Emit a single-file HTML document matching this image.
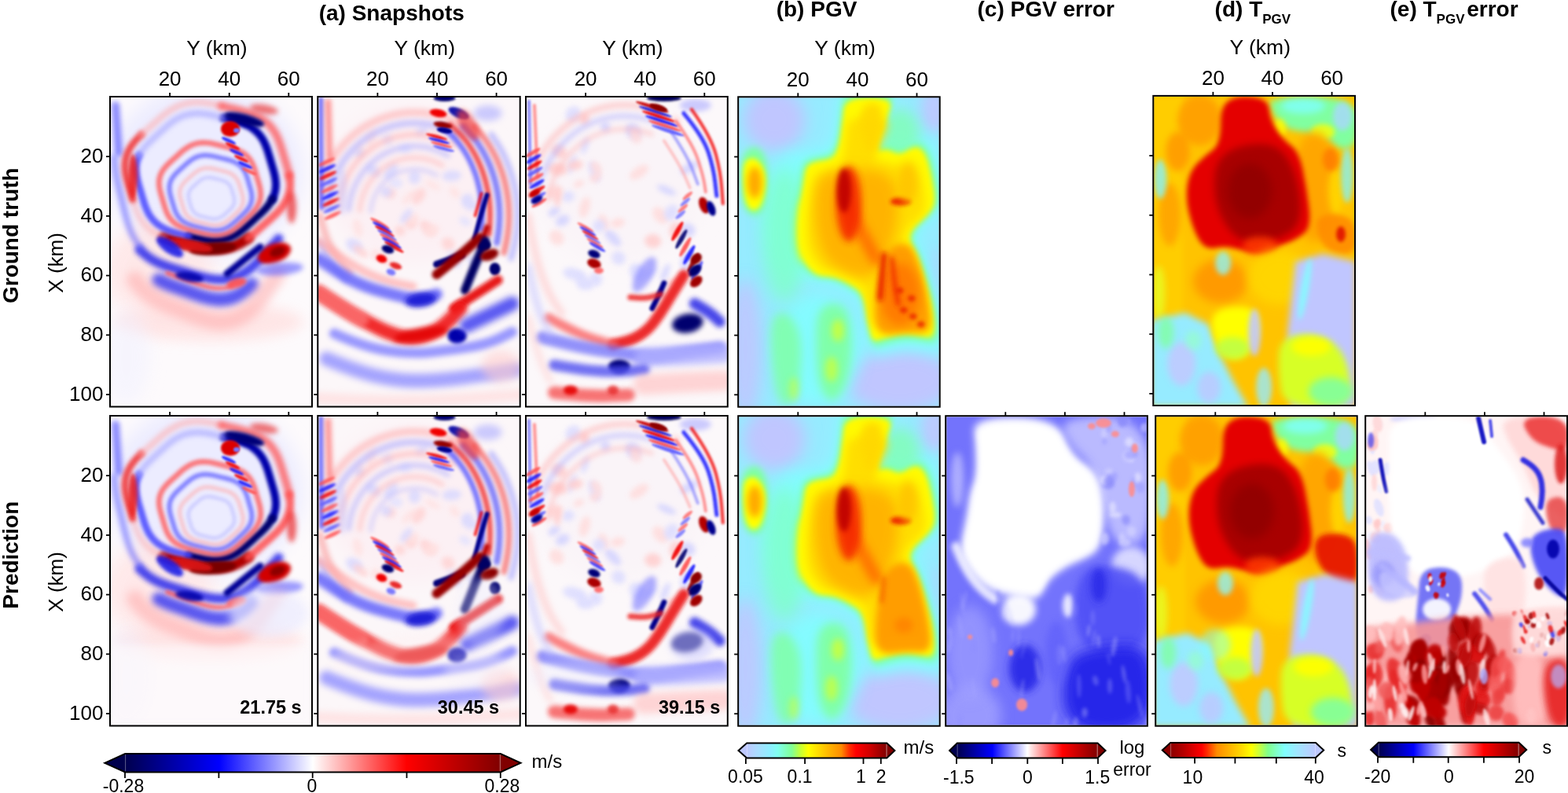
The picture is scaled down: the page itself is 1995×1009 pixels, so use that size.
<!DOCTYPE html>
<html><head><meta charset="utf-8"><title>Figure</title>
<style>html,body{margin:0;padding:0;background:#fff;}body{width:1995px;height:1009px;overflow:hidden;}svg{display:block;}text{fill:#000;}</style>
</head><body><svg width="1995" height="1009" viewBox="0 0 1995 1009" font-family="'Liberation Sans', Arial, sans-serif"><defs><linearGradient id="gseis" x1="0" x2="1" y1="0" y2="0"><stop offset="0.000" stop-color="rgb(0,0,77)"/><stop offset="0.250" stop-color="rgb(0,0,255)"/><stop offset="0.500" stop-color="rgb(255,255,255)"/><stop offset="0.750" stop-color="rgb(255,0,0)"/><stop offset="1.000" stop-color="rgb(128,0,0)"/></linearGradient><linearGradient id="gpgv" x1="0" x2="1" y1="0" y2="0"><stop offset="0.000" stop-color="rgb(190,200,255)"/><stop offset="0.074" stop-color="rgb(170,220,255)"/><stop offset="0.170" stop-color="rgb(140,240,255)"/><stop offset="0.220" stop-color="rgb(128,255,240)"/><stop offset="0.320" stop-color="rgb(128,255,150)"/><stop offset="0.386" stop-color="rgb(200,255,50)"/><stop offset="0.440" stop-color="rgb(255,255,0)"/><stop offset="0.590" stop-color="rgb(255,180,0)"/><stop offset="0.675" stop-color="rgb(255,140,0)"/><stop offset="0.730" stop-color="rgb(255,50,0)"/><stop offset="0.780" stop-color="rgb(255,0,0)"/><stop offset="0.875" stop-color="rgb(210,0,0)"/><stop offset="1.000" stop-color="rgb(128,0,0)"/></linearGradient><linearGradient id="gtpgv" x1="0" x2="1" y1="0" y2="0"><stop offset="0.000" stop-color="rgb(140,0,0)"/><stop offset="0.087" stop-color="rgb(180,0,0)"/><stop offset="0.215" stop-color="rgb(255,0,0)"/><stop offset="0.250" stop-color="rgb(255,40,0)"/><stop offset="0.320" stop-color="rgb(255,140,0)"/><stop offset="0.386" stop-color="rgb(255,170,0)"/><stop offset="0.495" stop-color="rgb(255,220,0)"/><stop offset="0.557" stop-color="rgb(255,255,0)"/><stop offset="0.603" stop-color="rgb(210,255,50)"/><stop offset="0.672" stop-color="rgb(128,255,140)"/><stop offset="0.786" stop-color="rgb(128,255,255)"/><stop offset="0.875" stop-color="rgb(160,230,255)"/><stop offset="1.000" stop-color="rgb(190,200,255)"/></linearGradient><clipPath id="c_a1r1"><rect x="141.0" y="124.0" width="255.0" height="392.5"/></clipPath><clipPath id="c_a2r1"><rect x="405.3" y="124.0" width="255.4" height="392.5"/></clipPath><clipPath id="c_a3r1"><rect x="670.0" y="124.0" width="254.8" height="392.5"/></clipPath><clipPath id="c_br1"><rect x="940.2" y="124.3" width="254.5" height="392.4"/></clipPath><clipPath id="c_dr1"><rect x="1468.3" y="122.9" width="254.7" height="392.1"/></clipPath><clipPath id="c_a1r2"><rect x="141.0" y="530.0" width="255.0" height="392.5"/></clipPath><clipPath id="c_a2r2"><rect x="405.3" y="530.0" width="255.4" height="392.5"/></clipPath><clipPath id="c_a3r2"><rect x="670.0" y="530.0" width="254.8" height="392.5"/></clipPath><clipPath id="c_br2"><rect x="940.2" y="530.2" width="254.5" height="392.5"/></clipPath><clipPath id="c_cr2"><rect x="1204.2" y="530.2" width="254.7" height="392.5"/></clipPath><clipPath id="c_dr2"><rect x="1471.2" y="530.2" width="254.5" height="392.5"/></clipPath><clipPath id="c_er2"><rect x="1738.2" y="530.2" width="254.8" height="392.5"/></clipPath><filter id="b0_8" filterUnits="userSpaceOnUse" x="-60" y="-60" width="380" height="520"><feGaussianBlur stdDeviation="0.8"/></filter><filter id="b1" filterUnits="userSpaceOnUse" x="-60" y="-60" width="380" height="520"><feGaussianBlur stdDeviation="1"/></filter><filter id="b1_2" filterUnits="userSpaceOnUse" x="-60" y="-60" width="380" height="520"><feGaussianBlur stdDeviation="1.2"/></filter><filter id="b1_3" filterUnits="userSpaceOnUse" x="-60" y="-60" width="380" height="520"><feGaussianBlur stdDeviation="1.3"/></filter><filter id="b1_5" filterUnits="userSpaceOnUse" x="-60" y="-60" width="380" height="520"><feGaussianBlur stdDeviation="1.5"/></filter><filter id="b2" filterUnits="userSpaceOnUse" x="-60" y="-60" width="380" height="520"><feGaussianBlur stdDeviation="2"/></filter><filter id="b2_5" filterUnits="userSpaceOnUse" x="-60" y="-60" width="380" height="520"><feGaussianBlur stdDeviation="2.5"/></filter><filter id="b3" filterUnits="userSpaceOnUse" x="-60" y="-60" width="380" height="520"><feGaussianBlur stdDeviation="3"/></filter><filter id="b4" filterUnits="userSpaceOnUse" x="-60" y="-60" width="380" height="520"><feGaussianBlur stdDeviation="4"/></filter><filter id="b5" filterUnits="userSpaceOnUse" x="-60" y="-60" width="380" height="520"><feGaussianBlur stdDeviation="5"/></filter><filter id="b6" filterUnits="userSpaceOnUse" x="-60" y="-60" width="380" height="520"><feGaussianBlur stdDeviation="6"/></filter><filter id="b7" filterUnits="userSpaceOnUse" x="-60" y="-60" width="380" height="520"><feGaussianBlur stdDeviation="7"/></filter><filter id="b8" filterUnits="userSpaceOnUse" x="-60" y="-60" width="380" height="520"><feGaussianBlur stdDeviation="8"/></filter><filter id="b10" filterUnits="userSpaceOnUse" x="-60" y="-60" width="380" height="520"><feGaussianBlur stdDeviation="10"/></filter><filter id="b12" filterUnits="userSpaceOnUse" x="-60" y="-60" width="380" height="520"><feGaussianBlur stdDeviation="12"/></filter></defs><g clip-path="url(#c_a1r1)"><g transform="translate(141.0,124.0) scale(1.0000,1.0013)"><rect x="0" y="0" width="255" height="392" fill="rgb(253,250,252)" opacity="1"/><ellipse cx="120" cy="95" rx="125" ry="110" fill="rgb(236,236,255)" opacity="1" filter="url(#b12)"/><ellipse cx="60" cy="220" rx="70" ry="60" fill="rgb(255,228,228)" opacity="0.8" filter="url(#b12)"/><ellipse cx="125" cy="285" rx="120" ry="25" fill="rgb(255,225,225)" opacity="0.8" filter="url(#b8)"/><ellipse cx="20" cy="330" rx="30" ry="60" fill="rgb(240,240,255)" opacity="0.5" filter="url(#b10)"/><path d="M6.0,10.0 Q8.0,40.0 9.0,55.0 L10.0,70.0" fill="none" stroke="rgb(90,90,255)" stroke-width="10" stroke-linecap="round" stroke-linejoin="round" opacity="0.7" filter="url(#b3)"/><path d="M213.5,179.5 Q205.0,189.1 200.7,194.0 Q196.4,198.8 192.0,203.6 Q187.5,208.5 182.6,213.0 Q177.7,217.5 172.2,221.1 Q166.7,224.8 160.7,227.3 Q154.7,229.7 148.3,230.7 Q142.0,231.6 135.6,231.3 Q129.3,230.9 123.1,229.6 Q116.9,228.3 110.9,226.6 Q104.9,224.9 99.1,223.1 Q93.3,221.3 87.4,219.6 Q81.5,217.8 75.6,215.9 Q69.6,214.0 63.7,211.6 Q57.8,209.2 52.2,205.8 Q46.5,202.4 41.6,197.9 L36.6,193.3" fill="none" stroke="rgb(40,40,235)" stroke-width="12" stroke-linecap="round" opacity="0.85" filter="url(#b3)"/><path d="M38.1,191.1 Q30.2,180.3 27.3,174.2 Q24.3,168.0 22.2,161.6 Q20.0,155.1 18.4,148.6 Q16.7,142.1 15.2,135.7 Q13.7,129.3 12.2,123.0 Q10.6,116.6 9.1,110.1 Q7.6,103.6 6.5,96.9 Q5.3,90.1 4.9,83.2 L4.5,76.2" fill="none" stroke="rgb(90,90,255)" stroke-width="8" stroke-linecap="round" opacity="0.55" filter="url(#b3)"/><path d="M179.7,237.7 Q170.2,246.2 164.9,249.3 Q159.7,252.5 154.1,254.3 Q148.5,256.1 142.7,256.5 Q136.9,256.9 131.2,256.1 Q125.5,255.3 120.0,253.8 Q114.4,252.3 109.1,250.4 Q103.7,248.6 98.4,246.7 Q93.1,244.8 87.9,243.0 Q82.6,241.1 77.2,239.2 Q71.8,237.2 66.5,234.7 L61.1,232.3" fill="none" stroke="rgb(60,60,240)" stroke-width="18" stroke-linecap="round" opacity="0.85" filter="url(#b4)"/><path d="M153.9,240.3 Q143.2,242.6 137.8,242.5 Q132.4,242.5 127.1,241.5 Q121.8,240.5 116.7,238.9 Q111.6,237.3 106.6,235.6 Q101.6,233.8 96.7,232.1 Q91.8,230.4 86.8,228.7 Q81.8,226.9 76.8,225.0 L71.7,223.1" fill="none" stroke="rgb(255,80,80)" stroke-width="5" stroke-linecap="round" opacity="0.8" filter="url(#b2)"/><path d="M211.8,223.9 Q203.2,236.7 198.7,243.1 Q194.3,249.5 189.5,255.6 Q184.7,261.8 179.4,267.1 Q174.0,272.4 168.1,276.3 Q162.2,280.2 156.0,282.3 Q149.7,284.5 143.2,284.9 Q136.8,285.2 130.4,284.1 Q124.0,283.0 117.8,281.0 Q111.7,279.0 105.7,276.6 Q99.7,274.3 93.8,271.9 Q87.9,269.6 82.0,267.3 Q76.1,265.0 70.0,262.4 Q64.0,259.8 58.0,256.5 Q52.1,253.1 46.4,248.5 Q40.8,244.0 35.8,237.9 L30.8,231.9" fill="none" stroke="rgb(255,170,170)" stroke-width="22" stroke-linecap="round" opacity="0.55" filter="url(#b6)"/><path d="M175.0,178.7 Q166.6,184.2 162.0,186.4 Q157.3,188.5 152.3,189.9 Q147.2,191.2 142.0,191.7 Q136.8,192.1 131.5,191.8 Q126.3,191.5 121.2,190.6 Q116.2,189.7 111.3,188.6 Q106.3,187.5 101.5,186.3 Q96.7,185.2 91.9,184.0 Q87.1,182.9 82.2,181.7 Q77.3,180.5 72.4,179.0 L67.5,177.5" fill="none" stroke="rgb(175,0,0)" stroke-width="14" stroke-linecap="round" opacity="1" filter="url(#b2_5)"/><path d="M227.0,99.0 Q228.2,107.9 228.1,112.4 Q227.9,116.9 226.8,121.3 Q225.8,125.7 223.7,129.8 Q221.7,134.0 219.0,137.7 Q216.2,141.5 213.0,144.9 Q209.8,148.3 206.3,151.4 Q202.9,154.6 199.5,157.6 Q196.0,160.6 192.6,163.6 Q189.2,166.6 185.8,169.7 Q182.3,172.7 178.7,175.7 L175.0,178.7" fill="none" stroke="rgb(255,80,80)" stroke-width="10" stroke-linecap="round" opacity="0.85" filter="url(#b2_5)"/><path d="M67.5,177.5 Q58.5,173.6 54.3,171.0 Q50.2,168.4 46.7,165.2 Q43.2,161.9 40.4,158.2 Q37.6,154.4 35.6,150.4 Q33.5,146.3 31.9,142.1 Q30.4,138.0 29.1,133.8 L27.8,129.6" fill="none" stroke="rgb(255,170,170)" stroke-width="8" stroke-linecap="round" opacity="0.5" filter="url(#b3)"/><path d="M27.8,129.6 Q25.3,121.3 24.1,117.2 Q22.8,113.0 21.5,108.8 Q20.3,104.6 19.4,100.2 Q18.4,95.8 18.1,91.3 Q17.7,86.7 18.2,82.2 Q18.7,77.7 20.2,73.3 Q21.6,69.0 24.0,65.0 Q26.3,60.9 29.3,57.3 Q32.3,53.6 35.7,50.3 L39.1,47.0" fill="none" stroke="rgb(240,50,50)" stroke-width="9" stroke-linecap="round" opacity="0.85" filter="url(#b2_5)"/><path d="M39.1,47.0 Q46.5,40.4 50.2,37.1 Q53.9,33.9 57.6,30.6 Q61.3,27.3 65.2,24.0 Q69.1,20.8 73.4,17.8 Q77.7,14.8 82.5,12.4 Q87.3,10.0 92.5,8.5 Q97.8,6.9 103.2,6.4 Q108.7,5.9 114.2,6.2 Q119.7,6.5 125.0,7.5 Q130.3,8.4 135.5,9.6 L140.6,10.8" fill="none" stroke="rgb(255,170,170)" stroke-width="8" stroke-linecap="round" opacity="0.6" filter="url(#b3)"/><path d="M140.6,10.8 Q150.3,13.1 155.2,14.2 Q160.1,15.4 165.1,16.6 Q170.0,17.9 175.0,19.4 Q179.9,21.0 184.6,23.2 Q189.4,25.4 193.6,28.3 Q197.8,31.2 201.3,34.7 Q204.7,38.3 207.4,42.4 Q210.0,46.5 212.0,50.8 Q213.9,55.2 215.4,59.6 Q216.9,64.0 218.2,68.3 Q219.5,72.7 220.8,77.0 Q222.1,81.3 223.4,85.6 Q224.7,90.0 225.9,94.5 L227.0,99.0" fill="none" stroke="rgb(255,80,80)" stroke-width="10" stroke-linecap="round" opacity="0.75" filter="url(#b3)"/><path d="M143.1,26.0 Q151.7,28.1 156.0,29.2 Q160.4,30.3 164.7,31.8 Q169.1,33.2 173.2,35.2 Q177.4,37.1 181.1,39.8 Q184.7,42.4 187.7,45.7 Q190.7,49.0 193.0,52.7 Q195.2,56.5 196.8,60.4 Q198.5,64.3 199.7,68.3 Q200.9,72.3 202.1,76.2 Q203.2,80.1 204.4,84.0 Q205.5,87.9 206.7,91.9 Q207.8,95.8 208.7,100.0 Q209.5,104.1 209.8,108.3 Q210.1,112.6 209.5,116.8 Q208.9,121.0 207.4,125.0 L205.8,129.1" fill="none" stroke="rgb(0,0,170)" stroke-width="10" stroke-linecap="round" opacity="1" filter="url(#b2)"/><path d="M205.8,129.1 Q201.4,136.1 198.6,139.3 Q195.9,142.4 192.9,145.3 Q189.9,148.2 186.8,150.9 Q183.8,153.6 180.8,156.4 Q177.9,159.1 174.8,161.8 Q171.8,164.6 168.6,167.3 Q165.4,170.0 161.9,172.4 Q158.3,174.9 154.4,176.8 Q150.4,178.7 146.2,179.9 Q141.9,181.1 137.4,181.6 Q133.0,182.0 128.5,181.7 Q124.1,181.4 119.8,180.7 Q115.4,179.9 111.3,179.0 Q107.1,178.0 103.0,177.0 L98.9,176.0" fill="none" stroke="rgb(0,0,110)" stroke-width="10" stroke-linecap="round" opacity="1" filter="url(#b2)"/><path d="M98.9,176.0 Q90.3,173.9 86.0,172.8 Q81.6,171.7 77.3,170.2 Q72.9,168.8 68.8,166.8 Q64.6,164.9 60.9,162.2 Q57.3,159.6 54.3,156.3 Q51.3,153.0 49.0,149.3 Q46.8,145.5 45.2,141.6 Q43.5,137.7 42.3,133.7 Q41.1,129.7 39.9,125.8 Q38.8,121.9 37.6,118.0 Q36.5,114.1 35.3,110.1 Q34.2,106.2 33.3,102.0 Q32.5,97.9 32.2,93.7 Q31.9,89.4 32.5,85.2 Q33.1,81.0 34.6,77.0 L36.2,72.9" fill="none" stroke="rgb(70,70,255)" stroke-width="9" stroke-linecap="round" opacity="0.85" filter="url(#b2)"/><path d="M36.2,72.9 Q40.6,65.9 43.4,62.7 Q46.1,59.6 49.1,56.7 Q52.1,53.8 55.2,51.1 Q58.2,48.4 61.2,45.6 Q64.1,42.9 67.2,40.2 Q70.2,37.4 73.4,34.7 Q76.6,32.0 80.1,29.6 Q83.7,27.1 87.6,25.2 Q91.6,23.3 95.8,22.1 Q100.1,20.9 104.6,20.4 Q109.0,20.0 113.5,20.3 Q117.9,20.6 122.2,21.3 Q126.6,22.1 130.7,23.0 Q134.9,24.0 139.0,25.0 L143.1,26.0" fill="none" stroke="rgb(170,170,255)" stroke-width="8" stroke-linecap="round" opacity="0.75" filter="url(#b3)"/><path d="M190.0,116.0 Q190.8,122.1 190.6,125.1 Q190.4,128.2 189.6,131.2 Q188.7,134.1 187.2,136.9 Q185.7,139.7 183.8,142.1 Q181.8,144.6 179.6,146.8 Q177.3,149.1 175.0,151.1 Q172.7,153.2 170.5,155.3 Q168.2,157.3 165.9,159.4 Q163.7,161.5 161.2,163.5 Q158.8,165.6 156.2,167.4 Q153.5,169.3 150.6,170.8 Q147.6,172.3 144.4,173.2 Q141.1,174.1 137.8,174.4 Q134.4,174.7 131.0,174.5 Q127.7,174.2 124.4,173.6 Q121.1,173.1 118.0,172.3 Q114.8,171.5 111.7,170.8 Q108.6,170.0 105.5,169.3 Q102.4,168.5 99.3,167.7 Q96.1,166.9 93.0,165.8 Q89.8,164.7 86.9,163.2 Q83.9,161.7 81.4,159.7 Q78.8,157.7 76.7,155.3 Q74.7,152.8 73.1,150.1 Q71.6,147.4 70.5,144.5 Q69.4,141.7 68.5,138.8 Q67.6,136.0 66.8,133.1 Q66.0,130.3 65.1,127.5 Q64.3,124.7 63.5,121.8 Q62.7,119.0 62.1,116.0 Q61.5,113.0 61.4,109.9 Q61.2,106.9 61.7,103.8 Q62.3,100.8 63.4,97.9 Q64.6,95.0 66.4,92.4 Q68.1,89.8 70.3,87.5 Q72.4,85.1 74.7,83.0 Q77.0,80.8 79.3,78.8 Q81.5,76.7 83.8,74.7 Q86.1,72.6 88.4,70.5 Q90.7,68.5 93.2,66.5 Q95.7,64.5 98.5,62.8 Q101.4,61.1 104.5,59.9 Q107.6,58.7 110.9,58.0 Q114.2,57.4 117.6,57.4 Q121.0,57.4 124.3,57.8 Q127.6,58.3 130.8,59.0 Q134.0,59.7 137.2,60.5 Q140.3,61.2 143.4,62.0 Q146.5,62.7 149.6,63.5 Q152.7,64.2 155.9,65.2 Q159.0,66.1 162.1,67.4 Q165.2,68.7 168.0,70.4 Q170.7,72.2 173.1,74.4 Q175.4,76.6 177.2,79.2 Q179.0,81.9 180.3,84.7 Q181.6,87.5 182.6,90.3 Q183.6,93.2 184.4,96.0 Q185.2,98.9 186.0,101.7 Q186.9,104.5 187.7,107.3 Q188.6,110.1 189.3,113.1 L190.0,116.0" fill="none" stroke="rgb(255,80,80)" stroke-width="7" stroke-linecap="round" opacity="0.75" filter="url(#b2)"/><path d="M179.0,121.0 Q179.6,125.9 179.5,128.4 Q179.3,130.9 178.7,133.3 Q178.0,135.7 176.7,137.9 Q175.5,140.2 173.9,142.2 Q172.3,144.2 170.5,146.0 Q168.7,147.8 166.8,149.5 Q165.0,151.2 163.1,152.8 Q161.3,154.5 159.4,156.2 Q157.6,157.8 155.6,159.5 Q153.7,161.2 151.5,162.7 Q149.4,164.2 147.0,165.4 Q144.5,166.6 141.9,167.3 Q139.3,168.1 136.6,168.3 Q133.8,168.6 131.1,168.4 Q128.3,168.2 125.7,167.7 Q123.0,167.2 120.5,166.6 Q117.9,166.0 115.4,165.4 Q112.9,164.8 110.4,164.2 Q107.8,163.6 105.3,162.9 Q102.7,162.2 100.2,161.3 Q97.6,160.5 95.2,159.2 Q92.8,158.0 90.7,156.4 Q88.6,154.8 87.0,152.8 Q85.3,150.8 84.0,148.6 Q82.8,146.4 81.9,144.1 Q81.0,141.8 80.3,139.5 Q79.6,137.2 78.9,134.9 Q78.2,132.6 77.5,130.3 Q76.9,128.1 76.2,125.7 Q75.5,123.4 75.1,121.0 Q74.6,118.6 74.5,116.1 Q74.4,113.6 74.8,111.1 Q75.2,108.7 76.2,106.3 Q77.1,104.0 78.6,101.9 Q80.0,99.8 81.7,97.9 Q83.5,96.0 85.3,94.2 Q87.2,92.5 89.0,90.8 Q90.9,89.2 92.7,87.5 Q94.5,85.8 96.4,84.2 Q98.3,82.5 100.4,80.9 Q102.4,79.3 104.7,77.9 Q107.0,76.5 109.5,75.5 Q112.0,74.5 114.7,74.0 Q117.4,73.5 120.2,73.5 Q122.9,73.5 125.6,73.9 Q128.3,74.2 130.9,74.8 Q133.5,75.4 136.1,76.0 Q138.6,76.6 141.1,77.2 Q143.6,77.8 146.2,78.4 Q148.7,79.1 151.3,79.8 Q153.9,80.6 156.3,81.6 Q158.8,82.7 161.1,84.1 Q163.4,85.5 165.2,87.3 Q167.1,89.1 168.6,91.2 Q170.1,93.3 171.1,95.6 Q172.2,97.9 173.0,100.2 Q173.8,102.5 174.4,104.8 Q175.1,107.1 175.8,109.4 Q176.5,111.7 177.1,114.0 Q177.8,116.3 178.4,118.6 L179.0,121.0" fill="none" stroke="rgb(90,90,255)" stroke-width="6" stroke-linecap="round" opacity="0.75" filter="url(#b2)"/><path d="M168.0,126.0 Q168.5,129.8 168.4,131.7 Q168.3,133.6 167.7,135.4 Q167.2,137.3 166.3,139.0 Q165.3,140.7 164.1,142.2 Q162.9,143.8 161.5,145.1 Q160.1,146.5 158.6,147.8 Q157.2,149.1 155.8,150.4 Q154.4,151.6 153.0,152.9 Q151.5,154.2 150.0,155.5 Q148.5,156.8 146.9,157.9 Q145.2,159.1 143.4,160.0 Q141.5,160.9 139.5,161.5 Q137.5,162.1 135.4,162.3 Q133.2,162.4 131.1,162.3 Q129.0,162.2 127.0,161.8 Q125.0,161.4 123.0,160.9 Q121.0,160.5 119.1,160.0 Q117.2,159.5 115.2,159.1 Q113.3,158.6 111.3,158.1 Q109.3,157.6 107.4,156.9 Q105.4,156.2 103.6,155.3 Q101.7,154.4 100.1,153.1 Q98.5,151.9 97.2,150.4 Q95.9,148.9 95.0,147.2 Q94.0,145.5 93.3,143.7 Q92.6,141.9 92.1,140.2 Q91.5,138.4 91.0,136.6 Q90.5,134.9 90.0,133.2 Q89.4,131.4 88.9,129.6 Q88.4,127.8 88.1,126.0 Q87.7,124.1 87.6,122.2 Q87.5,120.3 87.8,118.4 Q88.2,116.6 88.9,114.8 Q89.6,113.0 90.7,111.4 Q91.8,109.7 93.2,108.3 Q94.5,106.8 95.9,105.5 Q97.4,104.2 98.8,102.9 Q100.2,101.6 101.6,100.3 Q103.0,99.1 104.5,97.8 Q105.9,96.5 107.5,95.3 Q109.1,94.0 110.8,93.0 Q112.6,91.9 114.5,91.2 Q116.5,90.4 118.6,90.0 Q120.6,89.6 122.8,89.6 Q124.9,89.6 126.9,89.9 Q129.0,90.2 131.0,90.6 Q133.0,91.0 135.0,91.5 Q136.9,92.0 138.9,92.5 Q140.8,92.9 142.7,93.4 Q144.7,93.9 146.7,94.5 Q148.7,95.0 150.6,95.8 Q152.5,96.6 154.2,97.7 Q156.0,98.8 157.4,100.2 Q158.9,101.6 160.0,103.2 Q161.1,104.8 161.9,106.6 Q162.8,108.3 163.4,110.1 Q164.0,111.9 164.5,113.6 Q165.0,115.4 165.5,117.1 Q166.0,118.8 166.6,120.6 Q167.1,122.4 167.5,124.2 L168.0,126.0" fill="none" stroke="rgb(255,170,170)" stroke-width="5" stroke-linecap="round" opacity="0.6" filter="url(#b2)"/><path d="M157.0,128.0 Q157.3,130.7 157.3,132.1 Q157.2,133.5 156.8,134.8 Q156.4,136.1 155.7,137.4 Q155.1,138.6 154.2,139.7 Q153.3,140.8 152.3,141.8 Q151.3,142.8 150.2,143.8 Q149.2,144.7 148.2,145.6 Q147.1,146.5 146.1,147.5 Q145.1,148.4 144.0,149.3 Q142.9,150.2 141.7,151.1 Q140.5,151.9 139.1,152.6 Q137.8,153.2 136.3,153.6 Q134.9,154.1 133.3,154.2 Q131.8,154.3 130.3,154.2 Q128.8,154.1 127.3,153.8 Q125.8,153.6 124.4,153.2 Q122.9,152.9 121.5,152.6 Q120.1,152.2 118.7,151.9 Q117.3,151.6 115.9,151.2 Q114.5,150.8 113.0,150.3 Q111.6,149.8 110.3,149.2 Q108.9,148.5 107.8,147.6 Q106.6,146.7 105.7,145.6 Q104.7,144.5 104.0,143.3 Q103.3,142.1 102.8,140.8 Q102.3,139.5 101.9,138.2 Q101.5,136.9 101.2,135.7 Q100.8,134.4 100.4,133.2 Q100.0,131.9 99.7,130.6 Q99.3,129.3 99.0,128.0 Q98.8,126.6 98.7,125.3 Q98.7,123.9 98.9,122.5 Q99.1,121.2 99.7,119.9 Q100.2,118.6 101.0,117.4 Q101.8,116.3 102.8,115.2 Q103.7,114.2 104.8,113.2 Q105.8,112.2 106.8,111.3 Q107.9,110.4 108.9,109.5 Q109.9,108.5 111.0,107.6 Q112.0,106.7 113.1,105.8 Q114.3,104.9 115.6,104.1 Q116.8,103.4 118.2,102.8 Q119.7,102.3 121.2,102.0 Q122.7,101.7 124.2,101.7 Q125.7,101.7 127.2,101.9 Q128.7,102.1 130.2,102.4 Q131.6,102.8 133.1,103.1 Q134.5,103.4 135.9,103.8 Q137.3,104.1 138.7,104.5 Q140.1,104.8 141.5,105.2 Q143.0,105.6 144.4,106.2 Q145.8,106.8 147.0,107.6 Q148.3,108.4 149.3,109.4 Q150.4,110.4 151.2,111.5 Q152.0,112.7 152.6,114.0 Q153.2,115.2 153.6,116.5 Q154.1,117.8 154.5,119.1 Q154.8,120.3 155.2,121.6 Q155.6,122.8 156.0,124.1 Q156.3,125.4 156.7,126.7 L157.0,128.0" fill="none" stroke="rgb(170,170,255)" stroke-width="4" stroke-linecap="round" opacity="0.55" filter="url(#b2)"/><ellipse cx="170" cy="28" rx="26" ry="7" fill="rgb(0,0,120)" opacity="1" transform="rotate(15 170 28)" filter="url(#b2)"/><ellipse cx="152" cy="40" rx="12" ry="10" fill="rgb(220,0,0)" opacity="1" filter="url(#b1_5)"/><ellipse cx="160" cy="42" rx="4" ry="3" fill="rgb(120,120,255)" opacity="1" filter="url(#b1)"/><ellipse cx="150" cy="55" rx="10" ry="2.5" fill="rgb(20,20,255)" opacity="0.85" transform="rotate(25 150 55)" filter="url(#b1)"/><ellipse cx="155" cy="62" rx="10" ry="2.5" fill="rgb(240,0,0)" opacity="0.85" transform="rotate(25 155 62)" filter="url(#b1)"/><ellipse cx="160" cy="70" rx="10" ry="2.5" fill="rgb(20,20,255)" opacity="0.85" transform="rotate(25 160 70)" filter="url(#b1)"/><ellipse cx="166" cy="78" rx="10" ry="2.5" fill="rgb(240,0,0)" opacity="0.85" transform="rotate(25 166 78)" filter="url(#b1)"/><ellipse cx="171" cy="86" rx="10" ry="2.5" fill="rgb(20,20,255)" opacity="0.85" transform="rotate(25 171 86)" filter="url(#b1)"/><ellipse cx="176" cy="94" rx="10" ry="2.5" fill="rgb(255,80,80)" opacity="0.85" transform="rotate(25 176 94)" filter="url(#b1)"/><ellipse cx="130" cy="192" rx="30" ry="8" fill="rgb(120,0,0)" opacity="1" transform="rotate(-5 130 192)" filter="url(#b2)"/><ellipse cx="100" cy="188" rx="30" ry="7" fill="rgb(220,20,20)" opacity="0.9" transform="rotate(10 100 188)" filter="url(#b2)"/><ellipse cx="208" cy="198" rx="22" ry="12" fill="rgb(210,0,0)" opacity="1" transform="rotate(-20 208 198)" filter="url(#b2_5)"/><ellipse cx="212" cy="196" rx="10" ry="6" fill="rgb(140,0,0)" opacity="1" transform="rotate(-20 212 196)" filter="url(#b2)"/><path d="M148.0,224.0 Q165.0,210.0 177.5,200.0 L190.0,190.0" fill="none" stroke="rgb(0,0,150)" stroke-width="9" stroke-linecap="round" stroke-linejoin="round" opacity="1" filter="url(#b2)"/><ellipse cx="160" cy="236" rx="13" ry="6" fill="rgb(255,80,80)" opacity="0.9" transform="rotate(-15 160 236)" filter="url(#b2)"/><ellipse cx="75" cy="190" rx="20" ry="8" fill="rgb(30,30,230)" opacity="0.9" transform="rotate(35 75 190)" filter="url(#b2)"/><ellipse cx="100" cy="228" rx="18" ry="6" fill="rgb(0,0,170)" opacity="0.9" transform="rotate(10 100 228)" filter="url(#b2)"/><ellipse cx="215" cy="218" rx="30" ry="8" fill="rgb(90,90,255)" opacity="0.6" transform="rotate(-5 215 218)" filter="url(#b3)"/><ellipse cx="28" cy="100" rx="6" ry="28" fill="rgb(235,30,30)" opacity="0.85" filter="url(#b2)"/><ellipse cx="230" cy="140" rx="6" ry="20" fill="rgb(235,40,40)" opacity="0.7" filter="url(#b3)"/><ellipse cx="195" cy="15" rx="18" ry="6" fill="rgb(235,60,60)" opacity="0.7" transform="rotate(10 195 15)" filter="url(#b3)"/></g></g><rect x="140.0" y="123.0" width="257.0" height="394.5" fill="none" stroke="#000" stroke-width="2"/><line x1="216.1" y1="118.0" x2="216.1" y2="123.0" stroke="#000" stroke-width="1.8"/><line x1="291.7" y1="118.0" x2="291.7" y2="123.0" stroke="#000" stroke-width="1.8"/><line x1="367.3" y1="118.0" x2="367.3" y2="123.0" stroke="#000" stroke-width="1.8"/><line x1="135.0" y1="199.2" x2="140.0" y2="199.2" stroke="#000" stroke-width="1.8"/><line x1="135.0" y1="274.9" x2="140.0" y2="274.9" stroke="#000" stroke-width="1.8"/><line x1="135.0" y1="350.6" x2="140.0" y2="350.6" stroke="#000" stroke-width="1.8"/><line x1="135.0" y1="426.3" x2="140.0" y2="426.3" stroke="#000" stroke-width="1.8"/><line x1="135.0" y1="502.0" x2="140.0" y2="502.0" stroke="#000" stroke-width="1.8"/><g clip-path="url(#c_a2r1)"><g transform="translate(405.3,124.0) scale(1.0016,1.0013)"><rect x="0" y="0" width="255" height="392" fill="rgb(252,247,249)" opacity="1"/><ellipse cx="120" cy="110" rx="110" ry="100" fill="rgb(252,240,244)" opacity="1" filter="url(#b12)"/><ellipse cx="138.4" cy="166.1" rx="11.9" ry="7.1" fill="rgb(255,210,210)" opacity="0.8" transform="rotate(45 138.4 166.1)" filter="url(#b3)"/><ellipse cx="52.8" cy="66.7" rx="9.3" ry="5.0" fill="rgb(255,225,225)" opacity="0.8" transform="rotate(98 52.8 66.7)" filter="url(#b3)"/><ellipse cx="131.1" cy="42.2" rx="8.9" ry="4.7" fill="rgb(215,215,255)" opacity="0.8" transform="rotate(156 131.1 42.2)" filter="url(#b3)"/><ellipse cx="103.4" cy="169.5" rx="7.0" ry="6.5" fill="rgb(255,210,210)" opacity="0.8" transform="rotate(23 103.4 169.5)" filter="url(#b3)"/><ellipse cx="45.3" cy="188.1" rx="11.4" ry="7.8" fill="rgb(215,215,255)" opacity="0.8" transform="rotate(30 45.3 188.1)" filter="url(#b3)"/><ellipse cx="70.0" cy="93.3" rx="9.8" ry="6.7" fill="rgb(215,215,255)" opacity="0.8" transform="rotate(37 70.0 93.3)" filter="url(#b3)"/><ellipse cx="186.1" cy="157.4" rx="8.1" ry="5.4" fill="rgb(225,225,255)" opacity="0.8" transform="rotate(30 186.1 157.4)" filter="url(#b3)"/><ellipse cx="66.9" cy="51.1" rx="11.7" ry="6.3" fill="rgb(255,225,225)" opacity="0.8" transform="rotate(107 66.9 51.1)" filter="url(#b3)"/><ellipse cx="151.2" cy="51.2" rx="11.7" ry="5.9" fill="rgb(255,225,225)" opacity="0.8" transform="rotate(57 151.2 51.2)" filter="url(#b3)"/><ellipse cx="117.2" cy="159.8" rx="7.8" ry="7.8" fill="rgb(255,210,210)" opacity="0.8" transform="rotate(171 117.2 159.8)" filter="url(#b3)"/><ellipse cx="98.6" cy="108.7" rx="8.6" ry="6.3" fill="rgb(225,225,255)" opacity="0.8" transform="rotate(2 98.6 108.7)" filter="url(#b3)"/><ellipse cx="52.0" cy="70.8" rx="6.8" ry="5.0" fill="rgb(215,215,255)" opacity="0.8" transform="rotate(148 52.0 70.8)" filter="url(#b3)"/><ellipse cx="114.3" cy="127.1" rx="11.4" ry="4.4" fill="rgb(255,225,225)" opacity="0.8" transform="rotate(135 114.3 127.1)" filter="url(#b3)"/><ellipse cx="164.6" cy="186.1" rx="9.0" ry="7.9" fill="rgb(255,210,210)" opacity="0.8" transform="rotate(38 164.6 186.1)" filter="url(#b3)"/><ellipse cx="121.9" cy="101.6" rx="8.4" ry="7.7" fill="rgb(215,215,255)" opacity="0.8" transform="rotate(98 121.9 101.6)" filter="url(#b3)"/><ellipse cx="91.9" cy="93.9" rx="11.6" ry="6.5" fill="rgb(215,215,255)" opacity="0.8" transform="rotate(130 91.9 93.9)" filter="url(#b3)"/><ellipse cx="91.4" cy="122.2" rx="6.6" ry="6.4" fill="rgb(255,210,210)" opacity="0.8" transform="rotate(166 91.4 122.2)" filter="url(#b3)"/><ellipse cx="49.8" cy="165.9" rx="11.8" ry="5.8" fill="rgb(255,225,225)" opacity="0.8" transform="rotate(76 49.8 165.9)" filter="url(#b3)"/><ellipse cx="53.4" cy="195.7" rx="11.6" ry="5.3" fill="rgb(255,210,210)" opacity="0.8" transform="rotate(37 53.4 195.7)" filter="url(#b3)"/><ellipse cx="192.2" cy="135.9" rx="10.4" ry="7.2" fill="rgb(215,215,255)" opacity="0.8" transform="rotate(19 192.2 135.9)" filter="url(#b3)"/><ellipse cx="110.2" cy="65.4" rx="8.1" ry="5.8" fill="rgb(225,225,255)" opacity="0.8" transform="rotate(180 110.2 65.4)" filter="url(#b3)"/><ellipse cx="172.8" cy="205.9" rx="12.7" ry="6.8" fill="rgb(225,225,255)" opacity="0.8" transform="rotate(57 172.8 205.9)" filter="url(#b3)"/><ellipse cx="86.1" cy="119.9" rx="6.8" ry="7.3" fill="rgb(215,215,255)" opacity="0.8" transform="rotate(96 86.1 119.9)" filter="url(#b3)"/><ellipse cx="71.9" cy="199.3" rx="7.3" ry="6.0" fill="rgb(255,225,225)" opacity="0.8" transform="rotate(93 71.9 199.3)" filter="url(#b3)"/><ellipse cx="127.2" cy="125.5" rx="11.5" ry="7.1" fill="rgb(255,210,210)" opacity="0.8" transform="rotate(125 127.2 125.5)" filter="url(#b3)"/><ellipse cx="144.6" cy="169.1" rx="9.9" ry="6.7" fill="rgb(255,225,225)" opacity="0.8" transform="rotate(150 144.6 169.1)" filter="url(#b3)"/><ellipse cx="84.7" cy="206.8" rx="12.7" ry="5.4" fill="rgb(255,225,225)" opacity="0.8" transform="rotate(32 84.7 206.8)" filter="url(#b3)"/><ellipse cx="172.8" cy="120.6" rx="8.3" ry="5.1" fill="rgb(255,225,225)" opacity="0.8" transform="rotate(52 172.8 120.6)" filter="url(#b3)"/><ellipse cx="120.1" cy="154.5" rx="8.4" ry="6.6" fill="rgb(255,225,225)" opacity="0.8" transform="rotate(133 120.1 154.5)" filter="url(#b3)"/><ellipse cx="169.2" cy="99.5" rx="12.1" ry="6.8" fill="rgb(215,215,255)" opacity="0.8" transform="rotate(176 169.2 99.5)" filter="url(#b3)"/><ellipse cx="188.5" cy="128.1" rx="7.4" ry="5.4" fill="rgb(215,215,255)" opacity="0.8" transform="rotate(154 188.5 128.1)" filter="url(#b3)"/><ellipse cx="87.4" cy="53.4" rx="7.2" ry="7.1" fill="rgb(225,225,255)" opacity="0.8" transform="rotate(105 87.4 53.4)" filter="url(#b3)"/><ellipse cx="144.8" cy="111.5" rx="11.0" ry="4.1" fill="rgb(255,225,225)" opacity="0.8" transform="rotate(29 144.8 111.5)" filter="url(#b3)"/><ellipse cx="111.2" cy="150.5" rx="11.3" ry="4.7" fill="rgb(215,215,255)" opacity="0.8" transform="rotate(129 111.2 150.5)" filter="url(#b3)"/><ellipse cx="193.0" cy="206.6" rx="6.4" ry="4.5" fill="rgb(215,215,255)" opacity="0.8" transform="rotate(57 193.0 206.6)" filter="url(#b3)"/><path d="M-2.5,138.6 Q-0.8,125.5 0.7,119.1 Q2.1,112.7 4.2,106.5 Q6.3,100.3 9.0,94.3 Q11.6,88.4 14.8,82.7 Q18.1,77.1 21.8,71.8 Q25.5,66.5 29.8,61.7 Q34.0,56.8 38.7,52.4 Q43.3,48.0 48.4,44.1 Q53.5,40.2 58.9,36.9 Q64.3,33.6 70.0,30.8 Q75.7,28.1 81.6,26.0 Q87.5,23.8 93.7,22.3 Q99.8,20.8 106.0,20.0 Q112.2,19.2 118.5,19.0 Q124.7,18.8 131.0,19.3 Q137.2,19.7 143.4,20.9 Q149.6,22.0 155.6,23.8 Q161.7,25.5 167.5,27.9 Q173.3,30.3 178.9,33.3 L184.5,36.3" fill="none" stroke="rgb(255,170,170)" stroke-width="9" stroke-linecap="round" opacity="0.55" filter="url(#b3)"/><path d="M10.4,139.8 Q12.0,128.1 13.3,122.3 Q14.6,116.6 16.5,111.0 Q18.3,105.5 20.7,100.1 Q23.1,94.8 26.0,89.7 Q28.9,84.7 32.2,79.9 Q35.6,75.2 39.4,70.8 Q43.2,66.5 47.3,62.5 Q51.5,58.6 56.1,55.1 Q60.6,51.7 65.4,48.7 Q70.3,45.7 75.4,43.2 Q80.5,40.8 85.8,38.9 Q91.1,37.0 96.6,35.6 Q102.1,34.3 107.6,33.5 Q113.2,32.8 118.8,32.6 Q124.4,32.4 130.0,32.9 Q135.6,33.3 141.2,34.3 Q146.7,35.3 152.1,36.9 Q157.5,38.5 162.8,40.6 Q168.0,42.8 173.0,45.5 L178.0,48.2" fill="none" stroke="rgb(170,170,255)" stroke-width="8" stroke-linecap="round" opacity="0.6" filter="url(#b3)"/><path d="M24.4,141.0 Q25.7,130.8 26.9,125.8 Q28.0,120.8 29.7,115.9 Q31.3,111.0 33.4,106.4 Q35.5,101.7 38.0,97.3 Q40.5,92.8 43.4,88.7 Q46.4,84.5 49.7,80.7 Q53.0,76.9 56.7,73.5 Q60.3,70.0 64.3,67.0 Q68.3,63.9 72.5,61.3 Q76.7,58.7 81.2,56.6 Q85.7,54.4 90.3,52.8 Q95.0,51.1 99.8,49.9 Q104.6,48.7 109.4,48.1 Q114.3,47.4 119.2,47.3 Q124.1,47.1 129.0,47.5 Q133.9,47.9 138.8,48.8 Q143.6,49.6 148.4,51.0 Q153.1,52.4 157.7,54.3 Q162.3,56.2 166.6,58.5 L171.0,60.9" fill="none" stroke="rgb(255,170,170)" stroke-width="7" stroke-linecap="round" opacity="0.5" filter="url(#b3)"/><path d="M38.3,142.3 Q39.5,133.5 40.5,129.2 Q41.5,124.9 42.9,120.8 Q44.3,116.6 46.0,112.6 Q47.8,108.6 50.0,104.8 Q52.2,101.0 54.7,97.4 Q57.2,93.9 60.0,90.6 Q62.9,87.4 66.0,84.4 Q69.1,81.5 72.5,78.8 Q75.9,76.2 79.6,74.0 Q83.2,71.8 87.0,69.9 Q90.9,68.1 94.9,66.6 Q98.8,65.2 102.9,64.2 Q107.1,63.2 111.2,62.6 Q115.4,62.1 119.6,61.9 Q123.8,61.8 128.0,62.1 Q132.2,62.5 136.4,63.2 Q140.5,64.0 144.6,65.2 Q148.7,66.4 152.6,68.0 Q156.5,69.6 160.3,71.6 L164.0,73.6" fill="none" stroke="rgb(170,170,255)" stroke-width="7" stroke-linecap="round" opacity="0.5" filter="url(#b3)"/><path d="M52.3,143.6 Q53.2,136.3 54.1,132.7 Q54.9,129.1 56.0,125.6 Q57.2,122.2 58.7,118.8 Q60.2,115.5 62.0,112.3 Q63.8,109.2 65.9,106.2 Q68.0,103.2 70.4,100.5 Q72.7,97.8 75.3,95.3 Q77.9,92.9 80.8,90.7 Q83.6,88.5 86.6,86.7 Q89.7,84.8 92.9,83.3 Q96.1,81.7 99.4,80.5 Q102.7,79.3 106.1,78.5 Q109.5,77.7 113.0,77.2 Q116.5,76.7 120.0,76.6 Q123.5,76.5 127.0,76.8 Q130.5,77.0 134.0,77.7 Q137.4,78.3 140.8,79.3 Q144.2,80.3 147.5,81.6 Q150.8,83.0 153.9,84.7 L157.0,86.3" fill="none" stroke="rgb(255,170,170)" stroke-width="6" stroke-linecap="round" opacity="0.45" filter="url(#b3)"/><path d="M66.2,144.9 Q67.0,139.0 67.6,136.2 Q68.3,133.3 69.2,130.5 Q70.2,127.7 71.4,125.1 Q72.6,122.4 74.0,119.9 Q75.4,117.3 77.1,115.0 Q78.8,112.6 80.7,110.4 Q82.6,108.2 84.7,106.3 Q86.8,104.3 89.0,102.6 Q91.3,100.8 93.7,99.3 Q96.1,97.8 98.7,96.6 Q101.2,95.4 103.9,94.4 Q106.6,93.5 109.3,92.8 Q112.0,92.1 114.8,91.8 Q117.6,91.4 120.4,91.3 Q123.2,91.2 126.0,91.4 Q128.8,91.6 131.6,92.1 Q134.4,92.6 137.1,93.4 Q139.8,94.2 142.4,95.3 Q145.0,96.4 147.5,97.7 L150.0,99.1" fill="none" stroke="rgb(170,170,255)" stroke-width="5" stroke-linecap="round" opacity="0.4" filter="url(#b3)"/><path d="M3.0,2.0 Q3.0,60.0 3.5,100.0 L4.0,140.0" fill="none" stroke="rgb(90,90,255)" stroke-width="6" stroke-linecap="round" stroke-linejoin="round" opacity="0.85" filter="url(#b2)"/><path d="M12.0,5.0 Q13.0,40.0 13.5,58.0 L14.0,76.0" fill="none" stroke="rgb(255,80,80)" stroke-width="7" stroke-linecap="round" stroke-linejoin="round" opacity="0.65" filter="url(#b3)"/><ellipse cx="10" cy="82.0" rx="12" ry="2.6" fill="rgb(255,80,80)" opacity="0.85" transform="rotate(-25 10 82.0)" filter="url(#b1_5)"/><ellipse cx="11" cy="90.5" rx="12" ry="2.6" fill="rgb(20,20,255)" opacity="0.85" transform="rotate(-25 11 90.5)" filter="url(#b1_5)"/><ellipse cx="12" cy="99.0" rx="12" ry="2.6" fill="rgb(240,0,0)" opacity="0.85" transform="rotate(-25 12 99.0)" filter="url(#b1_5)"/><ellipse cx="13" cy="107.5" rx="12" ry="2.6" fill="rgb(90,90,255)" opacity="0.85" transform="rotate(-25 13 107.5)" filter="url(#b1_5)"/><ellipse cx="14" cy="116.0" rx="12" ry="2.6" fill="rgb(255,80,80)" opacity="0.85" transform="rotate(-25 14 116.0)" filter="url(#b1_5)"/><ellipse cx="15" cy="124.5" rx="12" ry="2.6" fill="rgb(20,20,255)" opacity="0.85" transform="rotate(-25 15 124.5)" filter="url(#b1_5)"/><ellipse cx="16" cy="133.0" rx="12" ry="2.6" fill="rgb(240,0,0)" opacity="0.85" transform="rotate(-25 16 133.0)" filter="url(#b1_5)"/><ellipse cx="17" cy="141.5" rx="12" ry="2.6" fill="rgb(90,90,255)" opacity="0.85" transform="rotate(-25 17 141.5)" filter="url(#b1_5)"/><ellipse cx="18" cy="150.0" rx="12" ry="2.6" fill="rgb(255,80,80)" opacity="0.85" transform="rotate(-25 18 150.0)" filter="url(#b1_5)"/><ellipse cx="30" cy="120" rx="6" ry="30" fill="rgb(200,200,255)" opacity="0.5" filter="url(#b3)"/><path d="M2.0,150.0 Q8.0,175.0 14.0,187.5 Q20.0,200.0 30.0,211.0 L40.0,222.0" fill="none" stroke="rgb(250,150,150)" stroke-width="9" stroke-linecap="round" stroke-linejoin="round" opacity="0.6" filter="url(#b3)"/><path d="M2.0,185.0 Q15.0,210.0 25.0,221.0 L35.0,232.0" fill="none" stroke="rgb(150,150,255)" stroke-width="7" stroke-linecap="round" stroke-linejoin="round" opacity="0.6" filter="url(#b3)"/><path d="M156.0,37.0 Q164.6,43.7 168.6,47.6 Q172.6,51.5 176.2,55.9 Q179.9,60.3 183.2,65.2 Q186.5,70.0 189.4,75.3 Q192.3,80.6 194.8,86.2 Q197.3,91.9 199.4,97.8 Q201.4,103.8 202.9,110.0 Q204.5,116.2 205.6,122.5 Q206.7,128.9 207.2,135.3 Q207.8,141.8 207.9,148.3 Q207.9,154.8 207.5,161.3 L207.0,167.8" fill="none" stroke="rgb(90,90,255)" stroke-width="7" stroke-linecap="round" opacity="0.8" filter="url(#b2)"/><path d="M167.2,34.7 Q176.0,42.3 180.1,46.7 Q184.1,51.1 187.8,55.9 Q191.5,60.8 194.8,66.1 Q198.1,71.3 201.0,77.0 Q203.8,82.7 206.3,88.7 Q208.7,94.7 210.6,101.0 Q212.5,107.2 213.9,113.7 Q215.4,120.2 216.3,126.8 Q217.2,133.4 217.6,140.1 Q218.0,146.8 217.8,153.6 Q217.7,160.3 217.0,166.9 L216.4,173.6" fill="none" stroke="rgb(240,60,60)" stroke-width="7" stroke-linecap="round" opacity="0.85" filter="url(#b2)"/><path d="M183.9,36.5 Q192.6,45.5 196.6,50.5 Q200.6,55.5 204.1,61.0 Q207.7,66.4 210.8,72.2 Q213.9,78.0 216.6,84.1 Q219.2,90.3 221.3,96.7 Q223.5,103.1 225.1,109.8 Q226.7,116.4 227.8,123.2 Q228.8,130.0 229.4,136.8 Q229.9,143.7 229.9,150.6 Q229.8,157.5 229.3,164.4 Q228.7,171.3 227.6,178.1 L226.4,184.8" fill="none" stroke="rgb(90,90,250)" stroke-width="8" stroke-linecap="round" opacity="0.75" filter="url(#b2_5)"/><path d="M198.3,37.0 Q207.3,47.3 211.4,52.9 Q215.4,58.5 219.0,64.6 Q222.5,70.6 225.6,77.0 Q228.6,83.4 231.1,90.1 Q233.6,96.8 235.6,103.7 Q237.5,110.7 238.8,117.8 Q240.2,124.9 240.9,132.2 Q241.7,139.4 241.8,146.7 Q242.0,154.0 241.5,161.3 Q241.0,168.5 239.9,175.7 Q238.9,182.9 237.2,189.9 L235.5,197.0" fill="none" stroke="rgb(245,100,100)" stroke-width="8" stroke-linecap="round" opacity="0.7" filter="url(#b2_5)"/><path d="M219.5,47.2 Q227.8,59.3 231.4,65.7 Q235.0,72.2 238.0,79.0 Q241.0,85.9 243.4,93.0 Q245.9,100.1 247.7,107.4 Q249.5,114.8 250.7,122.2 Q251.8,129.7 252.4,137.3 Q252.9,144.9 252.8,152.5 Q252.7,160.1 252.0,167.7 Q251.2,175.3 249.8,182.7 Q248.4,190.2 246.4,197.5 L244.4,204.7" fill="none" stroke="rgb(150,150,255)" stroke-width="7" stroke-linecap="round" opacity="0.6" filter="url(#b3)"/><ellipse cx="160" cy="1" rx="14" ry="4" fill="rgb(0,0,110)" opacity="1" filter="url(#b1_5)"/><ellipse cx="178" cy="20" rx="14" ry="6" fill="rgb(20,20,170)" opacity="1" transform="rotate(25 178 20)" filter="url(#b1_5)"/><ellipse cx="152" cy="20" rx="11" ry="5" fill="rgb(240,0,0)" opacity="1" transform="rotate(10 152 20)" filter="url(#b1_5)"/><ellipse cx="158" cy="35" rx="12" ry="4" fill="rgb(150,0,0)" opacity="1" transform="rotate(10 158 35)" filter="url(#b1_5)"/><ellipse cx="160" cy="42" rx="10" ry="3.5" fill="rgb(0,0,140)" opacity="1" transform="rotate(10 160 42)" filter="url(#b1_2)"/><ellipse cx="150" cy="50" rx="14" ry="2.2" fill="rgb(240,0,0)" opacity="0.85" transform="rotate(15 150 50)" filter="url(#b1_2)"/><ellipse cx="153" cy="55" rx="14" ry="2.2" fill="rgb(20,20,255)" opacity="0.85" transform="rotate(15 153 55)" filter="url(#b1_2)"/><ellipse cx="156" cy="60" rx="14" ry="2.2" fill="rgb(255,80,80)" opacity="0.85" transform="rotate(15 156 60)" filter="url(#b1_2)"/><ellipse cx="159" cy="65" rx="14" ry="2.2" fill="rgb(90,90,255)" opacity="0.85" transform="rotate(15 159 65)" filter="url(#b1_2)"/><ellipse cx="190" cy="35" rx="10" ry="22" fill="rgb(240,60,60)" opacity="0.7" transform="rotate(-30 190 35)" filter="url(#b3)"/><ellipse cx="215" cy="20" rx="18" ry="10" fill="rgb(170,170,255)" opacity="0.6" filter="url(#b4)"/><path d="M214.0,124.0 Q206.0,150.0 202.0,165.0 L198.0,180.0" fill="none" stroke="rgb(0,0,140)" stroke-width="6" stroke-linecap="round" stroke-linejoin="round" opacity="1" filter="url(#b1_5)"/><path d="M207.0,122.0 L199.0,150.0" fill="none" stroke="rgb(240,0,0)" stroke-width="4" stroke-linecap="round" stroke-linejoin="round" opacity="0.8" filter="url(#b1_5)"/><path d="M214.0,165.0 L205.0,190.0" fill="none" stroke="rgb(190,0,0)" stroke-width="7" stroke-linecap="round" stroke-linejoin="round" opacity="1" filter="url(#b2)"/><ellipse cx="211" cy="188" rx="8" ry="7" fill="rgb(0,0,100)" opacity="1" filter="url(#b1_5)"/><ellipse cx="78" cy="160" rx="14" ry="2.5" fill="rgb(255,80,80)" opacity="0.85" transform="rotate(30 78 160)" filter="url(#b1_3)"/><ellipse cx="81" cy="165" rx="14" ry="2.5" fill="rgb(20,20,255)" opacity="0.85" transform="rotate(30 81 165)" filter="url(#b1_3)"/><ellipse cx="84" cy="170" rx="14" ry="2.5" fill="rgb(240,0,0)" opacity="0.85" transform="rotate(30 84 170)" filter="url(#b1_3)"/><ellipse cx="87" cy="175" rx="14" ry="2.5" fill="rgb(90,90,255)" opacity="0.85" transform="rotate(30 87 175)" filter="url(#b1_3)"/><ellipse cx="90" cy="180" rx="14" ry="2.5" fill="rgb(255,80,80)" opacity="0.85" transform="rotate(30 90 180)" filter="url(#b1_3)"/><ellipse cx="93" cy="185" rx="14" ry="2.5" fill="rgb(20,20,255)" opacity="0.85" transform="rotate(30 93 185)" filter="url(#b1_3)"/><ellipse cx="96" cy="190" rx="14" ry="2.5" fill="rgb(240,0,0)" opacity="0.85" transform="rotate(30 96 190)" filter="url(#b1_3)"/><ellipse cx="88" cy="193" rx="8" ry="5" fill="rgb(0,0,110)" opacity="1" transform="rotate(20 88 193)" filter="url(#b1_5)"/><ellipse cx="80" cy="205" rx="7" ry="5" fill="rgb(240,0,0)" opacity="1" transform="rotate(20 80 205)" filter="url(#b1_5)"/><ellipse cx="98" cy="214" rx="8" ry="4" fill="rgb(230,20,20)" opacity="0.9" transform="rotate(20 98 214)" filter="url(#b1_5)"/><ellipse cx="92" cy="222" rx="6" ry="4" fill="rgb(90,90,255)" opacity="0.8" transform="rotate(20 92 222)" filter="url(#b1_5)"/><path d="M0.0,182.0 Q40.0,212.0 60.0,222.0 Q80.0,232.0 100.0,236.0 L120.0,240.0" fill="none" stroke="rgb(255,170,170)" stroke-width="10" stroke-linecap="round" stroke-linejoin="round" opacity="0.7" filter="url(#b3)"/><path d="M0.0,205.0 Q30.0,226.0 45.0,233.5 Q60.0,241.0 80.0,246.5 Q100.0,252.0 115.0,255.0 Q130.0,258.0 140.0,254.0 L150.0,250.0" fill="none" stroke="rgb(100,100,250)" stroke-width="15" stroke-linecap="round" stroke-linejoin="round" opacity="0.85" filter="url(#b3)"/><ellipse cx="130" cy="257" rx="20" ry="9" fill="rgb(20,20,210)" opacity="0.9" transform="rotate(-8 130 257)" filter="url(#b3)"/><path d="M150.0,212.0 Q165.0,207.0 173.5,203.5 L182.0,200.0" fill="none" stroke="rgb(0,0,120)" stroke-width="9" stroke-linecap="round" stroke-linejoin="round" opacity="1" filter="url(#b1_5)"/><path d="M150.0,225.0 Q175.0,205.0 190.0,191.5 L205.0,178.0" fill="none" stroke="rgb(150,0,0)" stroke-width="12" stroke-linecap="round" stroke-linejoin="round" opacity="1" filter="url(#b2)"/><path d="M212.0,182.0 Q200.0,210.0 193.0,227.5 L186.0,245.0" fill="none" stroke="rgb(0,0,100)" stroke-width="11" stroke-linecap="round" stroke-linejoin="round" opacity="1" filter="url(#b2)"/><ellipse cx="217" cy="200" rx="12" ry="7" fill="rgb(140,0,0)" opacity="1" transform="rotate(-20 217 200)" filter="url(#b2)"/><ellipse cx="224" cy="218" rx="7" ry="8" fill="rgb(0,0,110)" opacity="1" filter="url(#b1_5)"/><path d="M228.0,232.0 Q200.0,250.0 186.0,259.0 L172.0,268.0" fill="none" stroke="rgb(230,10,10)" stroke-width="12" stroke-linecap="round" stroke-linejoin="round" opacity="0.95" filter="url(#b2_5)"/><path d="M0.0,248.0 Q30.0,268.0 45.0,276.5 Q60.0,285.0 75.0,292.5 Q90.0,300.0 103.5,303.5 Q117.0,307.0 131.0,303.5 Q145.0,300.0 155.0,292.5 Q165.0,285.0 172.5,276.5 L180.0,268.0" fill="none" stroke="rgb(240,25,25)" stroke-width="18" stroke-linecap="round" stroke-linejoin="round" opacity="0.9" filter="url(#b3)"/><path d="M0.0,248.0 Q30.0,268.0 42.5,275.0 L55.0,282.0" fill="none" stroke="rgb(255,140,140)" stroke-width="18" stroke-linecap="round" stroke-linejoin="round" opacity="0.6" filter="url(#b3)"/><ellipse cx="130" cy="301" rx="35" ry="8" fill="rgb(225,0,0)" opacity="0.8" transform="rotate(-10 130 301)" filter="url(#b3)"/><ellipse cx="176" cy="303" rx="12" ry="10" fill="rgb(0,0,170)" opacity="1" filter="url(#b2)"/><path d="M188.0,290.0 Q215.0,277.0 230.5,269.5 L246.0,262.0" fill="none" stroke="rgb(60,60,240)" stroke-width="18" stroke-linecap="round" stroke-linejoin="round" opacity="0.85" filter="url(#b4)"/><path d="M20.0,300.0 Q60.0,318.0 88.5,322.0 Q117.0,326.0 138.5,324.0 Q160.0,322.0 187.0,318.0 Q214.0,314.0 230.0,306.0 L246.0,298.0" fill="none" stroke="rgb(120,120,255)" stroke-width="13" stroke-linecap="round" stroke-linejoin="round" opacity="0.75" filter="url(#b3)"/><path d="M10.0,332.0 Q48.0,348.0 74.0,354.0 Q100.0,360.0 125.0,360.0 Q150.0,360.0 182.0,356.0 Q214.0,352.0 232.0,349.0 L250.0,346.0" fill="none" stroke="rgb(135,135,255)" stroke-width="18" stroke-linecap="round" stroke-linejoin="round" opacity="0.75" filter="url(#b4)"/><ellipse cx="232" cy="342" rx="25" ry="20" fill="rgb(255,205,205)" opacity="0.6" filter="url(#b6)"/><path d="M0.0,382.0 Q100.0,388.0 177.5,383.0 L255.0,378.0" fill="none" stroke="rgb(255,215,215)" stroke-width="14" stroke-linecap="round" stroke-linejoin="round" opacity="0.6" filter="url(#b4)"/></g></g><rect x="404.3" y="123.0" width="257.4" height="394.5" fill="none" stroke="#000" stroke-width="2"/><line x1="480.4" y1="118.0" x2="480.4" y2="123.0" stroke="#000" stroke-width="1.8"/><line x1="556.0" y1="118.0" x2="556.0" y2="123.0" stroke="#000" stroke-width="1.8"/><line x1="631.6" y1="118.0" x2="631.6" y2="123.0" stroke="#000" stroke-width="1.8"/><line x1="399.3" y1="199.2" x2="404.3" y2="199.2" stroke="#000" stroke-width="1.8"/><line x1="399.3" y1="274.9" x2="404.3" y2="274.9" stroke="#000" stroke-width="1.8"/><line x1="399.3" y1="350.6" x2="404.3" y2="350.6" stroke="#000" stroke-width="1.8"/><line x1="399.3" y1="426.3" x2="404.3" y2="426.3" stroke="#000" stroke-width="1.8"/><line x1="399.3" y1="502.0" x2="404.3" y2="502.0" stroke="#000" stroke-width="1.8"/><g clip-path="url(#c_a3r1)"><g transform="translate(670.0,124.0) scale(0.9992,1.0013)"><rect x="0" y="0" width="255" height="392" fill="rgb(252,248,250)" opacity="1"/><ellipse cx="120" cy="110" rx="110" ry="100" fill="rgb(250,244,248)" opacity="1" filter="url(#b12)"/><ellipse cx="74.0" cy="139.7" rx="13.3" ry="6.4" fill="rgb(255,220,220)" opacity="0.85" transform="rotate(105 74.0 139.7)" filter="url(#b3)"/><ellipse cx="142.0" cy="219.9" rx="8.1" ry="5.2" fill="rgb(220,220,255)" opacity="0.85" transform="rotate(179 142.0 219.9)" filter="url(#b3)"/><ellipse cx="117.0" cy="204.0" rx="9.2" ry="8.3" fill="rgb(220,220,255)" opacity="0.85" transform="rotate(42 117.0 204.0)" filter="url(#b3)"/><ellipse cx="58.1" cy="223.7" rx="11.9" ry="7.4" fill="rgb(220,220,255)" opacity="0.85" transform="rotate(12 58.1 223.7)" filter="url(#b3)"/><ellipse cx="170.3" cy="150.0" rx="12.2" ry="8.1" fill="rgb(255,220,220)" opacity="0.85" transform="rotate(48 170.3 150.0)" filter="url(#b3)"/><ellipse cx="140.0" cy="222.4" rx="11.7" ry="8.6" fill="rgb(220,220,255)" opacity="0.85" transform="rotate(71 140.0 222.4)" filter="url(#b3)"/><ellipse cx="178.2" cy="117.8" rx="13.0" ry="4.5" fill="rgb(210,210,255)" opacity="0.85" transform="rotate(24 178.2 117.8)" filter="url(#b3)"/><ellipse cx="70.1" cy="232.4" rx="12.2" ry="8.3" fill="rgb(220,220,255)" opacity="0.85" transform="rotate(76 70.1 232.4)" filter="url(#b3)"/><ellipse cx="184.2" cy="146.3" rx="10.7" ry="8.5" fill="rgb(220,220,255)" opacity="0.85" transform="rotate(123 184.2 146.3)" filter="url(#b3)"/><ellipse cx="201.9" cy="208.4" rx="11.6" ry="5.6" fill="rgb(210,210,255)" opacity="0.85" transform="rotate(98 201.9 208.4)" filter="url(#b3)"/><ellipse cx="135.8" cy="42.9" rx="11.1" ry="8.9" fill="rgb(210,210,255)" opacity="0.85" transform="rotate(48 135.8 42.9)" filter="url(#b3)"/><ellipse cx="53.0" cy="126.0" rx="6.7" ry="8.0" fill="rgb(220,220,255)" opacity="0.85" transform="rotate(74 53.0 126.0)" filter="url(#b3)"/><ellipse cx="57.9" cy="84.7" rx="13.0" ry="4.2" fill="rgb(220,220,255)" opacity="0.85" transform="rotate(111 57.9 84.7)" filter="url(#b3)"/><ellipse cx="38.3" cy="178.1" rx="10.4" ry="8.6" fill="rgb(255,220,220)" opacity="0.85" transform="rotate(50 38.3 178.1)" filter="url(#b3)"/><ellipse cx="73.7" cy="27.9" rx="6.6" ry="7.0" fill="rgb(255,205,205)" opacity="0.85" transform="rotate(6 73.7 27.9)" filter="url(#b3)"/><ellipse cx="66.5" cy="109.7" rx="7.2" ry="4.2" fill="rgb(255,220,220)" opacity="0.85" transform="rotate(156 66.5 109.7)" filter="url(#b3)"/><ellipse cx="88.1" cy="230.9" rx="9.0" ry="8.3" fill="rgb(220,220,255)" opacity="0.85" transform="rotate(70 88.1 230.9)" filter="url(#b3)"/><ellipse cx="190.4" cy="169.8" rx="11.0" ry="8.7" fill="rgb(255,205,205)" opacity="0.85" transform="rotate(91 190.4 169.8)" filter="url(#b3)"/><ellipse cx="109.8" cy="178.5" rx="13.5" ry="6.2" fill="rgb(210,210,255)" opacity="0.85" transform="rotate(46 109.8 178.5)" filter="url(#b3)"/><ellipse cx="86.1" cy="94.6" rx="13.9" ry="5.6" fill="rgb(220,220,255)" opacity="0.85" transform="rotate(68 86.1 94.6)" filter="url(#b3)"/><ellipse cx="139.0" cy="49.3" rx="9.7" ry="7.4" fill="rgb(255,220,220)" opacity="0.85" transform="rotate(63 139.0 49.3)" filter="url(#b3)"/><ellipse cx="160.8" cy="182.4" rx="10.7" ry="8.8" fill="rgb(255,205,205)" opacity="0.85" transform="rotate(4 160.8 182.4)" filter="url(#b3)"/><ellipse cx="98.3" cy="158.2" rx="10.7" ry="5.6" fill="rgb(255,220,220)" opacity="0.85" transform="rotate(66 98.3 158.2)" filter="url(#b3)"/><ellipse cx="87.8" cy="101.2" rx="8.4" ry="5.9" fill="rgb(255,220,220)" opacity="0.85" transform="rotate(139 87.8 101.2)" filter="url(#b3)"/><ellipse cx="35.0" cy="145.2" rx="8.5" ry="5.1" fill="rgb(210,210,255)" opacity="0.85" transform="rotate(145 35.0 145.2)" filter="url(#b3)"/><ellipse cx="74.2" cy="61.2" rx="11.2" ry="4.5" fill="rgb(220,220,255)" opacity="0.85" transform="rotate(108 74.2 61.2)" filter="url(#b3)"/><ellipse cx="205.6" cy="168.5" rx="9.5" ry="8.3" fill="rgb(210,210,255)" opacity="0.85" transform="rotate(30 205.6 168.5)" filter="url(#b3)"/><ellipse cx="92.3" cy="163.1" rx="8.2" ry="7.9" fill="rgb(220,220,255)" opacity="0.85" transform="rotate(6 92.3 163.1)" filter="url(#b3)"/><ellipse cx="207.2" cy="89.3" rx="12.9" ry="5.7" fill="rgb(210,210,255)" opacity="0.85" transform="rotate(149 207.2 89.3)" filter="url(#b3)"/><ellipse cx="45.8" cy="156.3" rx="9.4" ry="6.6" fill="rgb(210,210,255)" opacity="0.85" transform="rotate(153 45.8 156.3)" filter="url(#b3)"/><ellipse cx="116.0" cy="159.5" rx="9.4" ry="6.0" fill="rgb(255,220,220)" opacity="0.85" transform="rotate(166 116.0 159.5)" filter="url(#b3)"/><ellipse cx="58.9" cy="21.0" rx="10.5" ry="8.9" fill="rgb(220,220,255)" opacity="0.85" transform="rotate(129 58.9 21.0)" filter="url(#b3)"/><ellipse cx="36.0" cy="120.5" rx="10.4" ry="8.4" fill="rgb(255,220,220)" opacity="0.85" transform="rotate(155 36.0 120.5)" filter="url(#b3)"/><ellipse cx="188.7" cy="233.6" rx="12.5" ry="4.2" fill="rgb(255,205,205)" opacity="0.85" transform="rotate(163 188.7 233.6)" filter="url(#b3)"/><ellipse cx="158.3" cy="223.2" rx="10.6" ry="4.1" fill="rgb(220,220,255)" opacity="0.85" transform="rotate(134 158.3 223.2)" filter="url(#b3)"/><ellipse cx="61.8" cy="86.0" rx="10.2" ry="6.1" fill="rgb(255,205,205)" opacity="0.85" transform="rotate(169 61.8 86.0)" filter="url(#b3)"/><ellipse cx="143.3" cy="95.1" rx="13.8" ry="6.7" fill="rgb(255,220,220)" opacity="0.85" transform="rotate(146 143.3 95.1)" filter="url(#b3)"/><ellipse cx="41.4" cy="68.6" rx="10.3" ry="8.1" fill="rgb(255,205,205)" opacity="0.85" transform="rotate(31 41.4 68.6)" filter="url(#b3)"/><ellipse cx="176.5" cy="222.8" rx="12.6" ry="4.0" fill="rgb(210,210,255)" opacity="0.85" transform="rotate(113 176.5 222.8)" filter="url(#b3)"/><ellipse cx="189.6" cy="31.0" rx="8.0" ry="7.1" fill="rgb(255,220,220)" opacity="0.85" transform="rotate(94 189.6 31.0)" filter="url(#b3)"/><ellipse cx="39.4" cy="91.1" rx="12.9" ry="7.9" fill="rgb(255,205,205)" opacity="0.85" transform="rotate(8 39.4 91.1)" filter="url(#b3)"/><ellipse cx="39.2" cy="126.2" rx="12.8" ry="4.4" fill="rgb(255,205,205)" opacity="0.85" transform="rotate(90 39.2 126.2)" filter="url(#b3)"/><ellipse cx="88.4" cy="89.2" rx="9.1" ry="5.9" fill="rgb(255,220,220)" opacity="0.85" transform="rotate(55 88.4 89.2)" filter="url(#b3)"/><ellipse cx="79.0" cy="237.4" rx="7.0" ry="6.8" fill="rgb(220,220,255)" opacity="0.85" transform="rotate(129 79.0 237.4)" filter="url(#b3)"/><ellipse cx="100.3" cy="37.6" rx="6.3" ry="6.3" fill="rgb(210,210,255)" opacity="0.85" transform="rotate(117 100.3 37.6)" filter="url(#b3)"/><path d="M-1.1,125.6 Q1.9,111.5 4.0,104.6 Q6.1,97.8 8.9,91.2 Q11.6,84.7 15.0,78.4 Q18.3,72.2 22.2,66.4 Q26.1,60.6 30.5,55.3 Q35.0,49.9 39.9,45.1 Q44.8,40.3 50.1,36.1 Q55.4,31.8 61.1,28.2 Q66.8,24.6 72.8,21.7 Q78.8,18.7 85.0,16.4 Q91.2,14.2 97.7,12.6 Q104.1,11.1 110.6,10.3 Q117.1,9.5 123.7,9.4 Q130.3,9.3 136.8,10.0 Q143.3,10.7 149.8,12.1 Q156.2,13.5 162.5,15.6 L168.8,17.7" fill="none" stroke="rgb(255,170,170)" stroke-width="8" stroke-linecap="round" opacity="0.45" filter="url(#b3)"/><path d="M11.7,128.0 Q14.4,115.4 16.3,109.2 Q18.2,103.1 20.7,97.2 Q23.1,91.3 26.1,85.7 Q29.1,80.1 32.6,74.9 Q36.2,69.7 40.1,64.9 Q44.1,60.1 48.5,55.8 Q52.9,51.4 57.7,47.6 Q62.5,43.8 67.6,40.6 Q72.7,37.3 78.1,34.7 Q83.5,32.0 89.1,30.0 Q94.7,28.0 100.4,26.6 Q106.2,25.2 112.1,24.5 Q117.9,23.7 123.8,23.7 Q129.7,23.6 135.6,24.2 Q141.5,24.8 147.3,26.1 Q153.1,27.3 158.7,29.2 L164.3,31.1" fill="none" stroke="rgb(170,170,255)" stroke-width="7" stroke-linecap="round" opacity="0.45" filter="url(#b3)"/><path d="M26.5,130.9 Q28.8,119.9 30.5,114.6 Q32.1,109.2 34.3,104.1 Q36.4,99.0 39.0,94.1 Q41.6,89.2 44.7,84.7 Q47.7,80.2 51.2,76.0 Q54.7,71.8 58.5,68.1 Q62.3,64.3 66.5,61.0 Q70.6,57.7 75.1,54.9 Q79.5,52.0 84.2,49.7 Q88.9,47.4 93.7,45.7 Q98.6,43.9 103.6,42.7 Q108.6,41.5 113.7,40.8 Q118.8,40.2 124.0,40.2 Q129.1,40.1 134.2,40.6 Q139.3,41.1 144.4,42.2 Q149.4,43.3 154.3,45.0 L159.2,46.6" fill="none" stroke="rgb(255,170,170)" stroke-width="6" stroke-linecap="round" opacity="0.4" filter="url(#b3)"/><ellipse cx="175" cy="1" rx="22" ry="4" fill="rgb(0,0,90)" opacity="1" filter="url(#b1_5)"/><ellipse cx="160" cy="12" rx="22" ry="2.6" fill="rgb(200,0,0)" opacity="0.9" transform="rotate(18 160 12)" filter="url(#b1_2)"/><ellipse cx="164" cy="18" rx="22" ry="2.6" fill="rgb(30,30,220)" opacity="0.9" transform="rotate(18 164 18)" filter="url(#b1_2)"/><ellipse cx="168" cy="24" rx="22" ry="2.6" fill="rgb(240,0,0)" opacity="0.9" transform="rotate(18 168 24)" filter="url(#b1_2)"/><ellipse cx="172" cy="30" rx="22" ry="2.6" fill="rgb(20,20,255)" opacity="0.9" transform="rotate(18 172 30)" filter="url(#b1_2)"/><ellipse cx="176" cy="36" rx="22" ry="2.6" fill="rgb(255,80,80)" opacity="0.9" transform="rotate(18 176 36)" filter="url(#b1_2)"/><ellipse cx="180" cy="42" rx="22" ry="2.6" fill="rgb(90,90,255)" opacity="0.9" transform="rotate(18 180 42)" filter="url(#b1_2)"/><ellipse cx="168" cy="13" rx="12" ry="4" fill="rgb(140,0,0)" opacity="1" transform="rotate(18 168 13)" filter="url(#b1_2)"/><ellipse cx="215" cy="10" rx="20" ry="8" fill="rgb(170,170,255)" opacity="0.6" filter="url(#b3)"/><path d="M200.0,20.0 Q225.0,50.0 231.5,70.0 Q238.0,90.0 240.0,107.5 L242.0,125.0" fill="none" stroke="rgb(20,20,255)" stroke-width="5" stroke-linecap="round" stroke-linejoin="round" opacity="0.85" filter="url(#b1_5)"/><path d="M210.0,15.0 Q235.0,50.0 241.0,72.5 Q247.0,95.0 248.5,115.0 L250.0,135.0" fill="none" stroke="rgb(240,0,0)" stroke-width="4" stroke-linecap="round" stroke-linejoin="round" opacity="0.8" filter="url(#b1_5)"/><path d="M190.0,30.0 Q212.0,60.0 218.5,80.0 Q225.0,100.0 226.5,110.0 L228.0,120.0" fill="none" stroke="rgb(255,80,80)" stroke-width="4" stroke-linecap="round" stroke-linejoin="round" opacity="0.6" filter="url(#b1_5)"/><path d="M185.0,45.0 Q205.0,75.0 211.5,92.5 L218.0,110.0" fill="none" stroke="rgb(90,90,255)" stroke-width="4" stroke-linecap="round" stroke-linejoin="round" opacity="0.5" filter="url(#b1_5)"/><path d="M175.0,55.0 Q195.0,85.0 201.5,100.0 L208.0,115.0" fill="none" stroke="rgb(255,150,150)" stroke-width="4" stroke-linecap="round" stroke-linejoin="round" opacity="0.5" filter="url(#b1_5)"/><ellipse cx="226" cy="137" rx="6" ry="11" fill="rgb(180,0,0)" opacity="1" transform="rotate(-20 226 137)" filter="url(#b1_5)"/><ellipse cx="235" cy="141" rx="5" ry="10" fill="rgb(0,0,140)" opacity="1" transform="rotate(-20 235 141)" filter="url(#b1_5)"/><ellipse cx="205" cy="125" rx="8" ry="2.5" fill="rgb(255,80,80)" opacity="0.7" transform="rotate(-40 205 125)" filter="url(#b1_2)"/><ellipse cx="202" cy="133" rx="8" ry="2.5" fill="rgb(90,90,255)" opacity="0.7" transform="rotate(-40 202 133)" filter="url(#b1_2)"/><ellipse cx="199" cy="141" rx="8" ry="2.5" fill="rgb(255,80,80)" opacity="0.7" transform="rotate(-40 199 141)" filter="url(#b1_2)"/><ellipse cx="196" cy="149" rx="8" ry="2.5" fill="rgb(90,90,255)" opacity="0.7" transform="rotate(-40 196 149)" filter="url(#b1_2)"/><path d="M3.0,5.0 Q4.0,60.0 4.5,85.0 L5.0,110.0" fill="none" stroke="rgb(90,90,255)" stroke-width="4" stroke-linecap="round" stroke-linejoin="round" opacity="0.7" filter="url(#b1_5)"/><path d="M10.0,10.0 Q12.0,60.0 13.0,80.0 L14.0,100.0" fill="none" stroke="rgb(255,80,80)" stroke-width="4" stroke-linecap="round" stroke-linejoin="round" opacity="0.6" filter="url(#b1_5)"/><ellipse cx="8" cy="70" rx="11" ry="2.6" fill="rgb(255,80,80)" opacity="0.85" transform="rotate(-30 8 70)" filter="url(#b1_3)"/><ellipse cx="9" cy="78" rx="11" ry="2.6" fill="rgb(20,20,255)" opacity="0.85" transform="rotate(-30 9 78)" filter="url(#b1_3)"/><ellipse cx="10" cy="86" rx="11" ry="2.6" fill="rgb(240,0,0)" opacity="0.85" transform="rotate(-30 10 86)" filter="url(#b1_3)"/><ellipse cx="11" cy="94" rx="11" ry="2.6" fill="rgb(90,90,255)" opacity="0.85" transform="rotate(-30 11 94)" filter="url(#b1_3)"/><ellipse cx="12" cy="102" rx="11" ry="2.6" fill="rgb(255,80,80)" opacity="0.85" transform="rotate(-30 12 102)" filter="url(#b1_3)"/><ellipse cx="13" cy="110" rx="11" ry="2.6" fill="rgb(20,20,255)" opacity="0.85" transform="rotate(-30 13 110)" filter="url(#b1_3)"/><ellipse cx="14" cy="118" rx="11" ry="2.6" fill="rgb(240,0,0)" opacity="0.85" transform="rotate(-30 14 118)" filter="url(#b1_3)"/><ellipse cx="15" cy="126" rx="11" ry="2.6" fill="rgb(90,90,255)" opacity="0.85" transform="rotate(-30 15 126)" filter="url(#b1_3)"/><ellipse cx="16" cy="134" rx="11" ry="2.6" fill="rgb(255,80,80)" opacity="0.85" transform="rotate(-30 16 134)" filter="url(#b1_3)"/><ellipse cx="10" cy="122" rx="8" ry="4" fill="rgb(200,0,0)" opacity="1" transform="rotate(-30 10 122)" filter="url(#b1_5)"/><ellipse cx="13" cy="130" rx="8" ry="4" fill="rgb(0,0,140)" opacity="1" transform="rotate(-30 13 130)" filter="url(#b1_5)"/><ellipse cx="75" cy="165" rx="12" ry="2.2" fill="rgb(255,80,80)" opacity="0.75" transform="rotate(30 75 165)" filter="url(#b1_2)"/><ellipse cx="78" cy="170" rx="12" ry="2.2" fill="rgb(20,20,255)" opacity="0.75" transform="rotate(30 78 170)" filter="url(#b1_2)"/><ellipse cx="81" cy="175" rx="12" ry="2.2" fill="rgb(240,0,0)" opacity="0.75" transform="rotate(30 81 175)" filter="url(#b1_2)"/><ellipse cx="84" cy="180" rx="12" ry="2.2" fill="rgb(90,90,255)" opacity="0.75" transform="rotate(30 84 180)" filter="url(#b1_2)"/><ellipse cx="87" cy="185" rx="12" ry="2.2" fill="rgb(255,80,80)" opacity="0.75" transform="rotate(30 87 185)" filter="url(#b1_2)"/><ellipse cx="90" cy="190" rx="12" ry="2.2" fill="rgb(20,20,255)" opacity="0.75" transform="rotate(30 90 190)" filter="url(#b1_2)"/><ellipse cx="86" cy="199" rx="8" ry="5" fill="rgb(0,0,120)" opacity="1" transform="rotate(20 86 199)" filter="url(#b1_5)"/><ellipse cx="86" cy="211" rx="9" ry="6" fill="rgb(170,0,0)" opacity="1" transform="rotate(20 86 211)" filter="url(#b1_5)"/><ellipse cx="92" cy="220" rx="6" ry="4" fill="rgb(255,80,80)" opacity="0.8" filter="url(#b1_5)"/><ellipse cx="192" cy="170" rx="14" ry="3" fill="rgb(240,0,0)" opacity="0.9" transform="rotate(-60 192 170)" filter="url(#b1_3)"/><ellipse cx="197" cy="180" rx="14" ry="3" fill="rgb(0,0,110)" opacity="0.9" transform="rotate(-60 197 180)" filter="url(#b1_3)"/><ellipse cx="202" cy="190" rx="14" ry="3" fill="rgb(255,80,80)" opacity="0.9" transform="rotate(-60 202 190)" filter="url(#b1_3)"/><ellipse cx="207" cy="200" rx="14" ry="3" fill="rgb(20,20,255)" opacity="0.9" transform="rotate(-60 207 200)" filter="url(#b1_3)"/><ellipse cx="212" cy="210" rx="14" ry="3" fill="rgb(150,0,0)" opacity="0.9" transform="rotate(-60 212 210)" filter="url(#b1_3)"/><ellipse cx="217" cy="220" rx="14" ry="3" fill="rgb(90,90,255)" opacity="0.9" transform="rotate(-60 217 220)" filter="url(#b1_3)"/><ellipse cx="214" cy="220" rx="10" ry="6" fill="rgb(0,0,110)" opacity="1" transform="rotate(-40 214 220)" filter="url(#b1_5)"/><ellipse cx="216" cy="205" rx="8" ry="6" fill="rgb(140,0,0)" opacity="1" transform="rotate(-40 216 205)" filter="url(#b1_5)"/><ellipse cx="216" cy="234" rx="9" ry="6" fill="rgb(160,0,0)" opacity="1" transform="rotate(-40 216 234)" filter="url(#b1_5)"/><path d="M175.0,236.0 Q168.0,252.0 164.0,260.0 L160.0,268.0" fill="none" stroke="rgb(0,0,140)" stroke-width="7" stroke-linecap="round" stroke-linejoin="round" opacity="1" filter="url(#b1_5)"/><ellipse cx="150" cy="225" rx="10" ry="25" fill="rgb(120,120,255)" opacity="0.6" transform="rotate(30 150 225)" filter="url(#b3)"/><path d="M200.0,226.0 Q185.0,250.0 177.5,262.5 Q170.0,275.0 162.5,285.0 Q155.0,295.0 145.0,301.5 Q135.0,308.0 122.5,311.0 L110.0,314.0" fill="none" stroke="rgb(235,20,20)" stroke-width="14" stroke-linecap="round" stroke-linejoin="round" opacity="0.9" filter="url(#b2_5)"/><path d="M110.0,314.0 Q80.0,306.0 65.0,299.0 Q50.0,292.0 39.0,286.0 L28.0,280.0" fill="none" stroke="rgb(250,100,100)" stroke-width="12" stroke-linecap="round" stroke-linejoin="round" opacity="0.8" filter="url(#b3)"/><path d="M132.0,254.0 Q150.0,256.0 160.5,253.0 L171.0,250.0" fill="none" stroke="rgb(235,30,30)" stroke-width="7" stroke-linecap="round" stroke-linejoin="round" opacity="0.85" filter="url(#b2)"/><ellipse cx="205" cy="287" rx="20" ry="12" fill="rgb(0,0,110)" opacity="1" transform="rotate(-10 205 287)" filter="url(#b3)"/><path d="M214.0,262.0 Q232.0,272.0 239.0,278.5 L246.0,285.0" fill="none" stroke="rgb(40,40,230)" stroke-width="14" stroke-linecap="round" stroke-linejoin="round" opacity="0.85" filter="url(#b3)"/><path d="M20.0,305.0 Q70.0,318.0 99.0,322.0 Q128.0,326.0 144.0,328.0 Q160.0,330.0 180.0,327.0 Q200.0,324.0 223.0,321.0 L246.0,318.0" fill="none" stroke="rgb(110,110,250)" stroke-width="16" stroke-linecap="round" stroke-linejoin="round" opacity="0.75" filter="url(#b3)"/><path d="M150.0,330.0 Q200.0,328.0 225.0,326.5 L250.0,325.0" fill="none" stroke="rgb(175,175,255)" stroke-width="24" stroke-linecap="round" stroke-linejoin="round" opacity="0.8" filter="url(#b4)"/><ellipse cx="118" cy="342" rx="14" ry="9" fill="rgb(0,0,120)" opacity="1" filter="url(#b2)"/><path d="M35.0,340.0 Q90.0,350.0 120.0,348.0 L150.0,346.0" fill="none" stroke="rgb(80,80,240)" stroke-width="14" stroke-linecap="round" stroke-linejoin="round" opacity="0.8" filter="url(#b3)"/><path d="M149.0,365.0 Q200.0,362.0 225.0,361.0 L250.0,360.0" fill="none" stroke="rgb(255,200,200)" stroke-width="26" stroke-linecap="round" stroke-linejoin="round" opacity="0.75" filter="url(#b5)"/><path d="M35.0,375.0 Q80.0,380.0 105.0,379.0 L130.0,378.0" fill="none" stroke="rgb(245,70,70)" stroke-width="16" stroke-linecap="round" stroke-linejoin="round" opacity="0.75" filter="url(#b3)"/><ellipse cx="56" cy="372" rx="9" ry="6" fill="rgb(230,0,0)" opacity="0.9" filter="url(#b2)"/><ellipse cx="110" cy="372" rx="7" ry="6" fill="rgb(230,40,40)" opacity="0.8" filter="url(#b2)"/><path d="M2.0,150.0 Q10.0,200.0 19.0,225.0 Q28.0,250.0 36.5,262.5 L45.0,275.0" fill="none" stroke="rgb(255,190,190)" stroke-width="8" stroke-linecap="round" stroke-linejoin="round" opacity="0.6" filter="url(#b4)"/><path d="M2.0,215.0 Q12.0,265.0 21.0,282.5 L30.0,300.0" fill="none" stroke="rgb(190,190,255)" stroke-width="8" stroke-linecap="round" stroke-linejoin="round" opacity="0.6" filter="url(#b4)"/><path d="M2.0,280.0 Q15.0,330.0 22.5,345.0 L30.0,360.0" fill="none" stroke="rgb(255,200,200)" stroke-width="8" stroke-linecap="round" stroke-linejoin="round" opacity="0.5" filter="url(#b4)"/></g></g><rect x="669.0" y="123.0" width="256.8" height="394.5" fill="none" stroke="#000" stroke-width="2"/><line x1="745.1" y1="118.0" x2="745.1" y2="123.0" stroke="#000" stroke-width="1.8"/><line x1="820.7" y1="118.0" x2="820.7" y2="123.0" stroke="#000" stroke-width="1.8"/><line x1="896.3" y1="118.0" x2="896.3" y2="123.0" stroke="#000" stroke-width="1.8"/><line x1="664.0" y1="199.2" x2="669.0" y2="199.2" stroke="#000" stroke-width="1.8"/><line x1="664.0" y1="274.9" x2="669.0" y2="274.9" stroke="#000" stroke-width="1.8"/><line x1="664.0" y1="350.6" x2="669.0" y2="350.6" stroke="#000" stroke-width="1.8"/><line x1="664.0" y1="426.3" x2="669.0" y2="426.3" stroke="#000" stroke-width="1.8"/><line x1="664.0" y1="502.0" x2="669.0" y2="502.0" stroke="#000" stroke-width="1.8"/><g clip-path="url(#c_br1)"><g transform="translate(940.2,124.3) scale(0.9980,1.0010)"><rect x="0" y="0" width="255" height="392" fill="rgb(150,235,255)" opacity="1"/><ellipse cx="45" cy="28" rx="40" ry="40" fill="rgb(192,198,255)" opacity="1" filter="url(#b10)"/><ellipse cx="250" cy="15" rx="18" ry="30" fill="rgb(192,198,255)" opacity="0.9" filter="url(#b8)"/><ellipse cx="8" cy="320" rx="22" ry="90" fill="rgb(192,198,255)" opacity="0.9" filter="url(#b10)"/><ellipse cx="205" cy="360" rx="70" ry="40" fill="rgb(192,198,255)" opacity="1" filter="url(#b10)"/><ellipse cx="250" cy="250" rx="10" ry="60" fill="rgb(170,215,255)" opacity="0.8" filter="url(#b6)"/><path d="M130.3,-3.6 Q132.0,-20.4 166.2,-20.4 Q200.3,-20.4 197.0,-6.4 Q193.6,7.6 186.9,21.6 Q180.2,35.6 179.0,46.8 Q177.9,58.0 184.6,54.6 Q191.4,51.3 200.9,56.9 Q210.4,62.5 221.6,54.6 Q232.8,46.8 240.1,52.4 Q247.4,58.0 251.8,74.8 Q256.3,91.6 259.1,111.2 Q261.9,130.8 255.8,139.2 Q249.6,147.6 239.5,156.0 Q229.4,164.4 226.1,172.8 Q222.7,181.2 229.4,192.4 Q236.2,203.6 242.9,226.0 Q249.6,248.4 254.1,265.2 Q258.6,282.0 259.7,302.2 Q260.8,322.3 249.6,320.6 Q238.4,319.0 227.2,317.3 Q216.0,315.6 202.0,319.0 Q188.0,322.3 179.6,325.1 Q171.2,327.9 168.4,316.2 Q165.6,304.4 162.8,282.0 Q160.0,259.6 148.8,251.8 Q137.6,243.9 126.4,238.9 Q115.2,233.8 104.0,233.8 Q92.8,233.8 84.4,226.0 Q76.0,218.2 71.0,208.1 Q65.9,198.0 64.8,184.0 Q63.7,170.0 64.8,153.2 Q65.9,136.4 69.3,119.6 Q72.6,102.8 74.3,89.4 Q76.0,75.9 84.4,72.6 Q92.8,69.2 104.0,68.1 Q115.2,67.0 119.7,56.9 Q124.2,46.8 126.4,30.0 Q128.6,13.2 130.3,-3.6Z" fill="rgb(128,255,255)" opacity="1" filter="url(#b10)"/><ellipse cx="70" cy="150" rx="40" ry="80" fill="rgb(128,255,255)" opacity="0.8" filter="url(#b10)"/><ellipse cx="100" cy="320" rx="55" ry="70" fill="rgb(128,255,255)" opacity="0.8" filter="url(#b10)"/><ellipse cx="58" cy="175" rx="28" ry="85" fill="rgb(128,255,200)" opacity="0.8" filter="url(#b10)"/><ellipse cx="205" cy="45" rx="25" ry="30" fill="rgb(128,255,180)" opacity="0.8" filter="url(#b8)"/><path d="M132.2,7.2 Q133.8,-8.5 165.8,-8.5 Q197.8,-8.5 194.7,4.6 Q191.5,17.8 185.2,30.9 Q178.9,44.0 177.9,54.5 Q176.8,65.0 183.1,61.8 Q189.4,58.7 198.3,63.9 Q207.2,69.2 217.8,61.8 Q228.2,54.5 235.1,59.8 Q241.9,65.0 246.1,80.8 Q250.3,96.5 252.9,114.9 Q255.6,133.2 249.8,141.1 Q244.0,149.0 234.6,156.9 Q225.1,164.8 222.0,172.6 Q218.8,180.5 225.1,191.0 Q231.4,201.5 237.7,222.5 Q244.0,243.5 248.2,259.2 Q252.4,275.0 253.4,293.9 Q254.5,312.8 244.0,311.2 Q233.5,309.6 223.0,308.1 Q212.5,306.5 199.4,309.6 Q186.2,312.8 178.4,315.4 Q170.5,318.1 167.9,307.0 Q165.2,296.0 162.6,275.0 Q160.0,254.0 149.5,246.7 Q139.0,239.3 128.5,234.6 Q118.0,229.8 107.5,229.8 Q97.0,229.8 89.1,222.5 Q81.2,215.2 76.5,205.7 Q71.8,196.2 70.8,183.1 Q69.7,170.0 70.8,154.2 Q71.8,138.5 74.9,122.8 Q78.1,107.0 79.7,94.4 Q81.2,81.8 89.1,78.7 Q97.0,75.5 107.5,74.4 Q118.0,73.4 122.2,63.9 Q126.4,54.5 128.5,38.8 Q130.6,23.0 132.2,7.2Z" fill="rgb(128,255,160)" opacity="1" filter="url(#b5)"/><ellipse cx="80" cy="170" rx="8" ry="40" fill="rgb(200,255,70)" opacity="0.7" filter="url(#b5)"/><path d="M133.5,15.0 Q135.0,0.0 165.5,0.0 Q196.0,0.0 193.0,12.5 Q190.0,25.0 184.0,37.5 Q178.0,50.0 177.0,60.0 Q176.0,70.0 182.0,67.0 Q188.0,64.0 196.5,69.0 Q205.0,74.0 215.0,67.0 Q225.0,60.0 231.5,65.0 Q238.0,70.0 242.0,85.0 Q246.0,100.0 248.5,117.5 Q251.0,135.0 245.5,142.5 Q240.0,150.0 231.0,157.5 Q222.0,165.0 219.0,172.5 Q216.0,180.0 222.0,190.0 Q228.0,200.0 234.0,220.0 Q240.0,240.0 244.0,255.0 Q248.0,270.0 249.0,288.0 Q250.0,306.0 240.0,304.5 Q230.0,303.0 220.0,301.5 Q210.0,300.0 197.5,303.0 Q185.0,306.0 177.5,308.5 Q170.0,311.0 167.5,300.5 Q165.0,290.0 162.5,270.0 Q160.0,250.0 150.0,243.0 Q140.0,236.0 130.0,231.5 Q120.0,227.0 110.0,227.0 Q100.0,227.0 92.5,220.0 Q85.0,213.0 80.5,204.0 Q76.0,195.0 75.0,182.5 Q74.0,170.0 75.0,155.0 Q76.0,140.0 79.0,125.0 Q82.0,110.0 83.5,98.0 Q85.0,86.0 92.5,83.0 Q100.0,80.0 110.0,79.0 Q120.0,78.0 124.0,69.0 Q128.0,60.0 130.0,45.0 Q132.0,30.0 133.5,15.0Z" fill="rgb(255,250,0)" opacity="1" filter="url(#b3)"/><path d="M137.9,37.4 Q139.2,24.5 165.4,24.5 Q191.7,24.5 189.1,35.2 Q186.5,46.0 181.3,56.8 Q176.2,67.5 175.3,76.1 Q174.5,84.7 179.6,82.1 Q184.8,79.5 192.1,83.8 Q199.4,88.1 208.0,82.1 Q216.6,76.1 222.2,80.4 Q227.8,84.7 231.2,97.6 Q234.7,110.5 236.8,125.5 Q239.0,140.6 234.2,147.1 Q229.5,153.5 221.8,159.9 Q214.0,166.4 211.4,172.9 Q208.9,179.3 214.0,187.9 Q219.2,196.5 224.3,213.7 Q229.5,230.9 232.9,243.8 Q236.4,256.7 237.2,272.2 Q238.1,287.7 229.5,286.4 Q220.9,285.1 212.3,283.8 Q203.7,282.5 192.9,285.1 Q182.2,287.7 175.8,289.8 Q169.3,292.0 167.2,282.9 Q165.0,273.9 162.8,256.7 Q160.7,239.5 152.1,233.5 Q143.5,227.5 134.9,223.6 Q126.3,219.7 117.7,219.7 Q109.1,219.7 102.7,213.7 Q96.2,207.7 92.3,199.9 Q88.5,192.2 87.6,181.4 Q86.7,170.7 87.6,157.8 Q88.5,144.9 91.0,132.0 Q93.6,119.1 94.9,108.8 Q96.2,98.5 102.7,95.9 Q109.1,93.3 117.7,92.4 Q126.3,91.6 129.7,83.8 Q133.2,76.1 134.9,63.2 Q136.6,50.3 137.9,37.4Z" fill="rgb(255,222,0)" opacity="1" filter="url(#b6)"/><path d="M157.5,45.0 Q150.0,10.0 167.5,7.5 Q185.0,5.0 181.5,27.5 Q178.0,50.0 171.5,65.0 Q165.0,80.0 157.5,45.0Z" fill="rgb(255,215,0)" opacity="0.9" filter="url(#b5)"/><path d="M97.5,122.5 Q100.0,95.0 130.0,91.5 Q160.0,88.0 180.0,94.0 Q200.0,100.0 202.5,125.0 Q205.0,150.0 197.5,175.0 Q190.0,200.0 180.0,216.0 Q170.0,232.0 150.0,227.0 Q130.0,222.0 117.5,211.0 Q105.0,200.0 100.0,175.0 Q95.0,150.0 97.5,122.5Z" fill="rgb(255,175,0)" opacity="0.9" filter="url(#b8)"/><path d="M140.0,140.0 Q158.0,175.0 166.5,190.0 L175.0,205.0" fill="none" stroke="rgb(255,100,0)" stroke-width="16" stroke-linecap="round" stroke-linejoin="round" opacity="0.8" filter="url(#b6)"/><ellipse cx="140" cy="135" rx="16" ry="48" fill="rgb(245,40,0)" opacity="0.9" filter="url(#b5)"/><ellipse cx="134" cy="118" rx="9" ry="28" fill="rgb(190,0,0)" opacity="0.9" filter="url(#b3)"/><ellipse cx="206" cy="132" rx="13" ry="5" fill="rgb(235,20,0)" opacity="0.9" filter="url(#b2_5)"/><ellipse cx="215" cy="110" rx="12" ry="25" fill="rgb(255,190,0)" opacity="0.7" filter="url(#b5)"/><path d="M177.0,237.5 Q182.0,195.0 198.0,188.5 Q214.0,182.0 221.0,193.5 Q228.0,205.0 235.0,232.5 Q242.0,260.0 244.0,280.0 Q246.0,300.0 230.0,299.0 Q214.0,298.0 197.0,300.5 Q180.0,303.0 176.0,291.5 Q172.0,280.0 177.0,237.5Z" fill="rgb(255,150,0)" opacity="0.9" filter="url(#b4)"/><ellipse cx="205" cy="250" rx="25" ry="40" fill="rgb(255,110,0)" opacity="0.7" filter="url(#b6)"/><path d="M185.0,200.0 Q182.0,230.0 181.0,242.5 L180.0,255.0" fill="none" stroke="rgb(230,20,0)" stroke-width="7" stroke-linecap="round" stroke-linejoin="round" opacity="0.9" filter="url(#b3)"/><path d="M195.0,205.0 Q198.0,235.0 200.5,248.5 L203.0,262.0" fill="none" stroke="rgb(240,40,0)" stroke-width="6" stroke-linecap="round" stroke-linejoin="round" opacity="0.85" filter="url(#b3)"/><ellipse cx="210" cy="270" rx="5" ry="4" fill="rgb(235,40,0)" opacity="0.8" filter="url(#b2)"/><ellipse cx="222" cy="278" rx="5" ry="4" fill="rgb(235,40,0)" opacity="0.8" filter="url(#b2)"/><ellipse cx="232" cy="288" rx="5" ry="4" fill="rgb(235,40,0)" opacity="0.8" filter="url(#b2)"/><ellipse cx="205" cy="245" rx="5" ry="4" fill="rgb(235,40,0)" opacity="0.8" filter="url(#b2)"/><ellipse cx="220" cy="255" rx="5" ry="4" fill="rgb(235,40,0)" opacity="0.8" filter="url(#b2)"/><path d="M3.0,87.5 Q4.0,70.0 13.0,65.0 Q22.0,60.0 28.5,67.5 Q35.0,75.0 36.5,92.5 Q38.0,110.0 35.0,127.5 Q32.0,145.0 25.0,148.5 Q18.0,152.0 11.5,146.0 Q5.0,140.0 3.5,122.5 Q2.0,105.0 3.0,87.5Z" fill="rgb(128,255,160)" opacity="1" filter="url(#b4)"/><path d="M5.5,92.5 Q6.0,80.0 13.0,77.5 Q20.0,75.0 26.0,81.5 Q32.0,88.0 33.5,99.0 Q35.0,110.0 32.0,124.0 Q29.0,138.0 23.5,141.5 Q18.0,145.0 13.0,140.0 Q8.0,135.0 6.5,120.0 Q5.0,105.0 5.5,92.5Z" fill="rgb(255,255,0)" opacity="1" filter="url(#b3)"/><ellipse cx="20" cy="108" rx="9" ry="20" fill="rgb(255,160,0)" opacity="0.9" filter="url(#b4)"/><path d="M41.0,310.0 Q40.0,280.0 50.0,275.0 Q60.0,270.0 70.0,285.0 Q80.0,300.0 79.0,330.0 Q78.0,360.0 74.0,375.0 Q70.0,390.0 60.0,390.0 Q50.0,390.0 46.0,365.0 Q42.0,340.0 41.0,310.0Z" fill="rgb(128,255,160)" opacity="0.8" filter="url(#b6)"/><path d="M99.0,292.5 Q100.0,265.0 117.5,262.5 Q135.0,260.0 140.0,280.0 Q145.0,300.0 142.5,330.0 Q140.0,360.0 130.0,375.0 Q120.0,390.0 111.0,380.0 Q102.0,370.0 100.0,345.0 Q98.0,320.0 99.0,292.5Z" fill="rgb(128,255,160)" opacity="0.9" filter="url(#b6)"/><ellipse cx="126" cy="296" rx="8" ry="14" fill="rgb(200,255,60)" opacity="0.9" filter="url(#b4)"/><ellipse cx="118" cy="345" rx="8" ry="16" fill="rgb(200,255,60)" opacity="0.8" filter="url(#b4)"/><ellipse cx="70" cy="370" rx="6" ry="15" fill="rgb(200,255,60)" opacity="0.6" filter="url(#b4)"/></g></g><rect x="939.2" y="123.3" width="256.5" height="394.4" fill="none" stroke="#000" stroke-width="2"/><line x1="1015.3" y1="118.3" x2="1015.3" y2="123.3" stroke="#000" stroke-width="1.8"/><line x1="1090.9" y1="118.3" x2="1090.9" y2="123.3" stroke="#000" stroke-width="1.8"/><line x1="1166.5" y1="118.3" x2="1166.5" y2="123.3" stroke="#000" stroke-width="1.8"/><line x1="934.2" y1="199.5" x2="939.2" y2="199.5" stroke="#000" stroke-width="1.8"/><line x1="934.2" y1="275.2" x2="939.2" y2="275.2" stroke="#000" stroke-width="1.8"/><line x1="934.2" y1="350.9" x2="939.2" y2="350.9" stroke="#000" stroke-width="1.8"/><line x1="934.2" y1="426.6" x2="939.2" y2="426.6" stroke="#000" stroke-width="1.8"/><line x1="934.2" y1="502.3" x2="939.2" y2="502.3" stroke="#000" stroke-width="1.8"/><g clip-path="url(#c_dr1)"><g transform="translate(1468.3,122.9) scale(0.9988,1.0003)"><rect x="0" y="0" width="255" height="392" fill="rgb(255,195,0)" opacity="1"/><rect x="-5" y="0" width="42" height="300" fill="rgb(255,205,0)" opacity="1" filter="url(#b3)"/><ellipse cx="20" cy="150" rx="14" ry="40" fill="rgb(255,160,0)" opacity="0.85" filter="url(#b4)"/><ellipse cx="8" cy="105" rx="8" ry="25" fill="rgb(140,240,240)" opacity="0.85" filter="url(#b3)"/><ellipse cx="6" cy="250" rx="8" ry="35" fill="rgb(230,255,40)" opacity="0.8" filter="url(#b4)"/><ellipse cx="58" cy="30" rx="28" ry="32" fill="rgb(255,160,0)" opacity="0.95" filter="url(#b4)"/><ellipse cx="30" cy="70" rx="15" ry="25" fill="rgb(255,140,0)" opacity="0.7" filter="url(#b4)"/><path d="M147.5,10.0 Q145.0,0.0 202.5,0.0 Q260.0,0.0 260.0,30.0 Q260.0,60.0 250.0,65.0 Q240.0,70.0 227.5,60.0 Q215.0,50.0 202.5,47.5 Q190.0,45.0 177.5,42.5 Q165.0,40.0 157.5,30.0 Q150.0,20.0 147.5,10.0Z" fill="rgb(128,255,160)" opacity="1" filter="url(#b4)"/><ellipse cx="190" cy="12" rx="28" ry="10" fill="rgb(128,255,255)" opacity="0.8" filter="url(#b4)"/><ellipse cx="240" cy="25" rx="12" ry="18" fill="rgb(170,215,255)" opacity="0.8" filter="url(#b3)"/><ellipse cx="215" cy="45" rx="15" ry="10" fill="rgb(255,255,0)" opacity="0.8" filter="url(#b3)"/><ellipse cx="160" cy="40" rx="8" ry="12" fill="rgb(255,255,0)" opacity="0.8" filter="url(#b3)"/><ellipse cx="205" cy="115" rx="30" ry="70" fill="rgb(255,165,0)" opacity="0.95" filter="url(#b6)"/><ellipse cx="232" cy="120" rx="10" ry="30" fill="rgb(255,215,0)" opacity="0.9" filter="url(#b4)"/><ellipse cx="246" cy="100" rx="8" ry="35" fill="rgb(140,240,230)" opacity="0.85" filter="url(#b3)"/><ellipse cx="225" cy="80" rx="10" ry="15" fill="rgb(255,120,0)" opacity="0.8" filter="url(#b3)"/><path d="M85.0,30.0 Q85.0,0.0 115.0,0.0 Q145.0,0.0 146.5,15.0 Q148.0,30.0 156.5,42.5 Q165.0,55.0 175.0,62.5 Q185.0,70.0 190.0,95.0 Q195.0,120.0 197.5,142.5 Q200.0,165.0 192.5,172.5 Q185.0,180.0 172.5,185.0 Q160.0,190.0 150.0,195.0 Q140.0,200.0 125.0,197.5 Q110.0,195.0 100.0,192.5 Q90.0,190.0 77.5,192.5 Q65.0,195.0 57.5,182.5 Q50.0,170.0 45.0,150.0 Q40.0,130.0 42.5,112.5 Q45.0,95.0 55.0,85.0 Q65.0,75.0 75.0,67.5 Q85.0,60.0 85.0,30.0Z" fill="rgb(228,0,0)" opacity="1" filter="url(#b3)"/><path d="M77.5,100.0 Q80.0,70.0 115.0,62.5 Q150.0,55.0 165.0,72.5 Q180.0,90.0 185.0,125.0 Q190.0,160.0 175.0,171.0 Q160.0,182.0 140.0,184.5 Q120.0,187.0 107.5,179.5 Q95.0,172.0 85.0,151.0 Q75.0,130.0 77.5,100.0Z" fill="rgb(165,0,0)" opacity="0.95" filter="url(#b5)"/><ellipse cx="122" cy="120" rx="28" ry="35" fill="rgb(145,0,0)" opacity="0.9" filter="url(#b6)"/><ellipse cx="135" cy="190" rx="22" ry="12" fill="rgb(255,60,0)" opacity="0.8" filter="url(#b4)"/><path d="M207.5,167.5 Q205.0,150.0 225.0,150.0 Q245.0,150.0 251.0,157.5 Q257.0,165.0 257.0,182.5 Q257.0,200.0 243.5,200.0 Q230.0,200.0 220.0,192.5 Q210.0,185.0 207.5,167.5Z" fill="rgb(255,140,0)" opacity="0.9" filter="url(#b3)"/><ellipse cx="238" cy="175" rx="6" ry="10" fill="rgb(220,0,0)" opacity="0.8" filter="url(#b2)"/><ellipse cx="85" cy="235" rx="35" ry="28" fill="rgb(255,150,0)" opacity="0.9" filter="url(#b6)"/><ellipse cx="160" cy="230" rx="40" ry="35" fill="rgb(255,215,0)" opacity="0.9" filter="url(#b7)"/><ellipse cx="88" cy="212" rx="10" ry="15" fill="rgb(150,240,230)" opacity="0.85" filter="url(#b3)"/><path d="M-5.0,285.0 L40.0,275.0 L70.0,290.0 L85.0,330.0 L100.0,360.0 L120.0,395.0 L-5.0,395.0Z" fill="rgb(150,235,255)" opacity="1" filter="url(#b4)"/><ellipse cx="35" cy="340" rx="18" ry="28" fill="rgb(195,200,255)" opacity="0.85" filter="url(#b4)"/><ellipse cx="70" cy="370" rx="15" ry="20" fill="rgb(192,198,255)" opacity="0.8" filter="url(#b4)"/><ellipse cx="15" cy="300" rx="10" ry="20" fill="rgb(128,255,160)" opacity="0.8" filter="url(#b4)"/><ellipse cx="50" cy="310" rx="10" ry="12" fill="rgb(150,255,200)" opacity="0.7" filter="url(#b4)"/><path d="M73.5,290.0 Q72.0,270.0 101.0,267.5 Q130.0,265.0 132.5,282.5 Q135.0,300.0 127.5,315.0 Q120.0,330.0 107.5,332.5 Q95.0,335.0 85.0,322.5 Q75.0,310.0 73.5,290.0Z" fill="rgb(255,255,0)" opacity="1" filter="url(#b4)"/><ellipse cx="100" cy="320" rx="22" ry="14" fill="rgb(190,255,70)" opacity="0.9" filter="url(#b4)"/><ellipse cx="128" cy="300" rx="8" ry="30" fill="rgb(195,200,255)" opacity="0.9" filter="url(#b3)"/><path d="M180.0,210.0 L215.0,200.0 L257.0,210.0 L257.0,395.0 L175.0,395.0 L170.0,300.0Z" fill="rgb(192,198,255)" opacity="1" filter="url(#b4)"/><ellipse cx="192" cy="245" rx="5" ry="40" fill="rgb(128,255,255)" opacity="0.85" transform="rotate(10 192 245)" filter="url(#b3)"/><path d="M159.0,329.0 Q160.0,308.0 180.0,304.0 Q200.0,300.0 217.5,307.5 Q235.0,315.0 242.5,332.5 Q250.0,350.0 250.0,372.5 Q250.0,395.0 207.5,395.0 Q165.0,395.0 161.5,372.5 Q158.0,350.0 159.0,329.0Z" fill="rgb(215,255,40)" opacity="1" filter="url(#b4)"/><ellipse cx="200" cy="318" rx="25" ry="12" fill="rgb(255,255,0)" opacity="0.95" filter="url(#b4)"/><ellipse cx="225" cy="375" rx="28" ry="18" fill="rgb(128,255,160)" opacity="0.9" filter="url(#b5)"/><ellipse cx="140" cy="370" rx="10" ry="25" fill="rgb(150,235,255)" opacity="0.8" filter="url(#b3)"/></g></g><rect x="1467.3" y="121.9" width="256.7" height="394.1" fill="none" stroke="#000" stroke-width="2"/><line x1="1543.4" y1="116.9" x2="1543.4" y2="121.9" stroke="#000" stroke-width="1.8"/><line x1="1619.0" y1="116.9" x2="1619.0" y2="121.9" stroke="#000" stroke-width="1.8"/><line x1="1694.6" y1="116.9" x2="1694.6" y2="121.9" stroke="#000" stroke-width="1.8"/><line x1="1462.3" y1="198.1" x2="1467.3" y2="198.1" stroke="#000" stroke-width="1.8"/><line x1="1462.3" y1="273.8" x2="1467.3" y2="273.8" stroke="#000" stroke-width="1.8"/><line x1="1462.3" y1="349.5" x2="1467.3" y2="349.5" stroke="#000" stroke-width="1.8"/><line x1="1462.3" y1="425.2" x2="1467.3" y2="425.2" stroke="#000" stroke-width="1.8"/><line x1="1462.3" y1="500.9" x2="1467.3" y2="500.9" stroke="#000" stroke-width="1.8"/><g clip-path="url(#c_a1r2)"><g transform="translate(141.0,530.0) scale(1.0000,1.0013)"><rect x="0" y="0" width="255" height="392" fill="rgb(253,250,252)" opacity="1"/><ellipse cx="120" cy="95" rx="125" ry="110" fill="rgb(236,236,255)" opacity="1" filter="url(#b12)"/><ellipse cx="60" cy="220" rx="70" ry="60" fill="rgb(255,228,228)" opacity="0.8" filter="url(#b12)"/><ellipse cx="125" cy="285" rx="120" ry="25" fill="rgb(255,225,225)" opacity="0.8" filter="url(#b8)"/><ellipse cx="20" cy="330" rx="30" ry="60" fill="rgb(240,240,255)" opacity="0.5" filter="url(#b10)"/><path d="M6.0,10.0 Q8.0,40.0 9.0,55.0 L10.0,70.0" fill="none" stroke="rgb(90,90,255)" stroke-width="10" stroke-linecap="round" stroke-linejoin="round" opacity="0.7" filter="url(#b3)"/><path d="M213.5,179.5 Q205.0,189.1 200.7,194.0 Q196.4,198.8 192.0,203.6 Q187.5,208.5 182.6,213.0 Q177.7,217.5 172.2,221.1 Q166.7,224.8 160.7,227.3 Q154.7,229.7 148.3,230.7 Q142.0,231.6 135.6,231.3 Q129.3,230.9 123.1,229.6 Q116.9,228.3 110.9,226.6 Q104.9,224.9 99.1,223.1 Q93.3,221.3 87.4,219.6 Q81.5,217.8 75.6,215.9 Q69.6,214.0 63.7,211.6 Q57.8,209.2 52.2,205.8 Q46.5,202.4 41.6,197.9 L36.6,193.3" fill="none" stroke="rgb(40,40,235)" stroke-width="12" stroke-linecap="round" opacity="0.85" filter="url(#b3)"/><path d="M38.1,191.1 Q30.2,180.3 27.3,174.2 Q24.3,168.0 22.2,161.6 Q20.0,155.1 18.4,148.6 Q16.7,142.1 15.2,135.7 Q13.7,129.3 12.2,123.0 Q10.6,116.6 9.1,110.1 Q7.6,103.6 6.5,96.9 Q5.3,90.1 4.9,83.2 L4.5,76.2" fill="none" stroke="rgb(90,90,255)" stroke-width="8" stroke-linecap="round" opacity="0.55" filter="url(#b3)"/><path d="M179.7,237.7 Q170.2,246.2 164.9,249.3 Q159.7,252.5 154.1,254.3 Q148.5,256.1 142.7,256.5 Q136.9,256.9 131.2,256.1 Q125.5,255.3 120.0,253.8 Q114.4,252.3 109.1,250.4 Q103.7,248.6 98.4,246.7 Q93.1,244.8 87.9,243.0 Q82.6,241.1 77.2,239.2 Q71.8,237.2 66.5,234.7 L61.1,232.3" fill="none" stroke="rgb(60,60,240)" stroke-width="18" stroke-linecap="round" opacity="0.85" filter="url(#b4)"/><path d="M153.9,240.3 Q143.2,242.6 137.8,242.5 Q132.4,242.5 127.1,241.5 Q121.8,240.5 116.7,238.9 Q111.6,237.3 106.6,235.6 Q101.6,233.8 96.7,232.1 Q91.8,230.4 86.8,228.7 Q81.8,226.9 76.8,225.0 L71.7,223.1" fill="none" stroke="rgb(255,80,80)" stroke-width="5" stroke-linecap="round" opacity="0.8" filter="url(#b2)"/><path d="M211.8,223.9 Q203.2,236.7 198.7,243.1 Q194.3,249.5 189.5,255.6 Q184.7,261.8 179.4,267.1 Q174.0,272.4 168.1,276.3 Q162.2,280.2 156.0,282.3 Q149.7,284.5 143.2,284.9 Q136.8,285.2 130.4,284.1 Q124.0,283.0 117.8,281.0 Q111.7,279.0 105.7,276.6 Q99.7,274.3 93.8,271.9 Q87.9,269.6 82.0,267.3 Q76.1,265.0 70.0,262.4 Q64.0,259.8 58.0,256.5 Q52.1,253.1 46.4,248.5 Q40.8,244.0 35.8,237.9 L30.8,231.9" fill="none" stroke="rgb(255,170,170)" stroke-width="22" stroke-linecap="round" opacity="0.55" filter="url(#b6)"/><path d="M175.0,178.7 Q166.6,184.2 162.0,186.4 Q157.3,188.5 152.3,189.9 Q147.2,191.2 142.0,191.7 Q136.8,192.1 131.5,191.8 Q126.3,191.5 121.2,190.6 Q116.2,189.7 111.3,188.6 Q106.3,187.5 101.5,186.3 Q96.7,185.2 91.9,184.0 Q87.1,182.9 82.2,181.7 Q77.3,180.5 72.4,179.0 L67.5,177.5" fill="none" stroke="rgb(175,0,0)" stroke-width="14" stroke-linecap="round" opacity="1" filter="url(#b2_5)"/><path d="M227.0,99.0 Q228.2,107.9 228.1,112.4 Q227.9,116.9 226.8,121.3 Q225.8,125.7 223.7,129.8 Q221.7,134.0 219.0,137.7 Q216.2,141.5 213.0,144.9 Q209.8,148.3 206.3,151.4 Q202.9,154.6 199.5,157.6 Q196.0,160.6 192.6,163.6 Q189.2,166.6 185.8,169.7 Q182.3,172.7 178.7,175.7 L175.0,178.7" fill="none" stroke="rgb(255,80,80)" stroke-width="10" stroke-linecap="round" opacity="0.85" filter="url(#b2_5)"/><path d="M67.5,177.5 Q58.5,173.6 54.3,171.0 Q50.2,168.4 46.7,165.2 Q43.2,161.9 40.4,158.2 Q37.6,154.4 35.6,150.4 Q33.5,146.3 31.9,142.1 Q30.4,138.0 29.1,133.8 L27.8,129.6" fill="none" stroke="rgb(255,170,170)" stroke-width="8" stroke-linecap="round" opacity="0.5" filter="url(#b3)"/><path d="M27.8,129.6 Q25.3,121.3 24.1,117.2 Q22.8,113.0 21.5,108.8 Q20.3,104.6 19.4,100.2 Q18.4,95.8 18.1,91.3 Q17.7,86.7 18.2,82.2 Q18.7,77.7 20.2,73.3 Q21.6,69.0 24.0,65.0 Q26.3,60.9 29.3,57.3 Q32.3,53.6 35.7,50.3 L39.1,47.0" fill="none" stroke="rgb(240,50,50)" stroke-width="9" stroke-linecap="round" opacity="0.85" filter="url(#b2_5)"/><path d="M39.1,47.0 Q46.5,40.4 50.2,37.1 Q53.9,33.9 57.6,30.6 Q61.3,27.3 65.2,24.0 Q69.1,20.8 73.4,17.8 Q77.7,14.8 82.5,12.4 Q87.3,10.0 92.5,8.5 Q97.8,6.9 103.2,6.4 Q108.7,5.9 114.2,6.2 Q119.7,6.5 125.0,7.5 Q130.3,8.4 135.5,9.6 L140.6,10.8" fill="none" stroke="rgb(255,170,170)" stroke-width="8" stroke-linecap="round" opacity="0.6" filter="url(#b3)"/><path d="M140.6,10.8 Q150.3,13.1 155.2,14.2 Q160.1,15.4 165.1,16.6 Q170.0,17.9 175.0,19.4 Q179.9,21.0 184.6,23.2 Q189.4,25.4 193.6,28.3 Q197.8,31.2 201.3,34.7 Q204.7,38.3 207.4,42.4 Q210.0,46.5 212.0,50.8 Q213.9,55.2 215.4,59.6 Q216.9,64.0 218.2,68.3 Q219.5,72.7 220.8,77.0 Q222.1,81.3 223.4,85.6 Q224.7,90.0 225.9,94.5 L227.0,99.0" fill="none" stroke="rgb(255,80,80)" stroke-width="10" stroke-linecap="round" opacity="0.75" filter="url(#b3)"/><path d="M143.1,26.0 Q151.7,28.1 156.0,29.2 Q160.4,30.3 164.7,31.8 Q169.1,33.2 173.2,35.2 Q177.4,37.1 181.1,39.8 Q184.7,42.4 187.7,45.7 Q190.7,49.0 193.0,52.7 Q195.2,56.5 196.8,60.4 Q198.5,64.3 199.7,68.3 Q200.9,72.3 202.1,76.2 Q203.2,80.1 204.4,84.0 Q205.5,87.9 206.7,91.9 Q207.8,95.8 208.7,100.0 Q209.5,104.1 209.8,108.3 Q210.1,112.6 209.5,116.8 Q208.9,121.0 207.4,125.0 L205.8,129.1" fill="none" stroke="rgb(0,0,170)" stroke-width="10" stroke-linecap="round" opacity="1" filter="url(#b2)"/><path d="M205.8,129.1 Q201.4,136.1 198.6,139.3 Q195.9,142.4 192.9,145.3 Q189.9,148.2 186.8,150.9 Q183.8,153.6 180.8,156.4 Q177.9,159.1 174.8,161.8 Q171.8,164.6 168.6,167.3 Q165.4,170.0 161.9,172.4 Q158.3,174.9 154.4,176.8 Q150.4,178.7 146.2,179.9 Q141.9,181.1 137.4,181.6 Q133.0,182.0 128.5,181.7 Q124.1,181.4 119.8,180.7 Q115.4,179.9 111.3,179.0 Q107.1,178.0 103.0,177.0 L98.9,176.0" fill="none" stroke="rgb(0,0,110)" stroke-width="10" stroke-linecap="round" opacity="1" filter="url(#b2)"/><path d="M98.9,176.0 Q90.3,173.9 86.0,172.8 Q81.6,171.7 77.3,170.2 Q72.9,168.8 68.8,166.8 Q64.6,164.9 60.9,162.2 Q57.3,159.6 54.3,156.3 Q51.3,153.0 49.0,149.3 Q46.8,145.5 45.2,141.6 Q43.5,137.7 42.3,133.7 Q41.1,129.7 39.9,125.8 Q38.8,121.9 37.6,118.0 Q36.5,114.1 35.3,110.1 Q34.2,106.2 33.3,102.0 Q32.5,97.9 32.2,93.7 Q31.9,89.4 32.5,85.2 Q33.1,81.0 34.6,77.0 L36.2,72.9" fill="none" stroke="rgb(70,70,255)" stroke-width="9" stroke-linecap="round" opacity="0.85" filter="url(#b2)"/><path d="M36.2,72.9 Q40.6,65.9 43.4,62.7 Q46.1,59.6 49.1,56.7 Q52.1,53.8 55.2,51.1 Q58.2,48.4 61.2,45.6 Q64.1,42.9 67.2,40.2 Q70.2,37.4 73.4,34.7 Q76.6,32.0 80.1,29.6 Q83.7,27.1 87.6,25.2 Q91.6,23.3 95.8,22.1 Q100.1,20.9 104.6,20.4 Q109.0,20.0 113.5,20.3 Q117.9,20.6 122.2,21.3 Q126.6,22.1 130.7,23.0 Q134.9,24.0 139.0,25.0 L143.1,26.0" fill="none" stroke="rgb(170,170,255)" stroke-width="8" stroke-linecap="round" opacity="0.75" filter="url(#b3)"/><path d="M190.0,116.0 Q190.8,122.1 190.6,125.1 Q190.4,128.2 189.6,131.2 Q188.7,134.1 187.2,136.9 Q185.7,139.7 183.8,142.1 Q181.8,144.6 179.6,146.8 Q177.3,149.1 175.0,151.1 Q172.7,153.2 170.5,155.3 Q168.2,157.3 165.9,159.4 Q163.7,161.5 161.2,163.5 Q158.8,165.6 156.2,167.4 Q153.5,169.3 150.6,170.8 Q147.6,172.3 144.4,173.2 Q141.1,174.1 137.8,174.4 Q134.4,174.7 131.0,174.5 Q127.7,174.2 124.4,173.6 Q121.1,173.1 118.0,172.3 Q114.8,171.5 111.7,170.8 Q108.6,170.0 105.5,169.3 Q102.4,168.5 99.3,167.7 Q96.1,166.9 93.0,165.8 Q89.8,164.7 86.9,163.2 Q83.9,161.7 81.4,159.7 Q78.8,157.7 76.7,155.3 Q74.7,152.8 73.1,150.1 Q71.6,147.4 70.5,144.5 Q69.4,141.7 68.5,138.8 Q67.6,136.0 66.8,133.1 Q66.0,130.3 65.1,127.5 Q64.3,124.7 63.5,121.8 Q62.7,119.0 62.1,116.0 Q61.5,113.0 61.4,109.9 Q61.2,106.9 61.7,103.8 Q62.3,100.8 63.4,97.9 Q64.6,95.0 66.4,92.4 Q68.1,89.8 70.3,87.5 Q72.4,85.1 74.7,83.0 Q77.0,80.8 79.3,78.8 Q81.5,76.7 83.8,74.7 Q86.1,72.6 88.4,70.5 Q90.7,68.5 93.2,66.5 Q95.7,64.5 98.5,62.8 Q101.4,61.1 104.5,59.9 Q107.6,58.7 110.9,58.0 Q114.2,57.4 117.6,57.4 Q121.0,57.4 124.3,57.8 Q127.6,58.3 130.8,59.0 Q134.0,59.7 137.2,60.5 Q140.3,61.2 143.4,62.0 Q146.5,62.7 149.6,63.5 Q152.7,64.2 155.9,65.2 Q159.0,66.1 162.1,67.4 Q165.2,68.7 168.0,70.4 Q170.7,72.2 173.1,74.4 Q175.4,76.6 177.2,79.2 Q179.0,81.9 180.3,84.7 Q181.6,87.5 182.6,90.3 Q183.6,93.2 184.4,96.0 Q185.2,98.9 186.0,101.7 Q186.9,104.5 187.7,107.3 Q188.6,110.1 189.3,113.1 L190.0,116.0" fill="none" stroke="rgb(255,80,80)" stroke-width="7" stroke-linecap="round" opacity="0.75" filter="url(#b2)"/><path d="M179.0,121.0 Q179.6,125.9 179.5,128.4 Q179.3,130.9 178.7,133.3 Q178.0,135.7 176.7,137.9 Q175.5,140.2 173.9,142.2 Q172.3,144.2 170.5,146.0 Q168.7,147.8 166.8,149.5 Q165.0,151.2 163.1,152.8 Q161.3,154.5 159.4,156.2 Q157.6,157.8 155.6,159.5 Q153.7,161.2 151.5,162.7 Q149.4,164.2 147.0,165.4 Q144.5,166.6 141.9,167.3 Q139.3,168.1 136.6,168.3 Q133.8,168.6 131.1,168.4 Q128.3,168.2 125.7,167.7 Q123.0,167.2 120.5,166.6 Q117.9,166.0 115.4,165.4 Q112.9,164.8 110.4,164.2 Q107.8,163.6 105.3,162.9 Q102.7,162.2 100.2,161.3 Q97.6,160.5 95.2,159.2 Q92.8,158.0 90.7,156.4 Q88.6,154.8 87.0,152.8 Q85.3,150.8 84.0,148.6 Q82.8,146.4 81.9,144.1 Q81.0,141.8 80.3,139.5 Q79.6,137.2 78.9,134.9 Q78.2,132.6 77.5,130.3 Q76.9,128.1 76.2,125.7 Q75.5,123.4 75.1,121.0 Q74.6,118.6 74.5,116.1 Q74.4,113.6 74.8,111.1 Q75.2,108.7 76.2,106.3 Q77.1,104.0 78.6,101.9 Q80.0,99.8 81.7,97.9 Q83.5,96.0 85.3,94.2 Q87.2,92.5 89.0,90.8 Q90.9,89.2 92.7,87.5 Q94.5,85.8 96.4,84.2 Q98.3,82.5 100.4,80.9 Q102.4,79.3 104.7,77.9 Q107.0,76.5 109.5,75.5 Q112.0,74.5 114.7,74.0 Q117.4,73.5 120.2,73.5 Q122.9,73.5 125.6,73.9 Q128.3,74.2 130.9,74.8 Q133.5,75.4 136.1,76.0 Q138.6,76.6 141.1,77.2 Q143.6,77.8 146.2,78.4 Q148.7,79.1 151.3,79.8 Q153.9,80.6 156.3,81.6 Q158.8,82.7 161.1,84.1 Q163.4,85.5 165.2,87.3 Q167.1,89.1 168.6,91.2 Q170.1,93.3 171.1,95.6 Q172.2,97.9 173.0,100.2 Q173.8,102.5 174.4,104.8 Q175.1,107.1 175.8,109.4 Q176.5,111.7 177.1,114.0 Q177.8,116.3 178.4,118.6 L179.0,121.0" fill="none" stroke="rgb(90,90,255)" stroke-width="6" stroke-linecap="round" opacity="0.75" filter="url(#b2)"/><path d="M168.0,126.0 Q168.5,129.8 168.4,131.7 Q168.3,133.6 167.7,135.4 Q167.2,137.3 166.3,139.0 Q165.3,140.7 164.1,142.2 Q162.9,143.8 161.5,145.1 Q160.1,146.5 158.6,147.8 Q157.2,149.1 155.8,150.4 Q154.4,151.6 153.0,152.9 Q151.5,154.2 150.0,155.5 Q148.5,156.8 146.9,157.9 Q145.2,159.1 143.4,160.0 Q141.5,160.9 139.5,161.5 Q137.5,162.1 135.4,162.3 Q133.2,162.4 131.1,162.3 Q129.0,162.2 127.0,161.8 Q125.0,161.4 123.0,160.9 Q121.0,160.5 119.1,160.0 Q117.2,159.5 115.2,159.1 Q113.3,158.6 111.3,158.1 Q109.3,157.6 107.4,156.9 Q105.4,156.2 103.6,155.3 Q101.7,154.4 100.1,153.1 Q98.5,151.9 97.2,150.4 Q95.9,148.9 95.0,147.2 Q94.0,145.5 93.3,143.7 Q92.6,141.9 92.1,140.2 Q91.5,138.4 91.0,136.6 Q90.5,134.9 90.0,133.2 Q89.4,131.4 88.9,129.6 Q88.4,127.8 88.1,126.0 Q87.7,124.1 87.6,122.2 Q87.5,120.3 87.8,118.4 Q88.2,116.6 88.9,114.8 Q89.6,113.0 90.7,111.4 Q91.8,109.7 93.2,108.3 Q94.5,106.8 95.9,105.5 Q97.4,104.2 98.8,102.9 Q100.2,101.6 101.6,100.3 Q103.0,99.1 104.5,97.8 Q105.9,96.5 107.5,95.3 Q109.1,94.0 110.8,93.0 Q112.6,91.9 114.5,91.2 Q116.5,90.4 118.6,90.0 Q120.6,89.6 122.8,89.6 Q124.9,89.6 126.9,89.9 Q129.0,90.2 131.0,90.6 Q133.0,91.0 135.0,91.5 Q136.9,92.0 138.9,92.5 Q140.8,92.9 142.7,93.4 Q144.7,93.9 146.7,94.5 Q148.7,95.0 150.6,95.8 Q152.5,96.6 154.2,97.7 Q156.0,98.8 157.4,100.2 Q158.9,101.6 160.0,103.2 Q161.1,104.8 161.9,106.6 Q162.8,108.3 163.4,110.1 Q164.0,111.9 164.5,113.6 Q165.0,115.4 165.5,117.1 Q166.0,118.8 166.6,120.6 Q167.1,122.4 167.5,124.2 L168.0,126.0" fill="none" stroke="rgb(255,170,170)" stroke-width="5" stroke-linecap="round" opacity="0.6" filter="url(#b2)"/><path d="M157.0,128.0 Q157.3,130.7 157.3,132.1 Q157.2,133.5 156.8,134.8 Q156.4,136.1 155.7,137.4 Q155.1,138.6 154.2,139.7 Q153.3,140.8 152.3,141.8 Q151.3,142.8 150.2,143.8 Q149.2,144.7 148.2,145.6 Q147.1,146.5 146.1,147.5 Q145.1,148.4 144.0,149.3 Q142.9,150.2 141.7,151.1 Q140.5,151.9 139.1,152.6 Q137.8,153.2 136.3,153.6 Q134.9,154.1 133.3,154.2 Q131.8,154.3 130.3,154.2 Q128.8,154.1 127.3,153.8 Q125.8,153.6 124.4,153.2 Q122.9,152.9 121.5,152.6 Q120.1,152.2 118.7,151.9 Q117.3,151.6 115.9,151.2 Q114.5,150.8 113.0,150.3 Q111.6,149.8 110.3,149.2 Q108.9,148.5 107.8,147.6 Q106.6,146.7 105.7,145.6 Q104.7,144.5 104.0,143.3 Q103.3,142.1 102.8,140.8 Q102.3,139.5 101.9,138.2 Q101.5,136.9 101.2,135.7 Q100.8,134.4 100.4,133.2 Q100.0,131.9 99.7,130.6 Q99.3,129.3 99.0,128.0 Q98.8,126.6 98.7,125.3 Q98.7,123.9 98.9,122.5 Q99.1,121.2 99.7,119.9 Q100.2,118.6 101.0,117.4 Q101.8,116.3 102.8,115.2 Q103.7,114.2 104.8,113.2 Q105.8,112.2 106.8,111.3 Q107.9,110.4 108.9,109.5 Q109.9,108.5 111.0,107.6 Q112.0,106.7 113.1,105.8 Q114.3,104.9 115.6,104.1 Q116.8,103.4 118.2,102.8 Q119.7,102.3 121.2,102.0 Q122.7,101.7 124.2,101.7 Q125.7,101.7 127.2,101.9 Q128.7,102.1 130.2,102.4 Q131.6,102.8 133.1,103.1 Q134.5,103.4 135.9,103.8 Q137.3,104.1 138.7,104.5 Q140.1,104.8 141.5,105.2 Q143.0,105.6 144.4,106.2 Q145.8,106.8 147.0,107.6 Q148.3,108.4 149.3,109.4 Q150.4,110.4 151.2,111.5 Q152.0,112.7 152.6,114.0 Q153.2,115.2 153.6,116.5 Q154.1,117.8 154.5,119.1 Q154.8,120.3 155.2,121.6 Q155.6,122.8 156.0,124.1 Q156.3,125.4 156.7,126.7 L157.0,128.0" fill="none" stroke="rgb(170,170,255)" stroke-width="4" stroke-linecap="round" opacity="0.55" filter="url(#b2)"/><ellipse cx="170" cy="28" rx="26" ry="7" fill="rgb(0,0,120)" opacity="1" transform="rotate(15 170 28)" filter="url(#b2)"/><ellipse cx="152" cy="40" rx="12" ry="10" fill="rgb(220,0,0)" opacity="1" filter="url(#b1_5)"/><ellipse cx="160" cy="42" rx="4" ry="3" fill="rgb(120,120,255)" opacity="1" filter="url(#b1)"/><ellipse cx="150" cy="55" rx="10" ry="2.5" fill="rgb(20,20,255)" opacity="0.85" transform="rotate(25 150 55)" filter="url(#b1)"/><ellipse cx="155" cy="62" rx="10" ry="2.5" fill="rgb(240,0,0)" opacity="0.85" transform="rotate(25 155 62)" filter="url(#b1)"/><ellipse cx="160" cy="70" rx="10" ry="2.5" fill="rgb(20,20,255)" opacity="0.85" transform="rotate(25 160 70)" filter="url(#b1)"/><ellipse cx="166" cy="78" rx="10" ry="2.5" fill="rgb(240,0,0)" opacity="0.85" transform="rotate(25 166 78)" filter="url(#b1)"/><ellipse cx="171" cy="86" rx="10" ry="2.5" fill="rgb(20,20,255)" opacity="0.85" transform="rotate(25 171 86)" filter="url(#b1)"/><ellipse cx="176" cy="94" rx="10" ry="2.5" fill="rgb(255,80,80)" opacity="0.85" transform="rotate(25 176 94)" filter="url(#b1)"/><ellipse cx="130" cy="192" rx="30" ry="8" fill="rgb(120,0,0)" opacity="1" transform="rotate(-5 130 192)" filter="url(#b2)"/><ellipse cx="100" cy="188" rx="30" ry="7" fill="rgb(220,20,20)" opacity="0.9" transform="rotate(10 100 188)" filter="url(#b2)"/><ellipse cx="208" cy="198" rx="22" ry="12" fill="rgb(210,0,0)" opacity="1" transform="rotate(-20 208 198)" filter="url(#b2_5)"/><ellipse cx="212" cy="196" rx="10" ry="6" fill="rgb(140,0,0)" opacity="1" transform="rotate(-20 212 196)" filter="url(#b2)"/><path d="M148.0,224.0 Q165.0,210.0 177.5,200.0 L190.0,190.0" fill="none" stroke="rgb(0,0,150)" stroke-width="9" stroke-linecap="round" stroke-linejoin="round" opacity="1" filter="url(#b2)"/><ellipse cx="160" cy="236" rx="13" ry="6" fill="rgb(255,80,80)" opacity="0.9" transform="rotate(-15 160 236)" filter="url(#b2)"/><ellipse cx="75" cy="190" rx="20" ry="8" fill="rgb(30,30,230)" opacity="0.9" transform="rotate(35 75 190)" filter="url(#b2)"/><ellipse cx="100" cy="228" rx="18" ry="6" fill="rgb(0,0,170)" opacity="0.9" transform="rotate(10 100 228)" filter="url(#b2)"/><ellipse cx="215" cy="218" rx="30" ry="8" fill="rgb(90,90,255)" opacity="0.6" transform="rotate(-5 215 218)" filter="url(#b3)"/><ellipse cx="28" cy="100" rx="6" ry="28" fill="rgb(235,30,30)" opacity="0.85" filter="url(#b2)"/><ellipse cx="230" cy="140" rx="6" ry="20" fill="rgb(235,40,40)" opacity="0.7" filter="url(#b3)"/><ellipse cx="195" cy="15" rx="18" ry="6" fill="rgb(235,60,60)" opacity="0.7" transform="rotate(10 195 15)" filter="url(#b3)"/><ellipse cx="200" cy="250" rx="50" ry="30" fill="rgb(235,235,255)" opacity="0.7" filter="url(#b6)"/><rect x="0" y="290" width="255" height="102" fill="rgb(253,248,250)" opacity="0.6" filter="url(#b4)"/></g></g><rect x="140.0" y="529.0" width="257.0" height="394.5" fill="none" stroke="#000" stroke-width="2"/><line x1="216.1" y1="524.0" x2="216.1" y2="529.0" stroke="#000" stroke-width="1.8"/><line x1="291.7" y1="524.0" x2="291.7" y2="529.0" stroke="#000" stroke-width="1.8"/><line x1="367.3" y1="524.0" x2="367.3" y2="529.0" stroke="#000" stroke-width="1.8"/><line x1="135.0" y1="605.2" x2="140.0" y2="605.2" stroke="#000" stroke-width="1.8"/><line x1="135.0" y1="680.9" x2="140.0" y2="680.9" stroke="#000" stroke-width="1.8"/><line x1="135.0" y1="756.6" x2="140.0" y2="756.6" stroke="#000" stroke-width="1.8"/><line x1="135.0" y1="832.3" x2="140.0" y2="832.3" stroke="#000" stroke-width="1.8"/><line x1="135.0" y1="908.0" x2="140.0" y2="908.0" stroke="#000" stroke-width="1.8"/><g clip-path="url(#c_a2r2)"><g transform="translate(405.3,530.0) scale(1.0016,1.0013)"><rect x="0" y="0" width="255" height="392" fill="rgb(252,247,249)" opacity="1"/><ellipse cx="120" cy="110" rx="110" ry="100" fill="rgb(252,240,244)" opacity="1" filter="url(#b12)"/><ellipse cx="138.4" cy="166.1" rx="11.9" ry="7.1" fill="rgb(255,210,210)" opacity="0.8" transform="rotate(45 138.4 166.1)" filter="url(#b3)"/><ellipse cx="52.8" cy="66.7" rx="9.3" ry="5.0" fill="rgb(255,225,225)" opacity="0.8" transform="rotate(98 52.8 66.7)" filter="url(#b3)"/><ellipse cx="131.1" cy="42.2" rx="8.9" ry="4.7" fill="rgb(215,215,255)" opacity="0.8" transform="rotate(156 131.1 42.2)" filter="url(#b3)"/><ellipse cx="103.4" cy="169.5" rx="7.0" ry="6.5" fill="rgb(255,210,210)" opacity="0.8" transform="rotate(23 103.4 169.5)" filter="url(#b3)"/><ellipse cx="45.3" cy="188.1" rx="11.4" ry="7.8" fill="rgb(215,215,255)" opacity="0.8" transform="rotate(30 45.3 188.1)" filter="url(#b3)"/><ellipse cx="70.0" cy="93.3" rx="9.8" ry="6.7" fill="rgb(215,215,255)" opacity="0.8" transform="rotate(37 70.0 93.3)" filter="url(#b3)"/><ellipse cx="186.1" cy="157.4" rx="8.1" ry="5.4" fill="rgb(225,225,255)" opacity="0.8" transform="rotate(30 186.1 157.4)" filter="url(#b3)"/><ellipse cx="66.9" cy="51.1" rx="11.7" ry="6.3" fill="rgb(255,225,225)" opacity="0.8" transform="rotate(107 66.9 51.1)" filter="url(#b3)"/><ellipse cx="151.2" cy="51.2" rx="11.7" ry="5.9" fill="rgb(255,225,225)" opacity="0.8" transform="rotate(57 151.2 51.2)" filter="url(#b3)"/><ellipse cx="117.2" cy="159.8" rx="7.8" ry="7.8" fill="rgb(255,210,210)" opacity="0.8" transform="rotate(171 117.2 159.8)" filter="url(#b3)"/><ellipse cx="98.6" cy="108.7" rx="8.6" ry="6.3" fill="rgb(225,225,255)" opacity="0.8" transform="rotate(2 98.6 108.7)" filter="url(#b3)"/><ellipse cx="52.0" cy="70.8" rx="6.8" ry="5.0" fill="rgb(215,215,255)" opacity="0.8" transform="rotate(148 52.0 70.8)" filter="url(#b3)"/><ellipse cx="114.3" cy="127.1" rx="11.4" ry="4.4" fill="rgb(255,225,225)" opacity="0.8" transform="rotate(135 114.3 127.1)" filter="url(#b3)"/><ellipse cx="164.6" cy="186.1" rx="9.0" ry="7.9" fill="rgb(255,210,210)" opacity="0.8" transform="rotate(38 164.6 186.1)" filter="url(#b3)"/><ellipse cx="121.9" cy="101.6" rx="8.4" ry="7.7" fill="rgb(215,215,255)" opacity="0.8" transform="rotate(98 121.9 101.6)" filter="url(#b3)"/><ellipse cx="91.9" cy="93.9" rx="11.6" ry="6.5" fill="rgb(215,215,255)" opacity="0.8" transform="rotate(130 91.9 93.9)" filter="url(#b3)"/><ellipse cx="91.4" cy="122.2" rx="6.6" ry="6.4" fill="rgb(255,210,210)" opacity="0.8" transform="rotate(166 91.4 122.2)" filter="url(#b3)"/><ellipse cx="49.8" cy="165.9" rx="11.8" ry="5.8" fill="rgb(255,225,225)" opacity="0.8" transform="rotate(76 49.8 165.9)" filter="url(#b3)"/><ellipse cx="53.4" cy="195.7" rx="11.6" ry="5.3" fill="rgb(255,210,210)" opacity="0.8" transform="rotate(37 53.4 195.7)" filter="url(#b3)"/><ellipse cx="192.2" cy="135.9" rx="10.4" ry="7.2" fill="rgb(215,215,255)" opacity="0.8" transform="rotate(19 192.2 135.9)" filter="url(#b3)"/><ellipse cx="110.2" cy="65.4" rx="8.1" ry="5.8" fill="rgb(225,225,255)" opacity="0.8" transform="rotate(180 110.2 65.4)" filter="url(#b3)"/><ellipse cx="172.8" cy="205.9" rx="12.7" ry="6.8" fill="rgb(225,225,255)" opacity="0.8" transform="rotate(57 172.8 205.9)" filter="url(#b3)"/><ellipse cx="86.1" cy="119.9" rx="6.8" ry="7.3" fill="rgb(215,215,255)" opacity="0.8" transform="rotate(96 86.1 119.9)" filter="url(#b3)"/><ellipse cx="71.9" cy="199.3" rx="7.3" ry="6.0" fill="rgb(255,225,225)" opacity="0.8" transform="rotate(93 71.9 199.3)" filter="url(#b3)"/><ellipse cx="127.2" cy="125.5" rx="11.5" ry="7.1" fill="rgb(255,210,210)" opacity="0.8" transform="rotate(125 127.2 125.5)" filter="url(#b3)"/><ellipse cx="144.6" cy="169.1" rx="9.9" ry="6.7" fill="rgb(255,225,225)" opacity="0.8" transform="rotate(150 144.6 169.1)" filter="url(#b3)"/><ellipse cx="84.7" cy="206.8" rx="12.7" ry="5.4" fill="rgb(255,225,225)" opacity="0.8" transform="rotate(32 84.7 206.8)" filter="url(#b3)"/><ellipse cx="172.8" cy="120.6" rx="8.3" ry="5.1" fill="rgb(255,225,225)" opacity="0.8" transform="rotate(52 172.8 120.6)" filter="url(#b3)"/><ellipse cx="120.1" cy="154.5" rx="8.4" ry="6.6" fill="rgb(255,225,225)" opacity="0.8" transform="rotate(133 120.1 154.5)" filter="url(#b3)"/><ellipse cx="169.2" cy="99.5" rx="12.1" ry="6.8" fill="rgb(215,215,255)" opacity="0.8" transform="rotate(176 169.2 99.5)" filter="url(#b3)"/><ellipse cx="188.5" cy="128.1" rx="7.4" ry="5.4" fill="rgb(215,215,255)" opacity="0.8" transform="rotate(154 188.5 128.1)" filter="url(#b3)"/><ellipse cx="87.4" cy="53.4" rx="7.2" ry="7.1" fill="rgb(225,225,255)" opacity="0.8" transform="rotate(105 87.4 53.4)" filter="url(#b3)"/><ellipse cx="144.8" cy="111.5" rx="11.0" ry="4.1" fill="rgb(255,225,225)" opacity="0.8" transform="rotate(29 144.8 111.5)" filter="url(#b3)"/><ellipse cx="111.2" cy="150.5" rx="11.3" ry="4.7" fill="rgb(215,215,255)" opacity="0.8" transform="rotate(129 111.2 150.5)" filter="url(#b3)"/><ellipse cx="193.0" cy="206.6" rx="6.4" ry="4.5" fill="rgb(215,215,255)" opacity="0.8" transform="rotate(57 193.0 206.6)" filter="url(#b3)"/><path d="M-2.5,138.6 Q-0.8,125.5 0.7,119.1 Q2.1,112.7 4.2,106.5 Q6.3,100.3 9.0,94.3 Q11.6,88.4 14.8,82.7 Q18.1,77.1 21.8,71.8 Q25.5,66.5 29.8,61.7 Q34.0,56.8 38.7,52.4 Q43.3,48.0 48.4,44.1 Q53.5,40.2 58.9,36.9 Q64.3,33.6 70.0,30.8 Q75.7,28.1 81.6,26.0 Q87.5,23.8 93.7,22.3 Q99.8,20.8 106.0,20.0 Q112.2,19.2 118.5,19.0 Q124.7,18.8 131.0,19.3 Q137.2,19.7 143.4,20.9 Q149.6,22.0 155.6,23.8 Q161.7,25.5 167.5,27.9 Q173.3,30.3 178.9,33.3 L184.5,36.3" fill="none" stroke="rgb(255,170,170)" stroke-width="9" stroke-linecap="round" opacity="0.55" filter="url(#b3)"/><path d="M10.4,139.8 Q12.0,128.1 13.3,122.3 Q14.6,116.6 16.5,111.0 Q18.3,105.5 20.7,100.1 Q23.1,94.8 26.0,89.7 Q28.9,84.7 32.2,79.9 Q35.6,75.2 39.4,70.8 Q43.2,66.5 47.3,62.5 Q51.5,58.6 56.1,55.1 Q60.6,51.7 65.4,48.7 Q70.3,45.7 75.4,43.2 Q80.5,40.8 85.8,38.9 Q91.1,37.0 96.6,35.6 Q102.1,34.3 107.6,33.5 Q113.2,32.8 118.8,32.6 Q124.4,32.4 130.0,32.9 Q135.6,33.3 141.2,34.3 Q146.7,35.3 152.1,36.9 Q157.5,38.5 162.8,40.6 Q168.0,42.8 173.0,45.5 L178.0,48.2" fill="none" stroke="rgb(170,170,255)" stroke-width="8" stroke-linecap="round" opacity="0.6" filter="url(#b3)"/><path d="M24.4,141.0 Q25.7,130.8 26.9,125.8 Q28.0,120.8 29.7,115.9 Q31.3,111.0 33.4,106.4 Q35.5,101.7 38.0,97.3 Q40.5,92.8 43.4,88.7 Q46.4,84.5 49.7,80.7 Q53.0,76.9 56.7,73.5 Q60.3,70.0 64.3,67.0 Q68.3,63.9 72.5,61.3 Q76.7,58.7 81.2,56.6 Q85.7,54.4 90.3,52.8 Q95.0,51.1 99.8,49.9 Q104.6,48.7 109.4,48.1 Q114.3,47.4 119.2,47.3 Q124.1,47.1 129.0,47.5 Q133.9,47.9 138.8,48.8 Q143.6,49.6 148.4,51.0 Q153.1,52.4 157.7,54.3 Q162.3,56.2 166.6,58.5 L171.0,60.9" fill="none" stroke="rgb(255,170,170)" stroke-width="7" stroke-linecap="round" opacity="0.5" filter="url(#b3)"/><path d="M38.3,142.3 Q39.5,133.5 40.5,129.2 Q41.5,124.9 42.9,120.8 Q44.3,116.6 46.0,112.6 Q47.8,108.6 50.0,104.8 Q52.2,101.0 54.7,97.4 Q57.2,93.9 60.0,90.6 Q62.9,87.4 66.0,84.4 Q69.1,81.5 72.5,78.8 Q75.9,76.2 79.6,74.0 Q83.2,71.8 87.0,69.9 Q90.9,68.1 94.9,66.6 Q98.8,65.2 102.9,64.2 Q107.1,63.2 111.2,62.6 Q115.4,62.1 119.6,61.9 Q123.8,61.8 128.0,62.1 Q132.2,62.5 136.4,63.2 Q140.5,64.0 144.6,65.2 Q148.7,66.4 152.6,68.0 Q156.5,69.6 160.3,71.6 L164.0,73.6" fill="none" stroke="rgb(170,170,255)" stroke-width="7" stroke-linecap="round" opacity="0.5" filter="url(#b3)"/><path d="M52.3,143.6 Q53.2,136.3 54.1,132.7 Q54.9,129.1 56.0,125.6 Q57.2,122.2 58.7,118.8 Q60.2,115.5 62.0,112.3 Q63.8,109.2 65.9,106.2 Q68.0,103.2 70.4,100.5 Q72.7,97.8 75.3,95.3 Q77.9,92.9 80.8,90.7 Q83.6,88.5 86.6,86.7 Q89.7,84.8 92.9,83.3 Q96.1,81.7 99.4,80.5 Q102.7,79.3 106.1,78.5 Q109.5,77.7 113.0,77.2 Q116.5,76.7 120.0,76.6 Q123.5,76.5 127.0,76.8 Q130.5,77.0 134.0,77.7 Q137.4,78.3 140.8,79.3 Q144.2,80.3 147.5,81.6 Q150.8,83.0 153.9,84.7 L157.0,86.3" fill="none" stroke="rgb(255,170,170)" stroke-width="6" stroke-linecap="round" opacity="0.45" filter="url(#b3)"/><path d="M66.2,144.9 Q67.0,139.0 67.6,136.2 Q68.3,133.3 69.2,130.5 Q70.2,127.7 71.4,125.1 Q72.6,122.4 74.0,119.9 Q75.4,117.3 77.1,115.0 Q78.8,112.6 80.7,110.4 Q82.6,108.2 84.7,106.3 Q86.8,104.3 89.0,102.6 Q91.3,100.8 93.7,99.3 Q96.1,97.8 98.7,96.6 Q101.2,95.4 103.9,94.4 Q106.6,93.5 109.3,92.8 Q112.0,92.1 114.8,91.8 Q117.6,91.4 120.4,91.3 Q123.2,91.2 126.0,91.4 Q128.8,91.6 131.6,92.1 Q134.4,92.6 137.1,93.4 Q139.8,94.2 142.4,95.3 Q145.0,96.4 147.5,97.7 L150.0,99.1" fill="none" stroke="rgb(170,170,255)" stroke-width="5" stroke-linecap="round" opacity="0.4" filter="url(#b3)"/><path d="M3.0,2.0 Q3.0,60.0 3.5,100.0 L4.0,140.0" fill="none" stroke="rgb(90,90,255)" stroke-width="6" stroke-linecap="round" stroke-linejoin="round" opacity="0.85" filter="url(#b2)"/><path d="M12.0,5.0 Q13.0,40.0 13.5,58.0 L14.0,76.0" fill="none" stroke="rgb(255,80,80)" stroke-width="7" stroke-linecap="round" stroke-linejoin="round" opacity="0.65" filter="url(#b3)"/><ellipse cx="10" cy="82.0" rx="12" ry="2.6" fill="rgb(255,80,80)" opacity="0.85" transform="rotate(-25 10 82.0)" filter="url(#b1_5)"/><ellipse cx="11" cy="90.5" rx="12" ry="2.6" fill="rgb(20,20,255)" opacity="0.85" transform="rotate(-25 11 90.5)" filter="url(#b1_5)"/><ellipse cx="12" cy="99.0" rx="12" ry="2.6" fill="rgb(240,0,0)" opacity="0.85" transform="rotate(-25 12 99.0)" filter="url(#b1_5)"/><ellipse cx="13" cy="107.5" rx="12" ry="2.6" fill="rgb(90,90,255)" opacity="0.85" transform="rotate(-25 13 107.5)" filter="url(#b1_5)"/><ellipse cx="14" cy="116.0" rx="12" ry="2.6" fill="rgb(255,80,80)" opacity="0.85" transform="rotate(-25 14 116.0)" filter="url(#b1_5)"/><ellipse cx="15" cy="124.5" rx="12" ry="2.6" fill="rgb(20,20,255)" opacity="0.85" transform="rotate(-25 15 124.5)" filter="url(#b1_5)"/><ellipse cx="16" cy="133.0" rx="12" ry="2.6" fill="rgb(240,0,0)" opacity="0.85" transform="rotate(-25 16 133.0)" filter="url(#b1_5)"/><ellipse cx="17" cy="141.5" rx="12" ry="2.6" fill="rgb(90,90,255)" opacity="0.85" transform="rotate(-25 17 141.5)" filter="url(#b1_5)"/><ellipse cx="18" cy="150.0" rx="12" ry="2.6" fill="rgb(255,80,80)" opacity="0.85" transform="rotate(-25 18 150.0)" filter="url(#b1_5)"/><ellipse cx="30" cy="120" rx="6" ry="30" fill="rgb(200,200,255)" opacity="0.5" filter="url(#b3)"/><path d="M2.0,150.0 Q8.0,175.0 14.0,187.5 Q20.0,200.0 30.0,211.0 L40.0,222.0" fill="none" stroke="rgb(250,150,150)" stroke-width="9" stroke-linecap="round" stroke-linejoin="round" opacity="0.6" filter="url(#b3)"/><path d="M2.0,185.0 Q15.0,210.0 25.0,221.0 L35.0,232.0" fill="none" stroke="rgb(150,150,255)" stroke-width="7" stroke-linecap="round" stroke-linejoin="round" opacity="0.6" filter="url(#b3)"/><path d="M156.0,37.0 Q164.6,43.7 168.6,47.6 Q172.6,51.5 176.2,55.9 Q179.9,60.3 183.2,65.2 Q186.5,70.0 189.4,75.3 Q192.3,80.6 194.8,86.2 Q197.3,91.9 199.4,97.8 Q201.4,103.8 202.9,110.0 Q204.5,116.2 205.6,122.5 Q206.7,128.9 207.2,135.3 Q207.8,141.8 207.9,148.3 Q207.9,154.8 207.5,161.3 L207.0,167.8" fill="none" stroke="rgb(90,90,255)" stroke-width="7" stroke-linecap="round" opacity="0.8" filter="url(#b2)"/><path d="M167.2,34.7 Q176.0,42.3 180.1,46.7 Q184.1,51.1 187.8,55.9 Q191.5,60.8 194.8,66.1 Q198.1,71.3 201.0,77.0 Q203.8,82.7 206.3,88.7 Q208.7,94.7 210.6,101.0 Q212.5,107.2 213.9,113.7 Q215.4,120.2 216.3,126.8 Q217.2,133.4 217.6,140.1 Q218.0,146.8 217.8,153.6 Q217.7,160.3 217.0,166.9 L216.4,173.6" fill="none" stroke="rgb(240,60,60)" stroke-width="7" stroke-linecap="round" opacity="0.85" filter="url(#b2)"/><path d="M183.9,36.5 Q192.6,45.5 196.6,50.5 Q200.6,55.5 204.1,61.0 Q207.7,66.4 210.8,72.2 Q213.9,78.0 216.6,84.1 Q219.2,90.3 221.3,96.7 Q223.5,103.1 225.1,109.8 Q226.7,116.4 227.8,123.2 Q228.8,130.0 229.4,136.8 Q229.9,143.7 229.9,150.6 Q229.8,157.5 229.3,164.4 Q228.7,171.3 227.6,178.1 L226.4,184.8" fill="none" stroke="rgb(90,90,250)" stroke-width="8" stroke-linecap="round" opacity="0.75" filter="url(#b2_5)"/><path d="M198.3,37.0 Q207.3,47.3 211.4,52.9 Q215.4,58.5 219.0,64.6 Q222.5,70.6 225.6,77.0 Q228.6,83.4 231.1,90.1 Q233.6,96.8 235.6,103.7 Q237.5,110.7 238.8,117.8 Q240.2,124.9 240.9,132.2 Q241.7,139.4 241.8,146.7 Q242.0,154.0 241.5,161.3 Q241.0,168.5 239.9,175.7 Q238.9,182.9 237.2,189.9 L235.5,197.0" fill="none" stroke="rgb(245,100,100)" stroke-width="8" stroke-linecap="round" opacity="0.7" filter="url(#b2_5)"/><path d="M219.5,47.2 Q227.8,59.3 231.4,65.7 Q235.0,72.2 238.0,79.0 Q241.0,85.9 243.4,93.0 Q245.9,100.1 247.7,107.4 Q249.5,114.8 250.7,122.2 Q251.8,129.7 252.4,137.3 Q252.9,144.9 252.8,152.5 Q252.7,160.1 252.0,167.7 Q251.2,175.3 249.8,182.7 Q248.4,190.2 246.4,197.5 L244.4,204.7" fill="none" stroke="rgb(150,150,255)" stroke-width="7" stroke-linecap="round" opacity="0.6" filter="url(#b3)"/><ellipse cx="160" cy="1" rx="14" ry="4" fill="rgb(0,0,110)" opacity="1" filter="url(#b1_5)"/><ellipse cx="178" cy="20" rx="14" ry="6" fill="rgb(20,20,170)" opacity="1" transform="rotate(25 178 20)" filter="url(#b1_5)"/><ellipse cx="152" cy="20" rx="11" ry="5" fill="rgb(240,0,0)" opacity="1" transform="rotate(10 152 20)" filter="url(#b1_5)"/><ellipse cx="158" cy="35" rx="12" ry="4" fill="rgb(150,0,0)" opacity="1" transform="rotate(10 158 35)" filter="url(#b1_5)"/><ellipse cx="160" cy="42" rx="10" ry="3.5" fill="rgb(0,0,140)" opacity="1" transform="rotate(10 160 42)" filter="url(#b1_2)"/><ellipse cx="150" cy="50" rx="14" ry="2.2" fill="rgb(240,0,0)" opacity="0.85" transform="rotate(15 150 50)" filter="url(#b1_2)"/><ellipse cx="153" cy="55" rx="14" ry="2.2" fill="rgb(20,20,255)" opacity="0.85" transform="rotate(15 153 55)" filter="url(#b1_2)"/><ellipse cx="156" cy="60" rx="14" ry="2.2" fill="rgb(255,80,80)" opacity="0.85" transform="rotate(15 156 60)" filter="url(#b1_2)"/><ellipse cx="159" cy="65" rx="14" ry="2.2" fill="rgb(90,90,255)" opacity="0.85" transform="rotate(15 159 65)" filter="url(#b1_2)"/><ellipse cx="190" cy="35" rx="10" ry="22" fill="rgb(240,60,60)" opacity="0.7" transform="rotate(-30 190 35)" filter="url(#b3)"/><ellipse cx="215" cy="20" rx="18" ry="10" fill="rgb(170,170,255)" opacity="0.6" filter="url(#b4)"/><path d="M214.0,124.0 Q206.0,150.0 202.0,165.0 L198.0,180.0" fill="none" stroke="rgb(0,0,140)" stroke-width="6" stroke-linecap="round" stroke-linejoin="round" opacity="1" filter="url(#b1_5)"/><path d="M207.0,122.0 L199.0,150.0" fill="none" stroke="rgb(240,0,0)" stroke-width="4" stroke-linecap="round" stroke-linejoin="round" opacity="0.8" filter="url(#b1_5)"/><path d="M214.0,165.0 L205.0,190.0" fill="none" stroke="rgb(190,0,0)" stroke-width="7" stroke-linecap="round" stroke-linejoin="round" opacity="1" filter="url(#b2)"/><ellipse cx="211" cy="188" rx="8" ry="7" fill="rgb(0,0,100)" opacity="1" filter="url(#b1_5)"/><ellipse cx="78" cy="160" rx="14" ry="2.5" fill="rgb(255,80,80)" opacity="0.85" transform="rotate(30 78 160)" filter="url(#b1_3)"/><ellipse cx="81" cy="165" rx="14" ry="2.5" fill="rgb(20,20,255)" opacity="0.85" transform="rotate(30 81 165)" filter="url(#b1_3)"/><ellipse cx="84" cy="170" rx="14" ry="2.5" fill="rgb(240,0,0)" opacity="0.85" transform="rotate(30 84 170)" filter="url(#b1_3)"/><ellipse cx="87" cy="175" rx="14" ry="2.5" fill="rgb(90,90,255)" opacity="0.85" transform="rotate(30 87 175)" filter="url(#b1_3)"/><ellipse cx="90" cy="180" rx="14" ry="2.5" fill="rgb(255,80,80)" opacity="0.85" transform="rotate(30 90 180)" filter="url(#b1_3)"/><ellipse cx="93" cy="185" rx="14" ry="2.5" fill="rgb(20,20,255)" opacity="0.85" transform="rotate(30 93 185)" filter="url(#b1_3)"/><ellipse cx="96" cy="190" rx="14" ry="2.5" fill="rgb(240,0,0)" opacity="0.85" transform="rotate(30 96 190)" filter="url(#b1_3)"/><ellipse cx="88" cy="193" rx="8" ry="5" fill="rgb(0,0,110)" opacity="1" transform="rotate(20 88 193)" filter="url(#b1_5)"/><ellipse cx="80" cy="205" rx="7" ry="5" fill="rgb(240,0,0)" opacity="1" transform="rotate(20 80 205)" filter="url(#b1_5)"/><ellipse cx="98" cy="214" rx="8" ry="4" fill="rgb(230,20,20)" opacity="0.9" transform="rotate(20 98 214)" filter="url(#b1_5)"/><ellipse cx="92" cy="222" rx="6" ry="4" fill="rgb(90,90,255)" opacity="0.8" transform="rotate(20 92 222)" filter="url(#b1_5)"/><path d="M0.0,182.0 Q40.0,212.0 60.0,222.0 Q80.0,232.0 100.0,236.0 L120.0,240.0" fill="none" stroke="rgb(255,170,170)" stroke-width="10" stroke-linecap="round" stroke-linejoin="round" opacity="0.7" filter="url(#b3)"/><path d="M0.0,205.0 Q30.0,226.0 45.0,233.5 Q60.0,241.0 80.0,246.5 Q100.0,252.0 115.0,255.0 Q130.0,258.0 140.0,254.0 L150.0,250.0" fill="none" stroke="rgb(100,100,250)" stroke-width="15" stroke-linecap="round" stroke-linejoin="round" opacity="0.85" filter="url(#b3)"/><ellipse cx="130" cy="257" rx="20" ry="9" fill="rgb(20,20,210)" opacity="0.9" transform="rotate(-8 130 257)" filter="url(#b3)"/><path d="M150.0,212.0 Q165.0,207.0 173.5,203.5 L182.0,200.0" fill="none" stroke="rgb(0,0,120)" stroke-width="9" stroke-linecap="round" stroke-linejoin="round" opacity="1" filter="url(#b1_5)"/><path d="M150.0,225.0 Q175.0,205.0 190.0,191.5 L205.0,178.0" fill="none" stroke="rgb(150,0,0)" stroke-width="12" stroke-linecap="round" stroke-linejoin="round" opacity="1" filter="url(#b2)"/><path d="M212.0,182.0 Q200.0,210.0 193.0,227.5 L186.0,245.0" fill="none" stroke="rgb(0,0,100)" stroke-width="11" stroke-linecap="round" stroke-linejoin="round" opacity="1" filter="url(#b2)"/><ellipse cx="217" cy="200" rx="12" ry="7" fill="rgb(140,0,0)" opacity="1" transform="rotate(-20 217 200)" filter="url(#b2)"/><ellipse cx="224" cy="218" rx="7" ry="8" fill="rgb(0,0,110)" opacity="1" filter="url(#b1_5)"/><path d="M228.0,232.0 Q200.0,250.0 186.0,259.0 L172.0,268.0" fill="none" stroke="rgb(230,10,10)" stroke-width="12" stroke-linecap="round" stroke-linejoin="round" opacity="0.95" filter="url(#b2_5)"/><path d="M0.0,248.0 Q30.0,268.0 45.0,276.5 Q60.0,285.0 75.0,292.5 Q90.0,300.0 103.5,303.5 Q117.0,307.0 131.0,303.5 Q145.0,300.0 155.0,292.5 Q165.0,285.0 172.5,276.5 L180.0,268.0" fill="none" stroke="rgb(240,25,25)" stroke-width="18" stroke-linecap="round" stroke-linejoin="round" opacity="0.9" filter="url(#b3)"/><path d="M0.0,248.0 Q30.0,268.0 42.5,275.0 L55.0,282.0" fill="none" stroke="rgb(255,140,140)" stroke-width="18" stroke-linecap="round" stroke-linejoin="round" opacity="0.6" filter="url(#b3)"/><ellipse cx="130" cy="301" rx="35" ry="8" fill="rgb(225,0,0)" opacity="0.8" transform="rotate(-10 130 301)" filter="url(#b3)"/><ellipse cx="176" cy="303" rx="12" ry="10" fill="rgb(0,0,170)" opacity="1" filter="url(#b2)"/><path d="M188.0,290.0 Q215.0,277.0 230.5,269.5 L246.0,262.0" fill="none" stroke="rgb(60,60,240)" stroke-width="18" stroke-linecap="round" stroke-linejoin="round" opacity="0.85" filter="url(#b4)"/><path d="M20.0,300.0 Q60.0,318.0 88.5,322.0 Q117.0,326.0 138.5,324.0 Q160.0,322.0 187.0,318.0 Q214.0,314.0 230.0,306.0 L246.0,298.0" fill="none" stroke="rgb(120,120,255)" stroke-width="13" stroke-linecap="round" stroke-linejoin="round" opacity="0.75" filter="url(#b3)"/><path d="M10.0,332.0 Q48.0,348.0 74.0,354.0 Q100.0,360.0 125.0,360.0 Q150.0,360.0 182.0,356.0 Q214.0,352.0 232.0,349.0 L250.0,346.0" fill="none" stroke="rgb(135,135,255)" stroke-width="18" stroke-linecap="round" stroke-linejoin="round" opacity="0.75" filter="url(#b4)"/><ellipse cx="232" cy="342" rx="25" ry="20" fill="rgb(255,205,205)" opacity="0.6" filter="url(#b6)"/><path d="M0.0,382.0 Q100.0,388.0 177.5,383.0 L255.0,378.0" fill="none" stroke="rgb(255,215,215)" stroke-width="14" stroke-linecap="round" stroke-linejoin="round" opacity="0.6" filter="url(#b4)"/><ellipse cx="200" cy="320" rx="40" ry="25" fill="rgb(245,240,250)" opacity="0.4" filter="url(#b6)"/><ellipse cx="100" cy="300" rx="85" ry="22" fill="rgb(255,240,240)" opacity="0.35" transform="rotate(-8 100 300)" filter="url(#b6)"/><ellipse cx="205" cy="250" rx="30" ry="45" fill="rgb(235,235,255)" opacity="0.35" filter="url(#b6)"/></g></g><rect x="404.3" y="529.0" width="257.4" height="394.5" fill="none" stroke="#000" stroke-width="2"/><line x1="480.4" y1="524.0" x2="480.4" y2="529.0" stroke="#000" stroke-width="1.8"/><line x1="556.0" y1="524.0" x2="556.0" y2="529.0" stroke="#000" stroke-width="1.8"/><line x1="631.6" y1="524.0" x2="631.6" y2="529.0" stroke="#000" stroke-width="1.8"/><line x1="399.3" y1="605.2" x2="404.3" y2="605.2" stroke="#000" stroke-width="1.8"/><line x1="399.3" y1="680.9" x2="404.3" y2="680.9" stroke="#000" stroke-width="1.8"/><line x1="399.3" y1="756.6" x2="404.3" y2="756.6" stroke="#000" stroke-width="1.8"/><line x1="399.3" y1="832.3" x2="404.3" y2="832.3" stroke="#000" stroke-width="1.8"/><line x1="399.3" y1="908.0" x2="404.3" y2="908.0" stroke="#000" stroke-width="1.8"/><g clip-path="url(#c_a3r2)"><g transform="translate(670.0,530.0) scale(0.9992,1.0013)"><rect x="0" y="0" width="255" height="392" fill="rgb(252,248,250)" opacity="1"/><ellipse cx="120" cy="110" rx="110" ry="100" fill="rgb(250,244,248)" opacity="1" filter="url(#b12)"/><ellipse cx="74.0" cy="139.7" rx="13.3" ry="6.4" fill="rgb(255,220,220)" opacity="0.85" transform="rotate(105 74.0 139.7)" filter="url(#b3)"/><ellipse cx="142.0" cy="219.9" rx="8.1" ry="5.2" fill="rgb(220,220,255)" opacity="0.85" transform="rotate(179 142.0 219.9)" filter="url(#b3)"/><ellipse cx="117.0" cy="204.0" rx="9.2" ry="8.3" fill="rgb(220,220,255)" opacity="0.85" transform="rotate(42 117.0 204.0)" filter="url(#b3)"/><ellipse cx="58.1" cy="223.7" rx="11.9" ry="7.4" fill="rgb(220,220,255)" opacity="0.85" transform="rotate(12 58.1 223.7)" filter="url(#b3)"/><ellipse cx="170.3" cy="150.0" rx="12.2" ry="8.1" fill="rgb(255,220,220)" opacity="0.85" transform="rotate(48 170.3 150.0)" filter="url(#b3)"/><ellipse cx="140.0" cy="222.4" rx="11.7" ry="8.6" fill="rgb(220,220,255)" opacity="0.85" transform="rotate(71 140.0 222.4)" filter="url(#b3)"/><ellipse cx="178.2" cy="117.8" rx="13.0" ry="4.5" fill="rgb(210,210,255)" opacity="0.85" transform="rotate(24 178.2 117.8)" filter="url(#b3)"/><ellipse cx="70.1" cy="232.4" rx="12.2" ry="8.3" fill="rgb(220,220,255)" opacity="0.85" transform="rotate(76 70.1 232.4)" filter="url(#b3)"/><ellipse cx="184.2" cy="146.3" rx="10.7" ry="8.5" fill="rgb(220,220,255)" opacity="0.85" transform="rotate(123 184.2 146.3)" filter="url(#b3)"/><ellipse cx="201.9" cy="208.4" rx="11.6" ry="5.6" fill="rgb(210,210,255)" opacity="0.85" transform="rotate(98 201.9 208.4)" filter="url(#b3)"/><ellipse cx="135.8" cy="42.9" rx="11.1" ry="8.9" fill="rgb(210,210,255)" opacity="0.85" transform="rotate(48 135.8 42.9)" filter="url(#b3)"/><ellipse cx="53.0" cy="126.0" rx="6.7" ry="8.0" fill="rgb(220,220,255)" opacity="0.85" transform="rotate(74 53.0 126.0)" filter="url(#b3)"/><ellipse cx="57.9" cy="84.7" rx="13.0" ry="4.2" fill="rgb(220,220,255)" opacity="0.85" transform="rotate(111 57.9 84.7)" filter="url(#b3)"/><ellipse cx="38.3" cy="178.1" rx="10.4" ry="8.6" fill="rgb(255,220,220)" opacity="0.85" transform="rotate(50 38.3 178.1)" filter="url(#b3)"/><ellipse cx="73.7" cy="27.9" rx="6.6" ry="7.0" fill="rgb(255,205,205)" opacity="0.85" transform="rotate(6 73.7 27.9)" filter="url(#b3)"/><ellipse cx="66.5" cy="109.7" rx="7.2" ry="4.2" fill="rgb(255,220,220)" opacity="0.85" transform="rotate(156 66.5 109.7)" filter="url(#b3)"/><ellipse cx="88.1" cy="230.9" rx="9.0" ry="8.3" fill="rgb(220,220,255)" opacity="0.85" transform="rotate(70 88.1 230.9)" filter="url(#b3)"/><ellipse cx="190.4" cy="169.8" rx="11.0" ry="8.7" fill="rgb(255,205,205)" opacity="0.85" transform="rotate(91 190.4 169.8)" filter="url(#b3)"/><ellipse cx="109.8" cy="178.5" rx="13.5" ry="6.2" fill="rgb(210,210,255)" opacity="0.85" transform="rotate(46 109.8 178.5)" filter="url(#b3)"/><ellipse cx="86.1" cy="94.6" rx="13.9" ry="5.6" fill="rgb(220,220,255)" opacity="0.85" transform="rotate(68 86.1 94.6)" filter="url(#b3)"/><ellipse cx="139.0" cy="49.3" rx="9.7" ry="7.4" fill="rgb(255,220,220)" opacity="0.85" transform="rotate(63 139.0 49.3)" filter="url(#b3)"/><ellipse cx="160.8" cy="182.4" rx="10.7" ry="8.8" fill="rgb(255,205,205)" opacity="0.85" transform="rotate(4 160.8 182.4)" filter="url(#b3)"/><ellipse cx="98.3" cy="158.2" rx="10.7" ry="5.6" fill="rgb(255,220,220)" opacity="0.85" transform="rotate(66 98.3 158.2)" filter="url(#b3)"/><ellipse cx="87.8" cy="101.2" rx="8.4" ry="5.9" fill="rgb(255,220,220)" opacity="0.85" transform="rotate(139 87.8 101.2)" filter="url(#b3)"/><ellipse cx="35.0" cy="145.2" rx="8.5" ry="5.1" fill="rgb(210,210,255)" opacity="0.85" transform="rotate(145 35.0 145.2)" filter="url(#b3)"/><ellipse cx="74.2" cy="61.2" rx="11.2" ry="4.5" fill="rgb(220,220,255)" opacity="0.85" transform="rotate(108 74.2 61.2)" filter="url(#b3)"/><ellipse cx="205.6" cy="168.5" rx="9.5" ry="8.3" fill="rgb(210,210,255)" opacity="0.85" transform="rotate(30 205.6 168.5)" filter="url(#b3)"/><ellipse cx="92.3" cy="163.1" rx="8.2" ry="7.9" fill="rgb(220,220,255)" opacity="0.85" transform="rotate(6 92.3 163.1)" filter="url(#b3)"/><ellipse cx="207.2" cy="89.3" rx="12.9" ry="5.7" fill="rgb(210,210,255)" opacity="0.85" transform="rotate(149 207.2 89.3)" filter="url(#b3)"/><ellipse cx="45.8" cy="156.3" rx="9.4" ry="6.6" fill="rgb(210,210,255)" opacity="0.85" transform="rotate(153 45.8 156.3)" filter="url(#b3)"/><ellipse cx="116.0" cy="159.5" rx="9.4" ry="6.0" fill="rgb(255,220,220)" opacity="0.85" transform="rotate(166 116.0 159.5)" filter="url(#b3)"/><ellipse cx="58.9" cy="21.0" rx="10.5" ry="8.9" fill="rgb(220,220,255)" opacity="0.85" transform="rotate(129 58.9 21.0)" filter="url(#b3)"/><ellipse cx="36.0" cy="120.5" rx="10.4" ry="8.4" fill="rgb(255,220,220)" opacity="0.85" transform="rotate(155 36.0 120.5)" filter="url(#b3)"/><ellipse cx="188.7" cy="233.6" rx="12.5" ry="4.2" fill="rgb(255,205,205)" opacity="0.85" transform="rotate(163 188.7 233.6)" filter="url(#b3)"/><ellipse cx="158.3" cy="223.2" rx="10.6" ry="4.1" fill="rgb(220,220,255)" opacity="0.85" transform="rotate(134 158.3 223.2)" filter="url(#b3)"/><ellipse cx="61.8" cy="86.0" rx="10.2" ry="6.1" fill="rgb(255,205,205)" opacity="0.85" transform="rotate(169 61.8 86.0)" filter="url(#b3)"/><ellipse cx="143.3" cy="95.1" rx="13.8" ry="6.7" fill="rgb(255,220,220)" opacity="0.85" transform="rotate(146 143.3 95.1)" filter="url(#b3)"/><ellipse cx="41.4" cy="68.6" rx="10.3" ry="8.1" fill="rgb(255,205,205)" opacity="0.85" transform="rotate(31 41.4 68.6)" filter="url(#b3)"/><ellipse cx="176.5" cy="222.8" rx="12.6" ry="4.0" fill="rgb(210,210,255)" opacity="0.85" transform="rotate(113 176.5 222.8)" filter="url(#b3)"/><ellipse cx="189.6" cy="31.0" rx="8.0" ry="7.1" fill="rgb(255,220,220)" opacity="0.85" transform="rotate(94 189.6 31.0)" filter="url(#b3)"/><ellipse cx="39.4" cy="91.1" rx="12.9" ry="7.9" fill="rgb(255,205,205)" opacity="0.85" transform="rotate(8 39.4 91.1)" filter="url(#b3)"/><ellipse cx="39.2" cy="126.2" rx="12.8" ry="4.4" fill="rgb(255,205,205)" opacity="0.85" transform="rotate(90 39.2 126.2)" filter="url(#b3)"/><ellipse cx="88.4" cy="89.2" rx="9.1" ry="5.9" fill="rgb(255,220,220)" opacity="0.85" transform="rotate(55 88.4 89.2)" filter="url(#b3)"/><ellipse cx="79.0" cy="237.4" rx="7.0" ry="6.8" fill="rgb(220,220,255)" opacity="0.85" transform="rotate(129 79.0 237.4)" filter="url(#b3)"/><ellipse cx="100.3" cy="37.6" rx="6.3" ry="6.3" fill="rgb(210,210,255)" opacity="0.85" transform="rotate(117 100.3 37.6)" filter="url(#b3)"/><path d="M-1.1,125.6 Q1.9,111.5 4.0,104.6 Q6.1,97.8 8.9,91.2 Q11.6,84.7 15.0,78.4 Q18.3,72.2 22.2,66.4 Q26.1,60.6 30.5,55.3 Q35.0,49.9 39.9,45.1 Q44.8,40.3 50.1,36.1 Q55.4,31.8 61.1,28.2 Q66.8,24.6 72.8,21.7 Q78.8,18.7 85.0,16.4 Q91.2,14.2 97.7,12.6 Q104.1,11.1 110.6,10.3 Q117.1,9.5 123.7,9.4 Q130.3,9.3 136.8,10.0 Q143.3,10.7 149.8,12.1 Q156.2,13.5 162.5,15.6 L168.8,17.7" fill="none" stroke="rgb(255,170,170)" stroke-width="8" stroke-linecap="round" opacity="0.45" filter="url(#b3)"/><path d="M11.7,128.0 Q14.4,115.4 16.3,109.2 Q18.2,103.1 20.7,97.2 Q23.1,91.3 26.1,85.7 Q29.1,80.1 32.6,74.9 Q36.2,69.7 40.1,64.9 Q44.1,60.1 48.5,55.8 Q52.9,51.4 57.7,47.6 Q62.5,43.8 67.6,40.6 Q72.7,37.3 78.1,34.7 Q83.5,32.0 89.1,30.0 Q94.7,28.0 100.4,26.6 Q106.2,25.2 112.1,24.5 Q117.9,23.7 123.8,23.7 Q129.7,23.6 135.6,24.2 Q141.5,24.8 147.3,26.1 Q153.1,27.3 158.7,29.2 L164.3,31.1" fill="none" stroke="rgb(170,170,255)" stroke-width="7" stroke-linecap="round" opacity="0.45" filter="url(#b3)"/><path d="M26.5,130.9 Q28.8,119.9 30.5,114.6 Q32.1,109.2 34.3,104.1 Q36.4,99.0 39.0,94.1 Q41.6,89.2 44.7,84.7 Q47.7,80.2 51.2,76.0 Q54.7,71.8 58.5,68.1 Q62.3,64.3 66.5,61.0 Q70.6,57.7 75.1,54.9 Q79.5,52.0 84.2,49.7 Q88.9,47.4 93.7,45.7 Q98.6,43.9 103.6,42.7 Q108.6,41.5 113.7,40.8 Q118.8,40.2 124.0,40.2 Q129.1,40.1 134.2,40.6 Q139.3,41.1 144.4,42.2 Q149.4,43.3 154.3,45.0 L159.2,46.6" fill="none" stroke="rgb(255,170,170)" stroke-width="6" stroke-linecap="round" opacity="0.4" filter="url(#b3)"/><ellipse cx="175" cy="1" rx="22" ry="4" fill="rgb(0,0,90)" opacity="1" filter="url(#b1_5)"/><ellipse cx="160" cy="12" rx="22" ry="2.6" fill="rgb(200,0,0)" opacity="0.9" transform="rotate(18 160 12)" filter="url(#b1_2)"/><ellipse cx="164" cy="18" rx="22" ry="2.6" fill="rgb(30,30,220)" opacity="0.9" transform="rotate(18 164 18)" filter="url(#b1_2)"/><ellipse cx="168" cy="24" rx="22" ry="2.6" fill="rgb(240,0,0)" opacity="0.9" transform="rotate(18 168 24)" filter="url(#b1_2)"/><ellipse cx="172" cy="30" rx="22" ry="2.6" fill="rgb(20,20,255)" opacity="0.9" transform="rotate(18 172 30)" filter="url(#b1_2)"/><ellipse cx="176" cy="36" rx="22" ry="2.6" fill="rgb(255,80,80)" opacity="0.9" transform="rotate(18 176 36)" filter="url(#b1_2)"/><ellipse cx="180" cy="42" rx="22" ry="2.6" fill="rgb(90,90,255)" opacity="0.9" transform="rotate(18 180 42)" filter="url(#b1_2)"/><ellipse cx="168" cy="13" rx="12" ry="4" fill="rgb(140,0,0)" opacity="1" transform="rotate(18 168 13)" filter="url(#b1_2)"/><ellipse cx="215" cy="10" rx="20" ry="8" fill="rgb(170,170,255)" opacity="0.6" filter="url(#b3)"/><path d="M200.0,20.0 Q225.0,50.0 231.5,70.0 Q238.0,90.0 240.0,107.5 L242.0,125.0" fill="none" stroke="rgb(20,20,255)" stroke-width="5" stroke-linecap="round" stroke-linejoin="round" opacity="0.85" filter="url(#b1_5)"/><path d="M210.0,15.0 Q235.0,50.0 241.0,72.5 Q247.0,95.0 248.5,115.0 L250.0,135.0" fill="none" stroke="rgb(240,0,0)" stroke-width="4" stroke-linecap="round" stroke-linejoin="round" opacity="0.8" filter="url(#b1_5)"/><path d="M190.0,30.0 Q212.0,60.0 218.5,80.0 Q225.0,100.0 226.5,110.0 L228.0,120.0" fill="none" stroke="rgb(255,80,80)" stroke-width="4" stroke-linecap="round" stroke-linejoin="round" opacity="0.6" filter="url(#b1_5)"/><path d="M185.0,45.0 Q205.0,75.0 211.5,92.5 L218.0,110.0" fill="none" stroke="rgb(90,90,255)" stroke-width="4" stroke-linecap="round" stroke-linejoin="round" opacity="0.5" filter="url(#b1_5)"/><path d="M175.0,55.0 Q195.0,85.0 201.5,100.0 L208.0,115.0" fill="none" stroke="rgb(255,150,150)" stroke-width="4" stroke-linecap="round" stroke-linejoin="round" opacity="0.5" filter="url(#b1_5)"/><ellipse cx="226" cy="137" rx="6" ry="11" fill="rgb(180,0,0)" opacity="1" transform="rotate(-20 226 137)" filter="url(#b1_5)"/><ellipse cx="235" cy="141" rx="5" ry="10" fill="rgb(0,0,140)" opacity="1" transform="rotate(-20 235 141)" filter="url(#b1_5)"/><ellipse cx="205" cy="125" rx="8" ry="2.5" fill="rgb(255,80,80)" opacity="0.7" transform="rotate(-40 205 125)" filter="url(#b1_2)"/><ellipse cx="202" cy="133" rx="8" ry="2.5" fill="rgb(90,90,255)" opacity="0.7" transform="rotate(-40 202 133)" filter="url(#b1_2)"/><ellipse cx="199" cy="141" rx="8" ry="2.5" fill="rgb(255,80,80)" opacity="0.7" transform="rotate(-40 199 141)" filter="url(#b1_2)"/><ellipse cx="196" cy="149" rx="8" ry="2.5" fill="rgb(90,90,255)" opacity="0.7" transform="rotate(-40 196 149)" filter="url(#b1_2)"/><path d="M3.0,5.0 Q4.0,60.0 4.5,85.0 L5.0,110.0" fill="none" stroke="rgb(90,90,255)" stroke-width="4" stroke-linecap="round" stroke-linejoin="round" opacity="0.7" filter="url(#b1_5)"/><path d="M10.0,10.0 Q12.0,60.0 13.0,80.0 L14.0,100.0" fill="none" stroke="rgb(255,80,80)" stroke-width="4" stroke-linecap="round" stroke-linejoin="round" opacity="0.6" filter="url(#b1_5)"/><ellipse cx="8" cy="70" rx="11" ry="2.6" fill="rgb(255,80,80)" opacity="0.85" transform="rotate(-30 8 70)" filter="url(#b1_3)"/><ellipse cx="9" cy="78" rx="11" ry="2.6" fill="rgb(20,20,255)" opacity="0.85" transform="rotate(-30 9 78)" filter="url(#b1_3)"/><ellipse cx="10" cy="86" rx="11" ry="2.6" fill="rgb(240,0,0)" opacity="0.85" transform="rotate(-30 10 86)" filter="url(#b1_3)"/><ellipse cx="11" cy="94" rx="11" ry="2.6" fill="rgb(90,90,255)" opacity="0.85" transform="rotate(-30 11 94)" filter="url(#b1_3)"/><ellipse cx="12" cy="102" rx="11" ry="2.6" fill="rgb(255,80,80)" opacity="0.85" transform="rotate(-30 12 102)" filter="url(#b1_3)"/><ellipse cx="13" cy="110" rx="11" ry="2.6" fill="rgb(20,20,255)" opacity="0.85" transform="rotate(-30 13 110)" filter="url(#b1_3)"/><ellipse cx="14" cy="118" rx="11" ry="2.6" fill="rgb(240,0,0)" opacity="0.85" transform="rotate(-30 14 118)" filter="url(#b1_3)"/><ellipse cx="15" cy="126" rx="11" ry="2.6" fill="rgb(90,90,255)" opacity="0.85" transform="rotate(-30 15 126)" filter="url(#b1_3)"/><ellipse cx="16" cy="134" rx="11" ry="2.6" fill="rgb(255,80,80)" opacity="0.85" transform="rotate(-30 16 134)" filter="url(#b1_3)"/><ellipse cx="10" cy="122" rx="8" ry="4" fill="rgb(200,0,0)" opacity="1" transform="rotate(-30 10 122)" filter="url(#b1_5)"/><ellipse cx="13" cy="130" rx="8" ry="4" fill="rgb(0,0,140)" opacity="1" transform="rotate(-30 13 130)" filter="url(#b1_5)"/><ellipse cx="75" cy="165" rx="12" ry="2.2" fill="rgb(255,80,80)" opacity="0.75" transform="rotate(30 75 165)" filter="url(#b1_2)"/><ellipse cx="78" cy="170" rx="12" ry="2.2" fill="rgb(20,20,255)" opacity="0.75" transform="rotate(30 78 170)" filter="url(#b1_2)"/><ellipse cx="81" cy="175" rx="12" ry="2.2" fill="rgb(240,0,0)" opacity="0.75" transform="rotate(30 81 175)" filter="url(#b1_2)"/><ellipse cx="84" cy="180" rx="12" ry="2.2" fill="rgb(90,90,255)" opacity="0.75" transform="rotate(30 84 180)" filter="url(#b1_2)"/><ellipse cx="87" cy="185" rx="12" ry="2.2" fill="rgb(255,80,80)" opacity="0.75" transform="rotate(30 87 185)" filter="url(#b1_2)"/><ellipse cx="90" cy="190" rx="12" ry="2.2" fill="rgb(20,20,255)" opacity="0.75" transform="rotate(30 90 190)" filter="url(#b1_2)"/><ellipse cx="86" cy="199" rx="8" ry="5" fill="rgb(0,0,120)" opacity="1" transform="rotate(20 86 199)" filter="url(#b1_5)"/><ellipse cx="86" cy="211" rx="9" ry="6" fill="rgb(170,0,0)" opacity="1" transform="rotate(20 86 211)" filter="url(#b1_5)"/><ellipse cx="92" cy="220" rx="6" ry="4" fill="rgb(255,80,80)" opacity="0.8" filter="url(#b1_5)"/><ellipse cx="192" cy="170" rx="14" ry="3" fill="rgb(240,0,0)" opacity="0.9" transform="rotate(-60 192 170)" filter="url(#b1_3)"/><ellipse cx="197" cy="180" rx="14" ry="3" fill="rgb(0,0,110)" opacity="0.9" transform="rotate(-60 197 180)" filter="url(#b1_3)"/><ellipse cx="202" cy="190" rx="14" ry="3" fill="rgb(255,80,80)" opacity="0.9" transform="rotate(-60 202 190)" filter="url(#b1_3)"/><ellipse cx="207" cy="200" rx="14" ry="3" fill="rgb(20,20,255)" opacity="0.9" transform="rotate(-60 207 200)" filter="url(#b1_3)"/><ellipse cx="212" cy="210" rx="14" ry="3" fill="rgb(150,0,0)" opacity="0.9" transform="rotate(-60 212 210)" filter="url(#b1_3)"/><ellipse cx="217" cy="220" rx="14" ry="3" fill="rgb(90,90,255)" opacity="0.9" transform="rotate(-60 217 220)" filter="url(#b1_3)"/><ellipse cx="214" cy="220" rx="10" ry="6" fill="rgb(0,0,110)" opacity="1" transform="rotate(-40 214 220)" filter="url(#b1_5)"/><ellipse cx="216" cy="205" rx="8" ry="6" fill="rgb(140,0,0)" opacity="1" transform="rotate(-40 216 205)" filter="url(#b1_5)"/><ellipse cx="216" cy="234" rx="9" ry="6" fill="rgb(160,0,0)" opacity="1" transform="rotate(-40 216 234)" filter="url(#b1_5)"/><path d="M175.0,236.0 Q168.0,252.0 164.0,260.0 L160.0,268.0" fill="none" stroke="rgb(0,0,140)" stroke-width="7" stroke-linecap="round" stroke-linejoin="round" opacity="1" filter="url(#b1_5)"/><ellipse cx="150" cy="225" rx="10" ry="25" fill="rgb(120,120,255)" opacity="0.6" transform="rotate(30 150 225)" filter="url(#b3)"/><path d="M200.0,226.0 Q185.0,250.0 177.5,262.5 Q170.0,275.0 162.5,285.0 Q155.0,295.0 145.0,301.5 Q135.0,308.0 122.5,311.0 L110.0,314.0" fill="none" stroke="rgb(235,20,20)" stroke-width="14" stroke-linecap="round" stroke-linejoin="round" opacity="0.9" filter="url(#b2_5)"/><path d="M110.0,314.0 Q80.0,306.0 65.0,299.0 Q50.0,292.0 39.0,286.0 L28.0,280.0" fill="none" stroke="rgb(250,100,100)" stroke-width="12" stroke-linecap="round" stroke-linejoin="round" opacity="0.8" filter="url(#b3)"/><path d="M132.0,254.0 Q150.0,256.0 160.5,253.0 L171.0,250.0" fill="none" stroke="rgb(235,30,30)" stroke-width="7" stroke-linecap="round" stroke-linejoin="round" opacity="0.85" filter="url(#b2)"/><ellipse cx="205" cy="287" rx="20" ry="12" fill="rgb(0,0,110)" opacity="1" transform="rotate(-10 205 287)" filter="url(#b3)"/><path d="M214.0,262.0 Q232.0,272.0 239.0,278.5 L246.0,285.0" fill="none" stroke="rgb(40,40,230)" stroke-width="14" stroke-linecap="round" stroke-linejoin="round" opacity="0.85" filter="url(#b3)"/><path d="M20.0,305.0 Q70.0,318.0 99.0,322.0 Q128.0,326.0 144.0,328.0 Q160.0,330.0 180.0,327.0 Q200.0,324.0 223.0,321.0 L246.0,318.0" fill="none" stroke="rgb(110,110,250)" stroke-width="16" stroke-linecap="round" stroke-linejoin="round" opacity="0.75" filter="url(#b3)"/><path d="M150.0,330.0 Q200.0,328.0 225.0,326.5 L250.0,325.0" fill="none" stroke="rgb(175,175,255)" stroke-width="24" stroke-linecap="round" stroke-linejoin="round" opacity="0.8" filter="url(#b4)"/><ellipse cx="118" cy="342" rx="14" ry="9" fill="rgb(0,0,120)" opacity="1" filter="url(#b2)"/><path d="M35.0,340.0 Q90.0,350.0 120.0,348.0 L150.0,346.0" fill="none" stroke="rgb(80,80,240)" stroke-width="14" stroke-linecap="round" stroke-linejoin="round" opacity="0.8" filter="url(#b3)"/><path d="M149.0,365.0 Q200.0,362.0 225.0,361.0 L250.0,360.0" fill="none" stroke="rgb(255,200,200)" stroke-width="26" stroke-linecap="round" stroke-linejoin="round" opacity="0.75" filter="url(#b5)"/><path d="M35.0,375.0 Q80.0,380.0 105.0,379.0 L130.0,378.0" fill="none" stroke="rgb(245,70,70)" stroke-width="16" stroke-linecap="round" stroke-linejoin="round" opacity="0.75" filter="url(#b3)"/><ellipse cx="56" cy="372" rx="9" ry="6" fill="rgb(230,0,0)" opacity="0.9" filter="url(#b2)"/><ellipse cx="110" cy="372" rx="7" ry="6" fill="rgb(230,40,40)" opacity="0.8" filter="url(#b2)"/><path d="M2.0,150.0 Q10.0,200.0 19.0,225.0 Q28.0,250.0 36.5,262.5 L45.0,275.0" fill="none" stroke="rgb(255,190,190)" stroke-width="8" stroke-linecap="round" stroke-linejoin="round" opacity="0.6" filter="url(#b4)"/><path d="M2.0,215.0 Q12.0,265.0 21.0,282.5 L30.0,300.0" fill="none" stroke="rgb(190,190,255)" stroke-width="8" stroke-linecap="round" stroke-linejoin="round" opacity="0.6" filter="url(#b4)"/><path d="M2.0,280.0 Q15.0,330.0 22.5,345.0 L30.0,360.0" fill="none" stroke="rgb(255,200,200)" stroke-width="8" stroke-linecap="round" stroke-linejoin="round" opacity="0.5" filter="url(#b4)"/><ellipse cx="210" cy="290" rx="28" ry="20" fill="rgb(200,200,255)" opacity="0.55" filter="url(#b5)"/><ellipse cx="60" cy="330" rx="60" ry="20" fill="rgb(235,235,255)" opacity="0.3" filter="url(#b6)"/></g></g><rect x="669.0" y="529.0" width="256.8" height="394.5" fill="none" stroke="#000" stroke-width="2"/><line x1="745.1" y1="524.0" x2="745.1" y2="529.0" stroke="#000" stroke-width="1.8"/><line x1="820.7" y1="524.0" x2="820.7" y2="529.0" stroke="#000" stroke-width="1.8"/><line x1="896.3" y1="524.0" x2="896.3" y2="529.0" stroke="#000" stroke-width="1.8"/><line x1="664.0" y1="605.2" x2="669.0" y2="605.2" stroke="#000" stroke-width="1.8"/><line x1="664.0" y1="680.9" x2="669.0" y2="680.9" stroke="#000" stroke-width="1.8"/><line x1="664.0" y1="756.6" x2="669.0" y2="756.6" stroke="#000" stroke-width="1.8"/><line x1="664.0" y1="832.3" x2="669.0" y2="832.3" stroke="#000" stroke-width="1.8"/><line x1="664.0" y1="908.0" x2="669.0" y2="908.0" stroke="#000" stroke-width="1.8"/><g clip-path="url(#c_br2)"><g transform="translate(940.2,530.2) scale(0.9980,1.0013)"><rect x="0" y="0" width="255" height="392" fill="rgb(150,235,255)" opacity="1"/><ellipse cx="45" cy="28" rx="40" ry="40" fill="rgb(192,198,255)" opacity="1" filter="url(#b10)"/><ellipse cx="250" cy="15" rx="18" ry="30" fill="rgb(192,198,255)" opacity="0.9" filter="url(#b8)"/><ellipse cx="8" cy="320" rx="22" ry="90" fill="rgb(192,198,255)" opacity="0.9" filter="url(#b10)"/><ellipse cx="205" cy="360" rx="70" ry="40" fill="rgb(192,198,255)" opacity="1" filter="url(#b10)"/><ellipse cx="250" cy="250" rx="10" ry="60" fill="rgb(170,215,255)" opacity="0.8" filter="url(#b6)"/><path d="M130.3,-3.6 Q132.0,-20.4 166.2,-20.4 Q200.3,-20.4 197.0,-6.4 Q193.6,7.6 186.9,21.6 Q180.2,35.6 179.0,46.8 Q177.9,58.0 184.6,54.6 Q191.4,51.3 200.9,56.9 Q210.4,62.5 221.6,54.6 Q232.8,46.8 240.1,52.4 Q247.4,58.0 251.8,74.8 Q256.3,91.6 259.1,111.2 Q261.9,130.8 255.8,139.2 Q249.6,147.6 239.5,156.0 Q229.4,164.4 226.1,172.8 Q222.7,181.2 229.4,192.4 Q236.2,203.6 242.9,226.0 Q249.6,248.4 254.1,265.2 Q258.6,282.0 259.7,302.2 Q260.8,322.3 249.6,320.6 Q238.4,319.0 227.2,317.3 Q216.0,315.6 202.0,319.0 Q188.0,322.3 179.6,325.1 Q171.2,327.9 168.4,316.2 Q165.6,304.4 162.8,282.0 Q160.0,259.6 148.8,251.8 Q137.6,243.9 126.4,238.9 Q115.2,233.8 104.0,233.8 Q92.8,233.8 84.4,226.0 Q76.0,218.2 71.0,208.1 Q65.9,198.0 64.8,184.0 Q63.7,170.0 64.8,153.2 Q65.9,136.4 69.3,119.6 Q72.6,102.8 74.3,89.4 Q76.0,75.9 84.4,72.6 Q92.8,69.2 104.0,68.1 Q115.2,67.0 119.7,56.9 Q124.2,46.8 126.4,30.0 Q128.6,13.2 130.3,-3.6Z" fill="rgb(128,255,255)" opacity="1" filter="url(#b10)"/><ellipse cx="70" cy="150" rx="40" ry="80" fill="rgb(128,255,255)" opacity="0.8" filter="url(#b10)"/><ellipse cx="100" cy="320" rx="55" ry="70" fill="rgb(128,255,255)" opacity="0.8" filter="url(#b10)"/><ellipse cx="58" cy="175" rx="28" ry="85" fill="rgb(128,255,200)" opacity="0.8" filter="url(#b10)"/><ellipse cx="205" cy="45" rx="25" ry="30" fill="rgb(128,255,180)" opacity="0.8" filter="url(#b8)"/><path d="M132.2,7.2 Q133.8,-8.5 165.8,-8.5 Q197.8,-8.5 194.7,4.6 Q191.5,17.8 185.2,30.9 Q178.9,44.0 177.9,54.5 Q176.8,65.0 183.1,61.8 Q189.4,58.7 198.3,63.9 Q207.2,69.2 217.8,61.8 Q228.2,54.5 235.1,59.8 Q241.9,65.0 246.1,80.8 Q250.3,96.5 252.9,114.9 Q255.6,133.2 249.8,141.1 Q244.0,149.0 234.6,156.9 Q225.1,164.8 222.0,172.6 Q218.8,180.5 225.1,191.0 Q231.4,201.5 237.7,222.5 Q244.0,243.5 248.2,259.2 Q252.4,275.0 253.4,293.9 Q254.5,312.8 244.0,311.2 Q233.5,309.6 223.0,308.1 Q212.5,306.5 199.4,309.6 Q186.2,312.8 178.4,315.4 Q170.5,318.1 167.9,307.0 Q165.2,296.0 162.6,275.0 Q160.0,254.0 149.5,246.7 Q139.0,239.3 128.5,234.6 Q118.0,229.8 107.5,229.8 Q97.0,229.8 89.1,222.5 Q81.2,215.2 76.5,205.7 Q71.8,196.2 70.8,183.1 Q69.7,170.0 70.8,154.2 Q71.8,138.5 74.9,122.8 Q78.1,107.0 79.7,94.4 Q81.2,81.8 89.1,78.7 Q97.0,75.5 107.5,74.4 Q118.0,73.4 122.2,63.9 Q126.4,54.5 128.5,38.8 Q130.6,23.0 132.2,7.2Z" fill="rgb(128,255,160)" opacity="1" filter="url(#b5)"/><ellipse cx="80" cy="170" rx="8" ry="40" fill="rgb(200,255,70)" opacity="0.7" filter="url(#b5)"/><path d="M133.5,15.0 Q135.0,0.0 165.5,0.0 Q196.0,0.0 193.0,12.5 Q190.0,25.0 184.0,37.5 Q178.0,50.0 177.0,60.0 Q176.0,70.0 182.0,67.0 Q188.0,64.0 196.5,69.0 Q205.0,74.0 215.0,67.0 Q225.0,60.0 231.5,65.0 Q238.0,70.0 242.0,85.0 Q246.0,100.0 248.5,117.5 Q251.0,135.0 245.5,142.5 Q240.0,150.0 231.0,157.5 Q222.0,165.0 219.0,172.5 Q216.0,180.0 222.0,190.0 Q228.0,200.0 234.0,220.0 Q240.0,240.0 244.0,255.0 Q248.0,270.0 249.0,288.0 Q250.0,306.0 240.0,304.5 Q230.0,303.0 220.0,301.5 Q210.0,300.0 197.5,303.0 Q185.0,306.0 177.5,308.5 Q170.0,311.0 167.5,300.5 Q165.0,290.0 162.5,270.0 Q160.0,250.0 150.0,243.0 Q140.0,236.0 130.0,231.5 Q120.0,227.0 110.0,227.0 Q100.0,227.0 92.5,220.0 Q85.0,213.0 80.5,204.0 Q76.0,195.0 75.0,182.5 Q74.0,170.0 75.0,155.0 Q76.0,140.0 79.0,125.0 Q82.0,110.0 83.5,98.0 Q85.0,86.0 92.5,83.0 Q100.0,80.0 110.0,79.0 Q120.0,78.0 124.0,69.0 Q128.0,60.0 130.0,45.0 Q132.0,30.0 133.5,15.0Z" fill="rgb(255,250,0)" opacity="1" filter="url(#b3)"/><path d="M137.9,37.4 Q139.2,24.5 165.4,24.5 Q191.7,24.5 189.1,35.2 Q186.5,46.0 181.3,56.8 Q176.2,67.5 175.3,76.1 Q174.5,84.7 179.6,82.1 Q184.8,79.5 192.1,83.8 Q199.4,88.1 208.0,82.1 Q216.6,76.1 222.2,80.4 Q227.8,84.7 231.2,97.6 Q234.7,110.5 236.8,125.5 Q239.0,140.6 234.2,147.1 Q229.5,153.5 221.8,159.9 Q214.0,166.4 211.4,172.9 Q208.9,179.3 214.0,187.9 Q219.2,196.5 224.3,213.7 Q229.5,230.9 232.9,243.8 Q236.4,256.7 237.2,272.2 Q238.1,287.7 229.5,286.4 Q220.9,285.1 212.3,283.8 Q203.7,282.5 192.9,285.1 Q182.2,287.7 175.8,289.8 Q169.3,292.0 167.2,282.9 Q165.0,273.9 162.8,256.7 Q160.7,239.5 152.1,233.5 Q143.5,227.5 134.9,223.6 Q126.3,219.7 117.7,219.7 Q109.1,219.7 102.7,213.7 Q96.2,207.7 92.3,199.9 Q88.5,192.2 87.6,181.4 Q86.7,170.7 87.6,157.8 Q88.5,144.9 91.0,132.0 Q93.6,119.1 94.9,108.8 Q96.2,98.5 102.7,95.9 Q109.1,93.3 117.7,92.4 Q126.3,91.6 129.7,83.8 Q133.2,76.1 134.9,63.2 Q136.6,50.3 137.9,37.4Z" fill="rgb(255,222,0)" opacity="1" filter="url(#b6)"/><path d="M157.5,45.0 Q150.0,10.0 167.5,7.5 Q185.0,5.0 181.5,27.5 Q178.0,50.0 171.5,65.0 Q165.0,80.0 157.5,45.0Z" fill="rgb(255,215,0)" opacity="0.9" filter="url(#b5)"/><path d="M97.5,122.5 Q100.0,95.0 130.0,91.5 Q160.0,88.0 180.0,94.0 Q200.0,100.0 202.5,125.0 Q205.0,150.0 197.5,175.0 Q190.0,200.0 180.0,216.0 Q170.0,232.0 150.0,227.0 Q130.0,222.0 117.5,211.0 Q105.0,200.0 100.0,175.0 Q95.0,150.0 97.5,122.5Z" fill="rgb(255,175,0)" opacity="0.9" filter="url(#b8)"/><path d="M140.0,140.0 Q158.0,175.0 166.5,190.0 L175.0,205.0" fill="none" stroke="rgb(255,100,0)" stroke-width="16" stroke-linecap="round" stroke-linejoin="round" opacity="0.8" filter="url(#b6)"/><ellipse cx="140" cy="135" rx="16" ry="48" fill="rgb(245,40,0)" opacity="0.9" filter="url(#b5)"/><ellipse cx="134" cy="118" rx="9" ry="28" fill="rgb(190,0,0)" opacity="0.9" filter="url(#b3)"/><ellipse cx="206" cy="132" rx="13" ry="5" fill="rgb(235,20,0)" opacity="0.9" filter="url(#b2_5)"/><ellipse cx="215" cy="110" rx="12" ry="25" fill="rgb(255,190,0)" opacity="0.7" filter="url(#b5)"/><path d="M177.0,237.5 Q182.0,195.0 198.0,188.5 Q214.0,182.0 221.0,193.5 Q228.0,205.0 235.0,232.5 Q242.0,260.0 244.0,280.0 Q246.0,300.0 230.0,299.0 Q214.0,298.0 197.0,300.5 Q180.0,303.0 176.0,291.5 Q172.0,280.0 177.0,237.5Z" fill="rgb(255,150,0)" opacity="0.9" filter="url(#b4)"/><path d="M185.0,205.0 L182.0,235.0" fill="none" stroke="rgb(240,60,0)" stroke-width="4" stroke-linecap="round" stroke-linejoin="round" opacity="0.7" filter="url(#b3)"/><ellipse cx="210" cy="265" rx="12" ry="10" fill="rgb(255,120,0)" opacity="0.6" filter="url(#b4)"/><path d="M3.0,87.5 Q4.0,70.0 13.0,65.0 Q22.0,60.0 28.5,67.5 Q35.0,75.0 36.5,92.5 Q38.0,110.0 35.0,127.5 Q32.0,145.0 25.0,148.5 Q18.0,152.0 11.5,146.0 Q5.0,140.0 3.5,122.5 Q2.0,105.0 3.0,87.5Z" fill="rgb(128,255,160)" opacity="1" filter="url(#b4)"/><path d="M5.5,92.5 Q6.0,80.0 13.0,77.5 Q20.0,75.0 26.0,81.5 Q32.0,88.0 33.5,99.0 Q35.0,110.0 32.0,124.0 Q29.0,138.0 23.5,141.5 Q18.0,145.0 13.0,140.0 Q8.0,135.0 6.5,120.0 Q5.0,105.0 5.5,92.5Z" fill="rgb(255,255,0)" opacity="1" filter="url(#b3)"/><ellipse cx="20" cy="108" rx="9" ry="20" fill="rgb(255,160,0)" opacity="0.9" filter="url(#b4)"/><path d="M41.0,310.0 Q40.0,280.0 50.0,275.0 Q60.0,270.0 70.0,285.0 Q80.0,300.0 79.0,330.0 Q78.0,360.0 74.0,375.0 Q70.0,390.0 60.0,390.0 Q50.0,390.0 46.0,365.0 Q42.0,340.0 41.0,310.0Z" fill="rgb(128,255,160)" opacity="0.8" filter="url(#b6)"/><path d="M99.0,292.5 Q100.0,265.0 117.5,262.5 Q135.0,260.0 140.0,280.0 Q145.0,300.0 142.5,330.0 Q140.0,360.0 130.0,375.0 Q120.0,390.0 111.0,380.0 Q102.0,370.0 100.0,345.0 Q98.0,320.0 99.0,292.5Z" fill="rgb(128,255,160)" opacity="0.9" filter="url(#b6)"/><ellipse cx="126" cy="296" rx="8" ry="14" fill="rgb(200,255,60)" opacity="0.9" filter="url(#b4)"/><ellipse cx="118" cy="345" rx="8" ry="16" fill="rgb(200,255,60)" opacity="0.8" filter="url(#b4)"/><ellipse cx="70" cy="370" rx="6" ry="15" fill="rgb(200,255,60)" opacity="0.6" filter="url(#b4)"/></g></g><rect x="939.2" y="529.2" width="256.5" height="394.5" fill="none" stroke="#000" stroke-width="2"/><line x1="1015.3" y1="524.2" x2="1015.3" y2="529.2" stroke="#000" stroke-width="1.8"/><line x1="1090.9" y1="524.2" x2="1090.9" y2="529.2" stroke="#000" stroke-width="1.8"/><line x1="1166.5" y1="524.2" x2="1166.5" y2="529.2" stroke="#000" stroke-width="1.8"/><line x1="934.2" y1="605.4" x2="939.2" y2="605.4" stroke="#000" stroke-width="1.8"/><line x1="934.2" y1="681.1" x2="939.2" y2="681.1" stroke="#000" stroke-width="1.8"/><line x1="934.2" y1="756.8" x2="939.2" y2="756.8" stroke="#000" stroke-width="1.8"/><line x1="934.2" y1="832.5" x2="939.2" y2="832.5" stroke="#000" stroke-width="1.8"/><line x1="934.2" y1="908.2" x2="939.2" y2="908.2" stroke="#000" stroke-width="1.8"/><g clip-path="url(#c_cr2)"><g transform="translate(1204.2,530.2) scale(0.9988,1.0013)"><rect x="0" y="0" width="255" height="392" fill="rgb(115,115,252)" opacity="1"/><path d="M150.0,20.0 Q140.0,0.0 201.0,0.0 Q262.0,0.0 262.0,80.0 Q262.0,160.0 238.5,162.5 Q215.0,165.0 207.5,142.5 Q200.0,120.0 192.5,90.0 Q185.0,60.0 172.5,50.0 Q160.0,40.0 150.0,20.0Z" fill="rgb(190,190,255)" opacity="0.95" filter="url(#b6)"/><ellipse cx="30" cy="380" rx="40" ry="40" fill="rgb(170,170,255)" opacity="0.7" filter="url(#b8)"/><ellipse cx="30" cy="300" rx="30" ry="60" fill="rgb(160,160,255)" opacity="0.7" filter="url(#b8)"/><ellipse cx="14" cy="80" rx="8" ry="35" fill="rgb(200,200,255)" opacity="0.7" filter="url(#b4)"/><ellipse cx="235" cy="190" rx="25" ry="25" fill="rgb(225,225,255)" opacity="0.9" filter="url(#b5)"/><path d="M35.0,18.5 Q33.0,0.0 86.0,0.0 Q139.0,0.0 149.5,24.0 Q160.0,48.0 175.0,58.0 Q190.0,68.0 195.0,82.0 Q200.0,96.0 201.0,115.5 Q202.0,135.0 199.0,152.5 Q196.0,170.0 185.5,176.0 Q175.0,182.0 165.0,186.0 Q155.0,190.0 143.5,198.0 Q132.0,206.0 128.0,214.0 Q124.0,222.0 119.5,228.0 Q115.0,234.0 95.5,231.0 Q76.0,228.0 62.0,223.0 Q48.0,218.0 37.0,206.5 Q26.0,195.0 20.5,183.5 Q15.0,172.0 20.0,150.0 Q25.0,128.0 27.0,112.0 Q29.0,96.0 33.0,86.0 Q37.0,76.0 37.0,56.5 Q37.0,37.0 35.0,18.5Z" fill="rgb(236,236,255)" opacity="1" filter="url(#b5)"/><path d="M39.5,24.0 Q37.6,6.6 87.4,6.6 Q137.3,6.6 147.1,29.2 Q157.0,51.7 171.1,61.1 Q185.2,70.5 189.9,83.7 Q194.6,96.8 195.5,115.2 Q196.5,133.5 193.7,149.9 Q190.8,166.4 181.0,172.0 Q171.1,177.7 161.7,181.4 Q152.3,185.2 141.5,192.7 Q130.7,200.2 126.9,207.8 Q123.2,215.3 118.9,220.9 Q114.7,226.6 96.4,223.7 Q78.0,220.9 64.9,216.2 Q51.7,211.5 41.4,200.7 Q31.0,189.9 25.9,179.1 Q20.7,168.3 25.4,147.6 Q30.1,126.9 32.0,111.9 Q33.9,96.8 37.6,87.4 Q41.4,78.0 41.4,59.7 Q41.4,41.4 39.5,24.0Z" fill="rgb(255,255,255)" opacity="1" filter="url(#b3)"/><path d="M12.0,165.0 Q25.0,195.0 35.0,207.5 Q45.0,220.0 53.5,226.0 L62.0,232.0" fill="none" stroke="rgb(240,240,255)" stroke-width="12" stroke-linecap="round" stroke-linejoin="round" opacity="0.9" filter="url(#b3)"/><ellipse cx="92" cy="245" rx="22" ry="20" fill="rgb(255,255,255)" opacity="0.95" filter="url(#b4)"/><ellipse cx="155" cy="240" rx="7" ry="15" fill="rgb(245,245,255)" opacity="0.9" filter="url(#b3)"/><path d="M164.0,247.0 Q163.0,190.0 196.5,190.0 Q230.0,190.0 243.5,202.5 Q257.0,215.0 257.0,257.5 Q257.0,300.0 211.0,302.0 Q165.0,304.0 164.0,247.0Z" fill="rgb(80,80,245)" opacity="0.9" filter="url(#b5)"/><ellipse cx="194" cy="214" rx="10" ry="22" fill="rgb(40,40,230)" opacity="0.8" filter="url(#b4)"/><path d="M149.0,352.5 Q150.0,305.0 175.0,298.5 Q200.0,292.0 231.0,291.0 Q262.0,290.0 262.0,345.0 Q262.0,400.0 205.0,400.0 Q148.0,400.0 149.0,352.5Z" fill="rgb(35,35,232)" opacity="0.95" filter="url(#b8)"/><ellipse cx="100" cy="320" rx="20" ry="30" fill="rgb(40,40,230)" opacity="0.9" filter="url(#b5)"/><ellipse cx="140" cy="300" rx="14" ry="40" fill="rgb(95,95,250)" opacity="0.7" filter="url(#b5)"/><ellipse cx="116.3" cy="320.7" rx="2.6" ry="14.6" fill="rgb(200,200,255)" opacity="0.35" transform="rotate(-9 116.3 320.7)" filter="url(#b2)"/><ellipse cx="206.6" cy="307.1" rx="1.7" ry="9.0" fill="rgb(140,140,255)" opacity="0.35" transform="rotate(-12 206.6 307.1)" filter="url(#b2)"/><ellipse cx="208.1" cy="342.3" rx="3.0" ry="10.0" fill="rgb(170,170,255)" opacity="0.35" transform="rotate(-1 208.1 342.3)" filter="url(#b2)"/><ellipse cx="189.9" cy="335.3" rx="3.6" ry="6.6" fill="rgb(170,170,255)" opacity="0.35" transform="rotate(-14 189.9 335.3)" filter="url(#b2)"/><ellipse cx="226.0" cy="327.1" rx="2.3" ry="11.9" fill="rgb(200,200,255)" opacity="0.35" transform="rotate(-9 226.0 327.1)" filter="url(#b2)"/><ellipse cx="60.0" cy="277.7" rx="3.2" ry="10.6" fill="rgb(170,170,255)" opacity="0.35" transform="rotate(-7 60.0 277.7)" filter="url(#b2)"/><ellipse cx="256.4" cy="391.3" rx="3.3" ry="9.2" fill="rgb(170,170,255)" opacity="0.35" transform="rotate(-8 256.4 391.3)" filter="url(#b2)"/><ellipse cx="74.3" cy="241.4" rx="2.5" ry="14.5" fill="rgb(170,170,255)" opacity="0.35" transform="rotate(-3 74.3 241.4)" filter="url(#b2)"/><ellipse cx="246.2" cy="367.3" rx="2.0" ry="15.3" fill="rgb(170,170,255)" opacity="0.35" transform="rotate(-13 246.2 367.3)" filter="url(#b2)"/><ellipse cx="96.5" cy="344.8" rx="1.7" ry="12.3" fill="rgb(200,200,255)" opacity="0.35" transform="rotate(8 96.5 344.8)" filter="url(#b2)"/><ellipse cx="69.3" cy="244.1" rx="1.5" ry="10.1" fill="rgb(90,90,250)" opacity="0.35" transform="rotate(13 69.3 244.1)" filter="url(#b2)"/><ellipse cx="34.6" cy="344.5" rx="1.6" ry="14.0" fill="rgb(170,170,255)" opacity="0.35" transform="rotate(-10 34.6 344.5)" filter="url(#b2)"/><ellipse cx="143.7" cy="302.5" rx="4.0" ry="13.7" fill="rgb(140,140,255)" opacity="0.35" transform="rotate(-2 143.7 302.5)" filter="url(#b2)"/><ellipse cx="98.6" cy="294.0" rx="1.5" ry="14.6" fill="rgb(140,140,255)" opacity="0.35" transform="rotate(14 98.6 294.0)" filter="url(#b2)"/><ellipse cx="152.3" cy="391.7" rx="2.0" ry="9.9" fill="rgb(170,170,255)" opacity="0.35" transform="rotate(11 152.3 391.7)" filter="url(#b2)"/><ellipse cx="165.0" cy="246.3" rx="2.0" ry="8.6" fill="rgb(140,140,255)" opacity="0.35" transform="rotate(8 165.0 246.3)" filter="url(#b2)"/><ellipse cx="84.5" cy="278.0" rx="1.7" ry="8.1" fill="rgb(170,170,255)" opacity="0.35" transform="rotate(4 84.5 278.0)" filter="url(#b2)"/><ellipse cx="4.0" cy="289.7" rx="1.8" ry="11.9" fill="rgb(200,200,255)" opacity="0.35" transform="rotate(10 4.0 289.7)" filter="url(#b2)"/><ellipse cx="34.9" cy="292.5" rx="2.3" ry="8.3" fill="rgb(140,140,255)" opacity="0.35" transform="rotate(3 34.9 292.5)" filter="url(#b2)"/><ellipse cx="186.4" cy="255.7" rx="3.2" ry="9.9" fill="rgb(140,140,255)" opacity="0.35" transform="rotate(-1 186.4 255.7)" filter="url(#b2)"/><ellipse cx="20.2" cy="237.7" rx="1.6" ry="15.6" fill="rgb(170,170,255)" opacity="0.35" transform="rotate(-8 20.2 237.7)" filter="url(#b2)"/><ellipse cx="181.1" cy="271.6" rx="2.2" ry="7.8" fill="rgb(200,200,255)" opacity="0.35" transform="rotate(7 181.1 271.6)" filter="url(#b2)"/><ellipse cx="17.7" cy="267.0" rx="2.2" ry="15.2" fill="rgb(170,170,255)" opacity="0.35" transform="rotate(-9 17.7 267.0)" filter="url(#b2)"/><ellipse cx="4.3" cy="273.6" rx="2.1" ry="6.5" fill="rgb(200,200,255)" opacity="0.35" transform="rotate(-7 4.3 273.6)" filter="url(#b2)"/><ellipse cx="136.5" cy="387.6" rx="2.4" ry="14.9" fill="rgb(170,170,255)" opacity="0.35" transform="rotate(14 136.5 387.6)" filter="url(#b2)"/><ellipse cx="168.8" cy="342.0" rx="3.0" ry="15.2" fill="rgb(140,140,255)" opacity="0.35" transform="rotate(-1 168.8 342.0)" filter="url(#b2)"/><ellipse cx="91.9" cy="280.5" rx="1.6" ry="12.4" fill="rgb(170,170,255)" opacity="0.35" transform="rotate(-1 91.9 280.5)" filter="url(#b2)"/><ellipse cx="187.7" cy="281.7" rx="1.7" ry="11.5" fill="rgb(170,170,255)" opacity="0.35" transform="rotate(7 187.7 281.7)" filter="url(#b2)"/><ellipse cx="231.4" cy="349.4" rx="3.5" ry="15.2" fill="rgb(140,140,255)" opacity="0.35" transform="rotate(-4 231.4 349.4)" filter="url(#b2)"/><ellipse cx="176.1" cy="375.9" rx="3.9" ry="6.3" fill="rgb(200,200,255)" opacity="0.35" filter="url(#b2)"/><ellipse cx="3.7" cy="337.3" rx="3.0" ry="12.1" fill="rgb(200,200,255)" opacity="0.35" transform="rotate(-13 3.7 337.3)" filter="url(#b2)"/><ellipse cx="164.3" cy="390.9" rx="3.3" ry="9.9" fill="rgb(200,200,255)" opacity="0.35" transform="rotate(7 164.3 390.9)" filter="url(#b2)"/><ellipse cx="149.3" cy="301.4" rx="2.8" ry="11.1" fill="rgb(170,170,255)" opacity="0.35" transform="rotate(-6 149.3 301.4)" filter="url(#b2)"/><ellipse cx="22.5" cy="233.6" rx="2.7" ry="12.1" fill="rgb(170,170,255)" opacity="0.35" transform="rotate(13 22.5 233.6)" filter="url(#b2)"/><ellipse cx="65.7" cy="231.8" rx="1.9" ry="12.1" fill="rgb(90,90,250)" opacity="0.35" transform="rotate(1 65.7 231.8)" filter="url(#b2)"/><ellipse cx="193.7" cy="285.5" rx="2.7" ry="8.4" fill="rgb(200,200,255)" opacity="0.35" transform="rotate(-3 193.7 285.5)" filter="url(#b2)"/><ellipse cx="64.4" cy="332.7" rx="3.7" ry="9.8" fill="rgb(140,140,255)" opacity="0.35" transform="rotate(2 64.4 332.7)" filter="url(#b2)"/><ellipse cx="81.3" cy="252.1" rx="2.4" ry="15.0" fill="rgb(200,200,255)" opacity="0.35" transform="rotate(-14 81.3 252.1)" filter="url(#b2)"/><ellipse cx="16.5" cy="388.8" rx="1.8" ry="10.7" fill="rgb(140,140,255)" opacity="0.35" transform="rotate(13 16.5 388.8)" filter="url(#b2)"/><ellipse cx="213.5" cy="292.0" rx="3.2" ry="13.2" fill="rgb(200,200,255)" opacity="0.35" transform="rotate(10 213.5 292.0)" filter="url(#b2)"/><ellipse cx="235.6" cy="51.3" rx="4.4" ry="6.0" fill="rgb(230,230,255)" opacity="0.7" filter="url(#b2)"/><ellipse cx="238.7" cy="45.0" rx="4.5" ry="7.0" fill="rgb(140,140,250)" opacity="0.7" filter="url(#b2)"/><ellipse cx="201.1" cy="21.7" rx="3.9" ry="6.8" fill="rgb(210,210,255)" opacity="0.7" filter="url(#b2)"/><ellipse cx="215.2" cy="124.7" rx="7.9" ry="3.6" fill="rgb(230,230,255)" opacity="0.7" filter="url(#b2)"/><ellipse cx="206.2" cy="85.7" rx="7.8" ry="6.4" fill="rgb(140,140,250)" opacity="0.7" filter="url(#b2)"/><ellipse cx="211.4" cy="76.0" rx="6.6" ry="6.8" fill="rgb(160,160,255)" opacity="0.7" filter="url(#b2)"/><ellipse cx="230.5" cy="5.8" rx="4.4" ry="4.7" fill="rgb(160,160,255)" opacity="0.7" filter="url(#b2)"/><ellipse cx="239.7" cy="83.3" rx="5.0" ry="7.0" fill="rgb(160,160,255)" opacity="0.7" filter="url(#b2)"/><ellipse cx="251.7" cy="14.0" rx="3.6" ry="5.3" fill="rgb(210,210,255)" opacity="0.7" filter="url(#b2)"/><ellipse cx="235.7" cy="145.6" rx="5.8" ry="6.3" fill="rgb(210,210,255)" opacity="0.7" filter="url(#b2)"/><ellipse cx="228.7" cy="131.1" rx="5.3" ry="6.3" fill="rgb(140,140,250)" opacity="0.7" filter="url(#b2)"/><ellipse cx="211.7" cy="115.5" rx="4.1" ry="7.5" fill="rgb(230,230,255)" opacity="0.7" filter="url(#b2)"/><ellipse cx="255.9" cy="156.4" rx="4.3" ry="6.6" fill="rgb(140,140,250)" opacity="0.7" filter="url(#b2)"/><ellipse cx="200.9" cy="80.8" rx="5.2" ry="5.8" fill="rgb(230,230,255)" opacity="0.7" filter="url(#b2)"/><ellipse cx="243.8" cy="78.0" rx="4.1" ry="7.3" fill="rgb(230,230,255)" opacity="0.7" filter="url(#b2)"/><ellipse cx="224.4" cy="5.6" rx="6.4" ry="7.6" fill="rgb(140,140,250)" opacity="0.7" filter="url(#b2)"/><ellipse cx="226.8" cy="160.0" rx="7.7" ry="5.5" fill="rgb(210,210,255)" opacity="0.7" filter="url(#b2)"/><ellipse cx="254.1" cy="13.8" rx="5.2" ry="5.8" fill="rgb(160,160,255)" opacity="0.7" filter="url(#b2)"/><ellipse cx="247.4" cy="89.8" rx="5.6" ry="7.2" fill="rgb(160,160,255)" opacity="0.7" filter="url(#b2)"/><ellipse cx="231.9" cy="49.9" rx="7.8" ry="7.4" fill="rgb(210,210,255)" opacity="0.7" filter="url(#b2)"/><ellipse cx="234.7" cy="48.7" rx="7.8" ry="5.6" fill="rgb(160,160,255)" opacity="0.7" filter="url(#b2)"/><ellipse cx="232.7" cy="32.2" rx="5.5" ry="6.0" fill="rgb(230,230,255)" opacity="0.7" filter="url(#b2)"/><ellipse cx="201.6" cy="155.1" rx="5.7" ry="7.9" fill="rgb(210,210,255)" opacity="0.7" filter="url(#b2)"/><ellipse cx="207.0" cy="14.9" rx="3.3" ry="5.7" fill="rgb(160,160,255)" opacity="0.7" filter="url(#b2)"/><ellipse cx="223.6" cy="153.1" rx="4.3" ry="5.4" fill="rgb(210,210,255)" opacity="0.7" filter="url(#b2)"/><ellipse cx="207.2" cy="69.4" rx="5.6" ry="3.5" fill="rgb(210,210,255)" opacity="0.7" filter="url(#b2)"/><ellipse cx="223.9" cy="4.7" rx="3.6" ry="6.9" fill="rgb(140,140,250)" opacity="0.7" filter="url(#b2)"/><ellipse cx="201.3" cy="31.1" rx="3.1" ry="4.4" fill="rgb(160,160,255)" opacity="0.7" filter="url(#b2)"/><ellipse cx="241.2" cy="39.1" rx="3.5" ry="6.7" fill="rgb(210,210,255)" opacity="0.7" filter="url(#b2)"/><ellipse cx="207.0" cy="81.7" rx="6.6" ry="6.5" fill="rgb(140,140,250)" opacity="0.7" filter="url(#b2)"/><ellipse cx="200" cy="8" rx="10" ry="6" fill="rgb(255,140,140)" opacity="0.9" filter="url(#b1_5)"/><ellipse cx="236" cy="92" rx="4" ry="10" fill="rgb(255,140,140)" opacity="0.9" filter="url(#b1_5)"/><ellipse cx="62" cy="338" rx="5" ry="6" fill="rgb(255,140,140)" opacity="0.9" filter="url(#b1_5)"/><ellipse cx="96" cy="366" rx="7" ry="8" fill="rgb(255,140,140)" opacity="0.9" filter="url(#b1_5)"/><ellipse cx="215" cy="22" rx="5" ry="4" fill="rgb(255,140,140)" opacity="0.9" filter="url(#b1_5)"/><ellipse cx="240" cy="40" rx="4" ry="6" fill="rgb(255,140,140)" opacity="0.9" filter="url(#b1_5)"/><ellipse cx="82" cy="300" rx="3" ry="4" fill="rgb(255,140,140)" opacity="0.9" filter="url(#b1_5)"/><ellipse cx="30" cy="280" rx="3" ry="3" fill="rgb(255,140,140)" opacity="0.9" filter="url(#b1_5)"/><ellipse cx="185" cy="12" rx="5" ry="4" fill="rgb(255,140,140)" opacity="0.9" filter="url(#b1_5)"/></g></g><rect x="1203.2" y="529.2" width="256.7" height="394.5" fill="none" stroke="#000" stroke-width="2"/><line x1="1279.3" y1="524.2" x2="1279.3" y2="529.2" stroke="#000" stroke-width="1.8"/><line x1="1354.9" y1="524.2" x2="1354.9" y2="529.2" stroke="#000" stroke-width="1.8"/><line x1="1430.5" y1="524.2" x2="1430.5" y2="529.2" stroke="#000" stroke-width="1.8"/><line x1="1198.2" y1="605.4" x2="1203.2" y2="605.4" stroke="#000" stroke-width="1.8"/><line x1="1198.2" y1="681.1" x2="1203.2" y2="681.1" stroke="#000" stroke-width="1.8"/><line x1="1198.2" y1="756.8" x2="1203.2" y2="756.8" stroke="#000" stroke-width="1.8"/><line x1="1198.2" y1="832.5" x2="1203.2" y2="832.5" stroke="#000" stroke-width="1.8"/><line x1="1198.2" y1="908.2" x2="1203.2" y2="908.2" stroke="#000" stroke-width="1.8"/><g clip-path="url(#c_dr2)"><g transform="translate(1471.2,530.2) scale(0.9980,1.0013)"><rect x="0" y="0" width="255" height="392" fill="rgb(255,195,0)" opacity="1"/><rect x="-5" y="0" width="42" height="300" fill="rgb(255,205,0)" opacity="1" filter="url(#b3)"/><ellipse cx="20" cy="150" rx="14" ry="40" fill="rgb(255,160,0)" opacity="0.85" filter="url(#b4)"/><ellipse cx="8" cy="105" rx="8" ry="25" fill="rgb(140,240,240)" opacity="0.85" filter="url(#b3)"/><ellipse cx="6" cy="250" rx="8" ry="35" fill="rgb(230,255,40)" opacity="0.8" filter="url(#b4)"/><ellipse cx="58" cy="30" rx="28" ry="32" fill="rgb(255,160,0)" opacity="0.95" filter="url(#b4)"/><ellipse cx="30" cy="70" rx="15" ry="25" fill="rgb(255,140,0)" opacity="0.7" filter="url(#b4)"/><path d="M147.5,10.0 Q145.0,0.0 202.5,0.0 Q260.0,0.0 260.0,30.0 Q260.0,60.0 250.0,65.0 Q240.0,70.0 227.5,60.0 Q215.0,50.0 202.5,47.5 Q190.0,45.0 177.5,42.5 Q165.0,40.0 157.5,30.0 Q150.0,20.0 147.5,10.0Z" fill="rgb(128,255,160)" opacity="1" filter="url(#b4)"/><ellipse cx="190" cy="12" rx="28" ry="10" fill="rgb(128,255,255)" opacity="0.8" filter="url(#b4)"/><ellipse cx="240" cy="25" rx="12" ry="18" fill="rgb(170,215,255)" opacity="0.8" filter="url(#b3)"/><ellipse cx="215" cy="45" rx="15" ry="10" fill="rgb(255,255,0)" opacity="0.8" filter="url(#b3)"/><ellipse cx="160" cy="40" rx="8" ry="12" fill="rgb(255,255,0)" opacity="0.8" filter="url(#b3)"/><ellipse cx="205" cy="115" rx="30" ry="70" fill="rgb(255,165,0)" opacity="0.95" filter="url(#b6)"/><ellipse cx="232" cy="120" rx="10" ry="30" fill="rgb(255,215,0)" opacity="0.9" filter="url(#b4)"/><ellipse cx="246" cy="100" rx="8" ry="35" fill="rgb(140,240,230)" opacity="0.85" filter="url(#b3)"/><ellipse cx="225" cy="80" rx="10" ry="15" fill="rgb(255,120,0)" opacity="0.8" filter="url(#b3)"/><path d="M85.0,30.0 Q85.0,0.0 115.0,0.0 Q145.0,0.0 146.5,15.0 Q148.0,30.0 156.5,42.5 Q165.0,55.0 175.0,62.5 Q185.0,70.0 190.0,95.0 Q195.0,120.0 197.5,142.5 Q200.0,165.0 192.5,172.5 Q185.0,180.0 172.5,185.0 Q160.0,190.0 150.0,195.0 Q140.0,200.0 125.0,197.5 Q110.0,195.0 100.0,192.5 Q90.0,190.0 77.5,192.5 Q65.0,195.0 57.5,182.5 Q50.0,170.0 45.0,150.0 Q40.0,130.0 42.5,112.5 Q45.0,95.0 55.0,85.0 Q65.0,75.0 75.0,67.5 Q85.0,60.0 85.0,30.0Z" fill="rgb(228,0,0)" opacity="1" filter="url(#b3)"/><path d="M77.5,100.0 Q80.0,70.0 115.0,62.5 Q150.0,55.0 165.0,72.5 Q180.0,90.0 185.0,125.0 Q190.0,160.0 175.0,171.0 Q160.0,182.0 140.0,184.5 Q120.0,187.0 107.5,179.5 Q95.0,172.0 85.0,151.0 Q75.0,130.0 77.5,100.0Z" fill="rgb(165,0,0)" opacity="0.95" filter="url(#b5)"/><ellipse cx="122" cy="120" rx="28" ry="35" fill="rgb(145,0,0)" opacity="0.9" filter="url(#b6)"/><ellipse cx="135" cy="190" rx="22" ry="12" fill="rgb(255,60,0)" opacity="0.8" filter="url(#b4)"/><path d="M202.5,170.0 Q200.0,150.0 220.0,149.0 Q240.0,148.0 248.5,154.0 Q257.0,160.0 257.0,187.5 Q257.0,215.0 246.0,215.0 Q235.0,215.0 220.0,202.5 Q205.0,190.0 202.5,170.0Z" fill="rgb(230,20,0)" opacity="0.95" filter="url(#b3)"/><ellipse cx="85" cy="235" rx="35" ry="28" fill="rgb(255,150,0)" opacity="0.9" filter="url(#b6)"/><ellipse cx="160" cy="230" rx="40" ry="35" fill="rgb(255,215,0)" opacity="0.9" filter="url(#b7)"/><ellipse cx="88" cy="212" rx="10" ry="15" fill="rgb(150,240,230)" opacity="0.85" filter="url(#b3)"/><path d="M-5.0,285.0 L40.0,275.0 L70.0,290.0 L85.0,330.0 L100.0,360.0 L120.0,395.0 L-5.0,395.0Z" fill="rgb(150,235,255)" opacity="1" filter="url(#b4)"/><ellipse cx="35" cy="340" rx="18" ry="28" fill="rgb(195,200,255)" opacity="0.85" filter="url(#b4)"/><ellipse cx="70" cy="370" rx="15" ry="20" fill="rgb(192,198,255)" opacity="0.8" filter="url(#b4)"/><ellipse cx="15" cy="300" rx="10" ry="20" fill="rgb(128,255,160)" opacity="0.8" filter="url(#b4)"/><ellipse cx="50" cy="310" rx="10" ry="12" fill="rgb(150,255,200)" opacity="0.7" filter="url(#b4)"/><path d="M73.5,290.0 Q72.0,270.0 101.0,267.5 Q130.0,265.0 132.5,282.5 Q135.0,300.0 127.5,315.0 Q120.0,330.0 107.5,332.5 Q95.0,335.0 85.0,322.5 Q75.0,310.0 73.5,290.0Z" fill="rgb(255,255,0)" opacity="1" filter="url(#b4)"/><ellipse cx="100" cy="320" rx="22" ry="14" fill="rgb(190,255,70)" opacity="0.9" filter="url(#b4)"/><ellipse cx="128" cy="300" rx="8" ry="30" fill="rgb(195,200,255)" opacity="0.9" filter="url(#b3)"/><path d="M180.0,210.0 L215.0,200.0 L257.0,210.0 L257.0,395.0 L175.0,395.0 L170.0,300.0Z" fill="rgb(192,198,255)" opacity="1" filter="url(#b4)"/><ellipse cx="192" cy="245" rx="5" ry="40" fill="rgb(128,255,255)" opacity="0.85" transform="rotate(10 192 245)" filter="url(#b3)"/><path d="M159.0,329.0 Q160.0,308.0 180.0,304.0 Q200.0,300.0 217.5,307.5 Q235.0,315.0 242.5,332.5 Q250.0,350.0 250.0,372.5 Q250.0,395.0 207.5,395.0 Q165.0,395.0 161.5,372.5 Q158.0,350.0 159.0,329.0Z" fill="rgb(215,255,40)" opacity="1" filter="url(#b4)"/><ellipse cx="200" cy="318" rx="25" ry="12" fill="rgb(255,255,0)" opacity="0.95" filter="url(#b4)"/><ellipse cx="225" cy="375" rx="28" ry="18" fill="rgb(128,255,160)" opacity="0.9" filter="url(#b5)"/><ellipse cx="140" cy="370" rx="10" ry="25" fill="rgb(150,235,255)" opacity="0.8" filter="url(#b3)"/><ellipse cx="75" cy="290" rx="20" ry="20" fill="rgb(128,255,255)" opacity="0.5" filter="url(#b4)"/></g></g><rect x="1470.2" y="529.2" width="256.5" height="394.5" fill="none" stroke="#000" stroke-width="2"/><line x1="1546.3" y1="524.2" x2="1546.3" y2="529.2" stroke="#000" stroke-width="1.8"/><line x1="1621.9" y1="524.2" x2="1621.9" y2="529.2" stroke="#000" stroke-width="1.8"/><line x1="1697.5" y1="524.2" x2="1697.5" y2="529.2" stroke="#000" stroke-width="1.8"/><line x1="1465.2" y1="605.4" x2="1470.2" y2="605.4" stroke="#000" stroke-width="1.8"/><line x1="1465.2" y1="681.1" x2="1470.2" y2="681.1" stroke="#000" stroke-width="1.8"/><line x1="1465.2" y1="756.8" x2="1470.2" y2="756.8" stroke="#000" stroke-width="1.8"/><line x1="1465.2" y1="832.5" x2="1470.2" y2="832.5" stroke="#000" stroke-width="1.8"/><line x1="1465.2" y1="908.2" x2="1470.2" y2="908.2" stroke="#000" stroke-width="1.8"/><g clip-path="url(#c_er2)"><g transform="translate(1738.2,530.2) scale(0.9992,1.0013)"><rect x="0" y="0" width="255" height="392" fill="rgb(255,245,245)" opacity="1"/><ellipse cx="9.7" cy="34.7" rx="3.3" ry="7.4" fill="rgb(255,215,215)" opacity="0.9" transform="rotate(-27 9.7 34.7)" filter="url(#b1_5)"/><ellipse cx="15.2" cy="8.6" rx="4.7" ry="6.6" fill="rgb(240,240,255)" opacity="0.9" transform="rotate(-26 15.2 8.6)" filter="url(#b1_5)"/><ellipse cx="17.0" cy="217.9" rx="5.3" ry="10.0" fill="rgb(255,215,215)" opacity="0.9" transform="rotate(-27 17.0 217.9)" filter="url(#b1_5)"/><ellipse cx="25.8" cy="66.6" rx="5.2" ry="8.8" fill="rgb(225,225,255)" opacity="0.9" transform="rotate(11 25.8 66.6)" filter="url(#b1_5)"/><ellipse cx="3.1" cy="131.4" rx="4.5" ry="5.6" fill="rgb(225,225,255)" opacity="0.9" transform="rotate(-26 3.1 131.4)" filter="url(#b1_5)"/><ellipse cx="6.2" cy="156.5" rx="6.1" ry="10.3" fill="rgb(240,240,255)" opacity="0.9" transform="rotate(-8 6.2 156.5)" filter="url(#b1_5)"/><ellipse cx="7.5" cy="41.3" rx="3.3" ry="6.7" fill="rgb(225,225,255)" opacity="0.9" transform="rotate(-9 7.5 41.3)" filter="url(#b1_5)"/><ellipse cx="13.5" cy="140.1" rx="3.5" ry="8.9" fill="rgb(255,215,215)" opacity="0.9" transform="rotate(-21 13.5 140.1)" filter="url(#b1_5)"/><ellipse cx="14.7" cy="9.0" rx="6.1" ry="10.9" fill="rgb(255,215,215)" opacity="0.9" transform="rotate(-11 14.7 9.0)" filter="url(#b1_5)"/><ellipse cx="20.9" cy="136.7" rx="3.3" ry="4.5" fill="rgb(240,240,255)" opacity="0.9" transform="rotate(12 20.9 136.7)" filter="url(#b1_5)"/><ellipse cx="1.9" cy="168.2" rx="5.6" ry="13.8" fill="rgb(255,200,200)" opacity="0.9" transform="rotate(-13 1.9 168.2)" filter="url(#b1_5)"/><ellipse cx="11.6" cy="153.8" rx="6.8" ry="7.7" fill="rgb(255,215,215)" opacity="0.9" filter="url(#b1_5)"/><ellipse cx="6.5" cy="66.1" rx="4.6" ry="10.6" fill="rgb(225,225,255)" opacity="0.9" transform="rotate(-20 6.5 66.1)" filter="url(#b1_5)"/><ellipse cx="12.0" cy="63.9" rx="6.3" ry="8.6" fill="rgb(225,225,255)" opacity="0.9" transform="rotate(-5 12.0 63.9)" filter="url(#b1_5)"/><ellipse cx="10.8" cy="203.4" rx="3.6" ry="4.7" fill="rgb(225,225,255)" opacity="0.9" transform="rotate(-16 10.8 203.4)" filter="url(#b1_5)"/><ellipse cx="14.5" cy="135.5" rx="4.1" ry="5.9" fill="rgb(255,200,200)" opacity="0.9" transform="rotate(7 14.5 135.5)" filter="url(#b1_5)"/><ellipse cx="9.6" cy="28.9" rx="4.8" ry="13.9" fill="rgb(255,215,215)" opacity="0.9" transform="rotate(11 9.6 28.9)" filter="url(#b1_5)"/><ellipse cx="16.8" cy="91.6" rx="3.4" ry="6.0" fill="rgb(240,240,255)" opacity="0.9" transform="rotate(-26 16.8 91.6)" filter="url(#b1_5)"/><ellipse cx="6.3" cy="37.3" rx="5.4" ry="5.7" fill="rgb(255,200,200)" opacity="0.9" transform="rotate(2 6.3 37.3)" filter="url(#b1_5)"/><ellipse cx="28.5" cy="141.2" rx="6.5" ry="6.4" fill="rgb(255,215,215)" opacity="0.9" transform="rotate(-15 28.5 141.2)" filter="url(#b1_5)"/><ellipse cx="10.4" cy="83.8" rx="3.5" ry="10.8" fill="rgb(255,215,215)" opacity="0.9" transform="rotate(-1 10.4 83.8)" filter="url(#b1_5)"/><ellipse cx="9.4" cy="33.1" rx="6.0" ry="9.0" fill="rgb(255,200,200)" opacity="0.9" transform="rotate(1 9.4 33.1)" filter="url(#b1_5)"/><ellipse cx="6.2" cy="219.0" rx="3.6" ry="5.3" fill="rgb(255,200,200)" opacity="0.9" transform="rotate(2 6.2 219.0)" filter="url(#b1_5)"/><ellipse cx="29.4" cy="198.6" rx="5.1" ry="9.5" fill="rgb(255,200,200)" opacity="0.9" transform="rotate(-17 29.4 198.6)" filter="url(#b1_5)"/><ellipse cx="16.2" cy="115.6" rx="5.5" ry="11.8" fill="rgb(225,225,255)" opacity="0.9" transform="rotate(-18 16.2 115.6)" filter="url(#b1_5)"/><path d="M18.0,55.0 Q21.0,75.0 23.5,85.0 L26.0,95.0" fill="none" stroke="rgb(0,0,180)" stroke-width="5" stroke-linecap="round" stroke-linejoin="round" opacity="0.9" filter="url(#b1_2)"/><path d="M42.0,58.0 Q46.0,78.0 48.0,86.0 L50.0,94.0" fill="none" stroke="rgb(30,30,220)" stroke-width="4" stroke-linecap="round" stroke-linejoin="round" opacity="0.85" filter="url(#b1_2)"/><ellipse cx="6" cy="30" rx="4" ry="10" fill="rgb(60,60,240)" opacity="0.7" filter="url(#b1_5)"/><ellipse cx="60" cy="3" rx="30" ry="5" fill="rgb(210,210,255)" opacity="0.8" filter="url(#b2)"/><path d="M29.5,25.0 Q29.0,0.0 84.0,0.0 Q139.0,0.0 149.5,15.0 Q160.0,30.0 175.0,50.0 Q190.0,70.0 196.0,85.0 Q202.0,100.0 201.0,120.0 Q200.0,140.0 195.0,155.0 Q190.0,170.0 175.0,181.0 Q160.0,192.0 140.0,198.5 Q120.0,205.0 95.0,205.0 Q70.0,205.0 57.5,195.0 Q45.0,185.0 38.5,167.5 Q32.0,150.0 30.0,125.0 Q28.0,100.0 29.0,75.0 Q30.0,50.0 29.5,25.0Z" fill="rgb(255,255,255)" opacity="1" filter="url(#b3)"/><path d="M2.0,182.5 Q2.0,150.0 16.0,147.5 Q30.0,145.0 40.0,155.0 Q50.0,165.0 52.5,185.0 Q55.0,205.0 51.5,218.5 Q48.0,232.0 34.0,234.0 Q20.0,236.0 11.0,225.5 Q2.0,215.0 2.0,182.5Z" fill="rgb(185,185,255)" opacity="0.9" filter="url(#b3)"/><ellipse cx="22" cy="200" rx="14" ry="16" fill="rgb(150,150,250)" opacity="0.8" filter="url(#b3)"/><path d="M17.5,202.5 Q20.0,190.0 40.0,202.5 Q60.0,215.0 62.5,222.5 Q65.0,230.0 52.5,230.0 Q40.0,230.0 27.5,222.5 Q15.0,215.0 17.5,202.5Z" fill="rgb(200,200,255)" opacity="0.7" filter="url(#b2)"/><path d="M143.0,2.0 Q146.0,15.0 148.0,23.5 L150.0,32.0" fill="none" stroke="rgb(0,0,190)" stroke-width="6" stroke-linecap="round" stroke-linejoin="round" opacity="0.9" filter="url(#b1_2)"/><path d="M158.0,5.0 L160.0,25.0" fill="none" stroke="rgb(40,40,230)" stroke-width="4" stroke-linecap="round" stroke-linejoin="round" opacity="0.8" filter="url(#b1_2)"/><path d="M175.0,15.0 Q170.0,0.0 213.5,0.0 Q257.0,0.0 257.0,67.5 Q257.0,135.0 248.5,127.5 Q240.0,120.0 227.5,110.0 Q215.0,100.0 207.5,80.0 Q200.0,60.0 190.0,45.0 Q180.0,30.0 175.0,15.0Z" fill="rgb(255,215,215)" opacity="0.9" filter="url(#b3)"/><path d="M202.5,15.0 Q195.0,0.0 226.0,0.0 Q257.0,0.0 257.0,22.5 Q257.0,45.0 246.0,42.5 Q235.0,40.0 222.5,35.0 Q210.0,30.0 202.5,15.0Z" fill="rgb(235,50,50)" opacity="0.85" filter="url(#b2_5)"/><ellipse cx="248" cy="60" rx="8" ry="25" fill="rgb(220,30,30)" opacity="0.85" filter="url(#b2)"/><path d="M200.0,55.0 Q212.0,62.0 217.0,68.5 Q222.0,75.0 223.5,85.0 Q225.0,95.0 223.5,105.0 L222.0,115.0" fill="none" stroke="rgb(30,30,225)" stroke-width="7" stroke-linecap="round" stroke-linejoin="round" opacity="0.9" filter="url(#b1_5)"/><path d="M205.0,105.0 Q215.0,120.0 220.0,127.5 L225.0,135.0" fill="none" stroke="rgb(20,20,200)" stroke-width="5" stroke-linecap="round" stroke-linejoin="round" opacity="0.85" filter="url(#b1_5)"/><path d="M230.0,127.5 Q225.0,105.0 241.0,102.5 Q257.0,100.0 257.0,125.0 Q257.0,150.0 246.0,150.0 Q235.0,150.0 230.0,127.5Z" fill="rgb(230,60,60)" opacity="0.8" filter="url(#b2_5)"/><path d="M210.0,159.0 Q212.0,148.0 228.5,144.0 Q245.0,140.0 251.0,145.0 Q257.0,150.0 257.0,191.0 Q257.0,232.0 247.5,228.5 Q238.0,225.0 228.0,212.5 Q218.0,200.0 213.0,185.0 Q208.0,170.0 210.0,159.0Z" fill="rgb(80,80,245)" opacity="0.95" filter="url(#b2_5)"/><ellipse cx="238" cy="168" rx="8" ry="12" fill="rgb(0,0,170)" opacity="0.9" filter="url(#b1_5)"/><path d="M178.0,150.0 Q190.0,168.0 195.0,179.0 L200.0,190.0" fill="none" stroke="rgb(40,40,230)" stroke-width="6" stroke-linecap="round" stroke-linejoin="round" opacity="0.85" filter="url(#b1_5)"/><ellipse cx="205" cy="160" rx="8" ry="6" fill="rgb(120,120,255)" opacity="0.8" filter="url(#b2)"/><path d="M228.0,205.0 Q244.0,222.0 250.0,227.0 L256.0,232.0" fill="none" stroke="rgb(0,0,150)" stroke-width="5" stroke-linecap="round" stroke-linejoin="round" opacity="0.9" filter="url(#b1_2)"/><ellipse cx="220" cy="212" rx="6" ry="8" fill="rgb(170,0,0)" opacity="0.85" filter="url(#b1_5)"/><path d="M150.0,207.5 Q150.0,185.0 175.0,180.0 Q200.0,175.0 202.5,202.5 Q205.0,230.0 200.0,250.0 Q195.0,270.0 177.5,270.0 Q160.0,270.0 155.0,250.0 Q150.0,230.0 150.0,207.5Z" fill="rgb(255,225,225)" opacity="0.9" filter="url(#b3)"/><path d="M5.0,172.0 Q30.0,176.0 41.5,178.0 L53.0,180.0" fill="none" stroke="rgb(190,190,255)" stroke-width="8" stroke-linecap="round" stroke-linejoin="round" opacity="0.8" filter="url(#b2)"/><path d="M20.0,190.0 Q40.0,205.0 51.0,213.5 L62.0,222.0" fill="none" stroke="rgb(180,180,255)" stroke-width="9" stroke-linecap="round" stroke-linejoin="round" opacity="0.8" filter="url(#b2)"/><path d="M67.5,212.5 Q69.0,195.0 84.5,192.5 Q100.0,190.0 111.0,195.0 Q122.0,200.0 122.0,216.0 Q122.0,232.0 116.0,246.0 Q110.0,260.0 111.5,280.0 Q113.0,300.0 101.5,302.5 Q90.0,305.0 80.0,301.5 Q70.0,298.0 66.0,284.0 Q62.0,270.0 64.0,250.0 Q66.0,230.0 67.5,212.5Z" fill="rgb(110,110,245)" opacity="0.95" filter="url(#b2)"/><ellipse cx="90" cy="245" rx="18" ry="14" fill="rgb(250,250,255)" opacity="0.95" filter="url(#b2)"/><ellipse cx="76" cy="283" rx="7" ry="7" fill="rgb(0,0,200)" opacity="0.95" filter="url(#b1_5)"/><ellipse cx="82.7" cy="210.6" rx="1.8" ry="4.2" fill="rgb(220,0,0)" opacity="0.9" transform="rotate(29 82.7 210.6)" filter="url(#b0_8)"/><ellipse cx="98.1" cy="212.7" rx="2.5" ry="4.5" fill="rgb(220,0,0)" opacity="0.9" transform="rotate(26 98.1 212.7)" filter="url(#b0_8)"/><ellipse cx="103.7" cy="226.7" rx="1.6" ry="2.6" fill="rgb(255,255,255)" opacity="0.9" transform="rotate(-10 103.7 226.7)" filter="url(#b0_8)"/><ellipse cx="89.5" cy="227.6" rx="2.8" ry="4.0" fill="rgb(200,0,0)" opacity="0.9" transform="rotate(18 89.5 227.6)" filter="url(#b0_8)"/><ellipse cx="78.4" cy="218.2" rx="2.7" ry="4.1" fill="rgb(255,255,255)" opacity="0.9" transform="rotate(-19 78.4 218.2)" filter="url(#b0_8)"/><ellipse cx="98.1" cy="208.6" rx="2.1" ry="4.5" fill="rgb(200,0,0)" opacity="0.9" transform="rotate(13 98.1 208.6)" filter="url(#b0_8)"/><ellipse cx="80.8" cy="202.7" rx="2.4" ry="3.9" fill="rgb(220,0,0)" opacity="0.9" transform="rotate(7 80.8 202.7)" filter="url(#b0_8)"/><ellipse cx="92.7" cy="212.8" rx="1.7" ry="2.4" fill="rgb(255,255,255)" opacity="0.9" transform="rotate(18 92.7 212.8)" filter="url(#b0_8)"/><ellipse cx="96.3" cy="202.0" rx="2.9" ry="4.4" fill="rgb(200,0,0)" opacity="0.9" transform="rotate(20 96.3 202.0)" filter="url(#b0_8)"/><ellipse cx="81.9" cy="206.3" rx="2.3" ry="3.7" fill="rgb(255,255,255)" opacity="0.9" transform="rotate(3 81.9 206.3)" filter="url(#b0_8)"/><ellipse cx="99.4" cy="200.8" rx="2.0" ry="3.7" fill="rgb(200,0,0)" opacity="0.9" transform="rotate(24 99.4 200.8)" filter="url(#b0_8)"/><ellipse cx="87.8" cy="225.6" rx="1.7" ry="2.8" fill="rgb(200,0,0)" opacity="0.9" transform="rotate(22 87.8 225.6)" filter="url(#b0_8)"/><path d="M138.0,225.0 Q150.0,240.0 155.0,249.0 L160.0,258.0" fill="none" stroke="rgb(50,50,235)" stroke-width="6" stroke-linecap="round" stroke-linejoin="round" opacity="0.85" filter="url(#b1_5)"/><path d="M145.0,220.0 L158.0,232.0" fill="none" stroke="rgb(120,120,255)" stroke-width="4" stroke-linecap="round" stroke-linejoin="round" opacity="0.8" filter="url(#b1_5)"/><path d="M0.0,268.0 L60.0,262.0 L104.0,256.0 L160.0,252.0 L257.0,250.0 L260.0,395.0 L-5.0,395.0Z" fill="rgb(248,150,150)" opacity="0.9" filter="url(#b4)"/><ellipse cx="93.0" cy="354.0" rx="7.0" ry="16.5" fill="rgb(165,0,0)" opacity="0.95" transform="rotate(3 93.0 354.0)" filter="url(#b2)"/><ellipse cx="71.0" cy="345.3" rx="8.9" ry="22.0" fill="rgb(190,0,0)" opacity="0.95" transform="rotate(-27 71.0 345.3)" filter="url(#b2)"/><ellipse cx="64.4" cy="299.1" rx="9.0" ry="17.9" fill="rgb(165,0,0)" opacity="0.95" transform="rotate(25 64.4 299.1)" filter="url(#b2)"/><ellipse cx="76.7" cy="354.4" rx="9.6" ry="9.6" fill="rgb(190,0,0)" opacity="0.95" filter="url(#b2)"/><ellipse cx="94.6" cy="344.3" rx="10.2" ry="24.0" fill="rgb(165,0,0)" opacity="0.95" transform="rotate(-14 94.6 344.3)" filter="url(#b2)"/><ellipse cx="82.4" cy="386.5" rx="6.8" ry="10.3" fill="rgb(140,0,0)" opacity="0.95" transform="rotate(-26 82.4 386.5)" filter="url(#b2)"/><ellipse cx="66.8" cy="302.1" rx="7.8" ry="13.0" fill="rgb(190,0,0)" opacity="0.95" transform="rotate(26 66.8 302.1)" filter="url(#b2)"/><ellipse cx="86.5" cy="330.5" rx="11.3" ry="14.9" fill="rgb(140,0,0)" opacity="0.95" transform="rotate(27 86.5 330.5)" filter="url(#b2)"/><ellipse cx="74.5" cy="342.3" rx="11.0" ry="10.6" fill="rgb(190,0,0)" opacity="0.95" transform="rotate(1 74.5 342.3)" filter="url(#b2)"/><ellipse cx="71.6" cy="314.0" rx="6.6" ry="11.5" fill="rgb(140,0,0)" opacity="0.95" transform="rotate(-2 71.6 314.0)" filter="url(#b2)"/><ellipse cx="89.5" cy="332.3" rx="9.7" ry="9.8" fill="rgb(190,0,0)" opacity="0.95" transform="rotate(29 89.5 332.3)" filter="url(#b2)"/><ellipse cx="93.6" cy="389.3" rx="6.5" ry="15.9" fill="rgb(165,0,0)" opacity="0.95" transform="rotate(-19 93.6 389.3)" filter="url(#b2)"/><ellipse cx="92.0" cy="374.5" rx="10.9" ry="8.9" fill="rgb(190,0,0)" opacity="0.95" transform="rotate(25 92.0 374.5)" filter="url(#b2)"/><ellipse cx="83.0" cy="362.9" rx="7.7" ry="13.2" fill="rgb(165,0,0)" opacity="0.95" transform="rotate(24 83.0 362.9)" filter="url(#b2)"/><ellipse cx="68.2" cy="296.6" rx="10.8" ry="13.2" fill="rgb(165,0,0)" opacity="0.95" transform="rotate(-26 68.2 296.6)" filter="url(#b2)"/><ellipse cx="97.3" cy="339.0" rx="12.0" ry="17.9" fill="rgb(140,0,0)" opacity="0.95" transform="rotate(7 97.3 339.0)" filter="url(#b2)"/><ellipse cx="57.1" cy="363.8" rx="11.8" ry="9.2" fill="rgb(165,0,0)" opacity="0.95" transform="rotate(26 57.1 363.8)" filter="url(#b2)"/><ellipse cx="85.8" cy="346.5" rx="7.7" ry="10.9" fill="rgb(165,0,0)" opacity="0.95" transform="rotate(-9 85.8 346.5)" filter="url(#b2)"/><ellipse cx="55.9" cy="319.3" rx="6.1" ry="19.6" fill="rgb(165,0,0)" opacity="0.95" transform="rotate(1 55.9 319.3)" filter="url(#b2)"/><ellipse cx="67.0" cy="338.4" rx="10.9" ry="13.7" fill="rgb(190,0,0)" opacity="0.95" transform="rotate(20 67.0 338.4)" filter="url(#b2)"/><ellipse cx="74.3" cy="344.1" rx="7.3" ry="9.1" fill="rgb(190,0,0)" opacity="0.95" transform="rotate(23 74.3 344.1)" filter="url(#b2)"/><ellipse cx="90.7" cy="308.6" rx="11.9" ry="11.2" fill="rgb(140,0,0)" opacity="0.95" transform="rotate(8 90.7 308.6)" filter="url(#b2)"/><ellipse cx="98.1" cy="336.8" rx="6.5" ry="22.6" fill="rgb(165,0,0)" opacity="0.95" transform="rotate(10 98.1 336.8)" filter="url(#b2)"/><ellipse cx="68.8" cy="318.5" rx="6.3" ry="9.4" fill="rgb(140,0,0)" opacity="0.95" transform="rotate(-30 68.8 318.5)" filter="url(#b2)"/><ellipse cx="72.8" cy="326.9" rx="7.9" ry="12.8" fill="rgb(190,0,0)" opacity="0.95" transform="rotate(-17 72.8 326.9)" filter="url(#b2)"/><ellipse cx="64.0" cy="327.5" rx="8.8" ry="11.2" fill="rgb(165,0,0)" opacity="0.95" filter="url(#b2)"/><ellipse cx="55.2" cy="320.6" rx="6.9" ry="14.0" fill="rgb(165,0,0)" opacity="0.95" transform="rotate(-12 55.2 320.6)" filter="url(#b2)"/><ellipse cx="85.9" cy="303.2" rx="11.1" ry="14.4" fill="rgb(190,0,0)" opacity="0.95" transform="rotate(17 85.9 303.2)" filter="url(#b2)"/><ellipse cx="84.2" cy="369.1" rx="11.9" ry="12.9" fill="rgb(190,0,0)" opacity="0.95" transform="rotate(9 84.2 369.1)" filter="url(#b2)"/><ellipse cx="57.1" cy="376.0" rx="9.8" ry="20.5" fill="rgb(190,0,0)" opacity="0.95" transform="rotate(-22 57.1 376.0)" filter="url(#b2)"/><ellipse cx="132.3" cy="327.6" rx="11.0" ry="19.7" fill="rgb(190,10,10)" opacity="0.9" transform="rotate(11 132.3 327.6)" filter="url(#b2)"/><ellipse cx="141.4" cy="291.9" rx="6.3" ry="21.1" fill="rgb(190,10,10)" opacity="0.9" transform="rotate(-7 141.4 291.9)" filter="url(#b2)"/><ellipse cx="128.4" cy="268.6" rx="9.8" ry="16.0" fill="rgb(190,10,10)" opacity="0.9" transform="rotate(-30 128.4 268.6)" filter="url(#b2)"/><ellipse cx="147.1" cy="359.3" rx="11.4" ry="10.7" fill="rgb(225,20,20)" opacity="0.9" transform="rotate(15 147.1 359.3)" filter="url(#b2)"/><ellipse cx="129.6" cy="367.2" rx="7.4" ry="13.5" fill="rgb(150,0,0)" opacity="0.9" transform="rotate(9 129.6 367.2)" filter="url(#b2)"/><ellipse cx="128.9" cy="371.9" rx="8.9" ry="19.4" fill="rgb(190,10,10)" opacity="0.9" transform="rotate(7 128.9 371.9)" filter="url(#b2)"/><ellipse cx="138.7" cy="272.1" rx="8.0" ry="18.1" fill="rgb(190,10,10)" opacity="0.9" transform="rotate(7 138.7 272.1)" filter="url(#b2)"/><ellipse cx="111.2" cy="324.7" rx="7.6" ry="18.4" fill="rgb(150,0,0)" opacity="0.9" transform="rotate(11 111.2 324.7)" filter="url(#b2)"/><ellipse cx="119.7" cy="329.1" rx="8.8" ry="23.2" fill="rgb(150,0,0)" opacity="0.9" transform="rotate(3 119.7 329.1)" filter="url(#b2)"/><ellipse cx="120.8" cy="273.2" rx="6.1" ry="17.4" fill="rgb(150,0,0)" opacity="0.9" transform="rotate(28 120.8 273.2)" filter="url(#b2)"/><ellipse cx="128.3" cy="296.9" rx="11.5" ry="12.6" fill="rgb(190,10,10)" opacity="0.9" transform="rotate(-25 128.3 296.9)" filter="url(#b2)"/><ellipse cx="144.4" cy="296.0" rx="6.8" ry="17.6" fill="rgb(150,0,0)" opacity="0.9" transform="rotate(23 144.4 296.0)" filter="url(#b2)"/><ellipse cx="142.0" cy="292.1" rx="8.4" ry="14.9" fill="rgb(150,0,0)" opacity="0.9" transform="rotate(11 142.0 292.1)" filter="url(#b2)"/><ellipse cx="125.9" cy="356.5" rx="8.1" ry="15.9" fill="rgb(150,0,0)" opacity="0.9" transform="rotate(-30 125.9 356.5)" filter="url(#b2)"/><ellipse cx="144.5" cy="371.1" rx="11.6" ry="7.3" fill="rgb(190,10,10)" opacity="0.9" transform="rotate(14 144.5 371.1)" filter="url(#b2)"/><ellipse cx="117.7" cy="270.4" rx="12.0" ry="13.7" fill="rgb(150,0,0)" opacity="0.9" transform="rotate(-4 117.7 270.4)" filter="url(#b2)"/><ellipse cx="118.9" cy="268.3" rx="6.3" ry="17.6" fill="rgb(190,10,10)" opacity="0.9" transform="rotate(-21 118.9 268.3)" filter="url(#b2)"/><ellipse cx="156.4" cy="318.7" rx="7.1" ry="17.7" fill="rgb(150,0,0)" opacity="0.9" transform="rotate(23 156.4 318.7)" filter="url(#b2)"/><ellipse cx="147.8" cy="344.0" rx="9.3" ry="10.9" fill="rgb(225,20,20)" opacity="0.9" transform="rotate(14 147.8 344.0)" filter="url(#b2)"/><ellipse cx="128.3" cy="359.8" rx="11.2" ry="18.7" fill="rgb(225,20,20)" opacity="0.9" transform="rotate(3 128.3 359.8)" filter="url(#b2)"/><ellipse cx="113.2" cy="315.9" rx="7.8" ry="22.7" fill="rgb(150,0,0)" opacity="0.9" transform="rotate(-14 113.2 315.9)" filter="url(#b2)"/><ellipse cx="139.4" cy="301.1" rx="10.0" ry="11.9" fill="rgb(225,20,20)" opacity="0.9" transform="rotate(-25 139.4 301.1)" filter="url(#b2)"/><ellipse cx="131.0" cy="367.5" rx="7.3" ry="25.1" fill="rgb(225,20,20)" opacity="0.9" transform="rotate(-3 131.0 367.5)" filter="url(#b2)"/><ellipse cx="111.5" cy="287.0" rx="7.0" ry="12.9" fill="rgb(190,10,10)" opacity="0.9" transform="rotate(-8 111.5 287.0)" filter="url(#b2)"/><ellipse cx="147.7" cy="288.3" rx="10.5" ry="12.7" fill="rgb(190,10,10)" opacity="0.9" transform="rotate(1 147.7 288.3)" filter="url(#b2)"/><ellipse cx="124.4" cy="306.0" rx="9.0" ry="13.5" fill="rgb(190,10,10)" opacity="0.9" transform="rotate(11 124.4 306.0)" filter="url(#b2)"/><ellipse cx="132.6" cy="364.7" rx="6.6" ry="16.6" fill="rgb(190,10,10)" opacity="0.9" transform="rotate(9 132.6 364.7)" filter="url(#b2)"/><ellipse cx="127.3" cy="302.6" rx="6.8" ry="16.4" fill="rgb(190,10,10)" opacity="0.9" transform="rotate(18 127.3 302.6)" filter="url(#b2)"/><ellipse cx="156.3" cy="325.7" rx="8.3" ry="23.0" fill="rgb(190,10,10)" opacity="0.9" transform="rotate(21 156.3 325.7)" filter="url(#b2)"/><ellipse cx="156.5" cy="294.3" rx="7.3" ry="15.0" fill="rgb(190,10,10)" opacity="0.9" transform="rotate(-23 156.5 294.3)" filter="url(#b2)"/><ellipse cx="45.4" cy="356.1" rx="6.5" ry="10.7" fill="rgb(230,40,40)" opacity="0.85" transform="rotate(-22 45.4 356.1)" filter="url(#b2)"/><ellipse cx="31.3" cy="276.5" rx="7.8" ry="8.8" fill="rgb(255,190,190)" opacity="0.85" transform="rotate(8 31.3 276.5)" filter="url(#b2)"/><ellipse cx="38.4" cy="285.5" rx="7.8" ry="14.3" fill="rgb(240,90,90)" opacity="0.85" transform="rotate(-14 38.4 285.5)" filter="url(#b2)"/><ellipse cx="43.5" cy="272.1" rx="7.8" ry="18.8" fill="rgb(255,190,190)" opacity="0.85" transform="rotate(9 43.5 272.1)" filter="url(#b2)"/><ellipse cx="48.6" cy="329.0" rx="9.3" ry="9.2" fill="rgb(240,90,90)" opacity="0.85" transform="rotate(9 48.6 329.0)" filter="url(#b2)"/><ellipse cx="3.0" cy="295.3" rx="9.9" ry="8.3" fill="rgb(255,190,190)" opacity="0.85" transform="rotate(-5 3.0 295.3)" filter="url(#b2)"/><ellipse cx="20.4" cy="331.2" rx="8.0" ry="15.5" fill="rgb(255,190,190)" opacity="0.85" transform="rotate(-18 20.4 331.2)" filter="url(#b2)"/><ellipse cx="43.8" cy="360.7" rx="6.4" ry="11.1" fill="rgb(255,190,190)" opacity="0.85" transform="rotate(16 43.8 360.7)" filter="url(#b2)"/><ellipse cx="10.7" cy="327.8" rx="10.6" ry="16.6" fill="rgb(230,40,40)" opacity="0.85" filter="url(#b2)"/><ellipse cx="10.3" cy="298.8" rx="11.5" ry="10.9" fill="rgb(230,40,40)" opacity="0.85" transform="rotate(25 10.3 298.8)" filter="url(#b2)"/><ellipse cx="3.0" cy="274.8" rx="6.9" ry="6.8" fill="rgb(255,190,190)" opacity="0.85" transform="rotate(-6 3.0 274.8)" filter="url(#b2)"/><ellipse cx="49.4" cy="378.0" rx="6.7" ry="7.8" fill="rgb(255,190,190)" opacity="0.85" transform="rotate(-19 49.4 378.0)" filter="url(#b2)"/><ellipse cx="35.9" cy="335.0" rx="6.2" ry="14.5" fill="rgb(230,40,40)" opacity="0.85" transform="rotate(-8 35.9 335.0)" filter="url(#b2)"/><ellipse cx="18.2" cy="292.3" rx="6.5" ry="9.8" fill="rgb(240,90,90)" opacity="0.85" transform="rotate(23 18.2 292.3)" filter="url(#b2)"/><ellipse cx="30.9" cy="363.1" rx="8.1" ry="21.7" fill="rgb(230,40,40)" opacity="0.85" transform="rotate(-4 30.9 363.1)" filter="url(#b2)"/><ellipse cx="2.7" cy="328.8" rx="9.2" ry="12.0" fill="rgb(230,40,40)" opacity="0.85" transform="rotate(14 2.7 328.8)" filter="url(#b2)"/><ellipse cx="26.1" cy="347.8" rx="10.9" ry="11.1" fill="rgb(240,90,90)" opacity="0.85" transform="rotate(-28 26.1 347.8)" filter="url(#b2)"/><ellipse cx="3.4" cy="382.4" rx="7.2" ry="11.0" fill="rgb(230,40,40)" opacity="0.85" transform="rotate(-8 3.4 382.4)" filter="url(#b2)"/><ellipse cx="18.4" cy="386.5" rx="7.6" ry="14.2" fill="rgb(240,90,90)" opacity="0.85" transform="rotate(-13 18.4 386.5)" filter="url(#b2)"/><ellipse cx="0.2" cy="362.7" rx="11.7" ry="12.7" fill="rgb(255,190,190)" opacity="0.85" transform="rotate(-24 0.2 362.7)" filter="url(#b2)"/><ellipse cx="39.4" cy="327.9" rx="10.7" ry="22.7" fill="rgb(230,40,40)" opacity="0.85" transform="rotate(-22 39.4 327.9)" filter="url(#b2)"/><ellipse cx="27.3" cy="273.0" rx="7.8" ry="12.0" fill="rgb(255,190,190)" opacity="0.85" transform="rotate(-16 27.3 273.0)" filter="url(#b2)"/><ellipse cx="47.4" cy="327.3" rx="6.5" ry="13.7" fill="rgb(255,190,190)" opacity="0.85" transform="rotate(-15 47.4 327.3)" filter="url(#b2)"/><ellipse cx="3.6" cy="276.1" rx="9.3" ry="10.5" fill="rgb(255,190,190)" opacity="0.85" transform="rotate(-24 3.6 276.1)" filter="url(#b2)"/><ellipse cx="4.0" cy="347.0" rx="6.6" ry="16.6" fill="rgb(240,90,90)" opacity="0.85" transform="rotate(-3 4.0 347.0)" filter="url(#b2)"/><ellipse cx="165.5" cy="344.2" rx="9.0" ry="16.9" fill="rgb(245,90,90)" opacity="0.85" transform="rotate(-23 165.5 344.2)" filter="url(#b2)"/><ellipse cx="184.9" cy="334.1" rx="7.5" ry="11.1" fill="rgb(235,60,60)" opacity="0.85" transform="rotate(-15 184.9 334.1)" filter="url(#b2)"/><ellipse cx="165.9" cy="322.6" rx="7.3" ry="16.6" fill="rgb(245,90,90)" opacity="0.85" filter="url(#b2)"/><ellipse cx="165.4" cy="376.3" rx="10.0" ry="10.1" fill="rgb(235,60,60)" opacity="0.85" transform="rotate(19 165.4 376.3)" filter="url(#b2)"/><ellipse cx="184.9" cy="385.0" rx="9.5" ry="7.4" fill="rgb(245,90,90)" opacity="0.85" transform="rotate(6 184.9 385.0)" filter="url(#b2)"/><ellipse cx="184.5" cy="325.9" rx="7.5" ry="14.6" fill="rgb(245,90,90)" opacity="0.85" transform="rotate(-14 184.5 325.9)" filter="url(#b2)"/><ellipse cx="182.9" cy="387.5" rx="8.5" ry="12.5" fill="rgb(245,90,90)" opacity="0.85" transform="rotate(-28 182.9 387.5)" filter="url(#b2)"/><ellipse cx="168.9" cy="313.6" rx="6.2" ry="18.7" fill="rgb(235,60,60)" opacity="0.85" transform="rotate(19 168.9 313.6)" filter="url(#b2)"/><ellipse cx="184.2" cy="343.5" rx="6.7" ry="9.0" fill="rgb(235,60,60)" opacity="0.85" transform="rotate(18 184.2 343.5)" filter="url(#b2)"/><ellipse cx="175.5" cy="315.2" rx="9.2" ry="10.3" fill="rgb(245,90,90)" opacity="0.85" transform="rotate(2 175.5 315.2)" filter="url(#b2)"/><ellipse cx="178.9" cy="342.6" rx="7.6" ry="9.8" fill="rgb(235,60,60)" opacity="0.85" transform="rotate(27 178.9 342.6)" filter="url(#b2)"/><ellipse cx="168.0" cy="356.5" rx="7.7" ry="11.7" fill="rgb(235,60,60)" opacity="0.85" transform="rotate(18 168.0 356.5)" filter="url(#b2)"/><ellipse cx="103.1" cy="320.7" rx="2.4" ry="6.0" fill="rgb(255,160,160)" opacity="0.8" transform="rotate(20 103.1 320.7)" filter="url(#b1_5)"/><ellipse cx="67.8" cy="371.0" rx="3.2" ry="8.9" fill="rgb(255,160,160)" opacity="0.8" transform="rotate(14 67.8 371.0)" filter="url(#b1_5)"/><ellipse cx="20.8" cy="281.0" rx="3.3" ry="13.3" fill="rgb(255,235,235)" opacity="0.8" transform="rotate(-21 20.8 281.0)" filter="url(#b1_5)"/><ellipse cx="99.6" cy="318.4" rx="2.3" ry="8.3" fill="rgb(255,235,235)" opacity="0.8" transform="rotate(1 99.6 318.4)" filter="url(#b1_5)"/><ellipse cx="148.1" cy="287.7" rx="3.5" ry="12.3" fill="rgb(255,160,160)" opacity="0.8" transform="rotate(15 148.1 287.7)" filter="url(#b1_5)"/><ellipse cx="48.3" cy="373.0" rx="4.0" ry="9.9" fill="rgb(255,255,255)" opacity="0.8" transform="rotate(-22 48.3 373.0)" filter="url(#b1_5)"/><ellipse cx="148.2" cy="320.4" rx="3.3" ry="12.9" fill="rgb(255,235,235)" opacity="0.8" transform="rotate(6 148.2 320.4)" filter="url(#b1_5)"/><ellipse cx="98.4" cy="297.9" rx="2.4" ry="7.7" fill="rgb(255,160,160)" opacity="0.8" transform="rotate(-5 98.4 297.9)" filter="url(#b1_5)"/><ellipse cx="82.9" cy="319.9" rx="2.3" ry="13.8" fill="rgb(255,255,255)" opacity="0.8" transform="rotate(16 82.9 319.9)" filter="url(#b1_5)"/><ellipse cx="30.8" cy="378.4" rx="3.3" ry="8.6" fill="rgb(255,255,255)" opacity="0.8" transform="rotate(-6 30.8 378.4)" filter="url(#b1_5)"/><ellipse cx="72.9" cy="374.3" rx="3.3" ry="8.5" fill="rgb(255,200,200)" opacity="0.8" transform="rotate(-13 72.9 374.3)" filter="url(#b1_5)"/><ellipse cx="62.3" cy="318.0" rx="2.4" ry="6.0" fill="rgb(255,160,160)" opacity="0.8" transform="rotate(24 62.3 318.0)" filter="url(#b1_5)"/><ellipse cx="74.4" cy="327.3" rx="3.7" ry="12.5" fill="rgb(255,160,160)" opacity="0.8" transform="rotate(-5 74.4 327.3)" filter="url(#b1_5)"/><ellipse cx="10.7" cy="317.0" rx="2.2" ry="9.5" fill="rgb(255,200,200)" opacity="0.8" transform="rotate(1 10.7 317.0)" filter="url(#b1_5)"/><ellipse cx="6.5" cy="349.5" rx="3.8" ry="8.5" fill="rgb(255,255,255)" opacity="0.8" transform="rotate(11 6.5 349.5)" filter="url(#b1_5)"/><ellipse cx="12.8" cy="363.0" rx="3.3" ry="12.3" fill="rgb(255,160,160)" opacity="0.8" transform="rotate(-24 12.8 363.0)" filter="url(#b1_5)"/><ellipse cx="10.6" cy="346.9" rx="2.4" ry="13.9" fill="rgb(255,255,255)" opacity="0.8" filter="url(#b1_5)"/><ellipse cx="153.1" cy="382.2" rx="3.4" ry="11.8" fill="rgb(255,235,235)" opacity="0.8" transform="rotate(-14 153.1 382.2)" filter="url(#b1_5)"/><ellipse cx="133.3" cy="346.4" rx="2.3" ry="13.2" fill="rgb(255,200,200)" opacity="0.8" transform="rotate(-11 133.3 346.4)" filter="url(#b1_5)"/><ellipse cx="130.5" cy="291.8" rx="2.4" ry="8.1" fill="rgb(255,160,160)" opacity="0.8" filter="url(#b1_5)"/><ellipse cx="51.1" cy="279.3" rx="2.8" ry="11.1" fill="rgb(255,235,235)" opacity="0.8" transform="rotate(-11 51.1 279.3)" filter="url(#b1_5)"/><ellipse cx="52.5" cy="319.1" rx="2.2" ry="10.2" fill="rgb(255,200,200)" opacity="0.8" transform="rotate(7 52.5 319.1)" filter="url(#b1_5)"/><ellipse cx="57.6" cy="377.1" rx="2.5" ry="10.3" fill="rgb(255,255,255)" opacity="0.8" transform="rotate(18 57.6 377.1)" filter="url(#b1_5)"/><ellipse cx="118.1" cy="318.5" rx="4.0" ry="10.6" fill="rgb(255,160,160)" opacity="0.8" transform="rotate(-7 118.1 318.5)" filter="url(#b1_5)"/><ellipse cx="122.3" cy="326.7" rx="3.2" ry="13.7" fill="rgb(255,235,235)" opacity="0.8" transform="rotate(-10 122.3 326.7)" filter="url(#b1_5)"/><ellipse cx="82.6" cy="311.3" rx="3.5" ry="12.0" fill="rgb(255,200,200)" opacity="0.8" transform="rotate(-14 82.6 311.3)" filter="url(#b1_5)"/><ellipse cx="46.6" cy="348.2" rx="3.0" ry="13.2" fill="rgb(255,160,160)" opacity="0.8" transform="rotate(-18 46.6 348.2)" filter="url(#b1_5)"/><ellipse cx="36.4" cy="351.4" rx="2.1" ry="10.5" fill="rgb(255,255,255)" opacity="0.8" transform="rotate(-10 36.4 351.4)" filter="url(#b1_5)"/><path d="M187.0,347.5 Q187.0,300.0 206.0,297.5 Q225.0,295.0 230.0,345.0 Q235.0,395.0 211.0,395.0 Q187.0,395.0 187.0,347.5Z" fill="rgb(255,190,190)" opacity="0.95" filter="url(#b4)"/><path d="M227.0,353.5 Q222.0,312.0 242.0,308.5 Q262.0,305.0 262.0,350.0 Q262.0,395.0 247.0,395.0 Q232.0,395.0 227.0,353.5Z" fill="rgb(230,35,35)" opacity="0.9" filter="url(#b4)"/><path d="M187.0,275.5 Q187.0,248.0 224.5,244.0 Q262.0,240.0 262.0,271.5 Q262.0,303.0 224.5,303.0 Q187.0,303.0 187.0,275.5Z" fill="rgb(255,220,220)" opacity="0.8" filter="url(#b4)"/><ellipse cx="223.6" cy="277.4" rx="2.7" ry="3.3" fill="rgb(160,0,0)" opacity="0.85" transform="rotate(7 223.6 277.4)" filter="url(#b0_8)"/><ellipse cx="220.2" cy="255.4" rx="2.9" ry="2.6" fill="rgb(255,255,255)" opacity="0.85" transform="rotate(-21 220.2 255.4)" filter="url(#b0_8)"/><ellipse cx="233.6" cy="262.8" rx="3.4" ry="3.2" fill="rgb(60,60,240)" opacity="0.85" transform="rotate(24 233.6 262.8)" filter="url(#b0_8)"/><ellipse cx="228.6" cy="279.8" rx="2.0" ry="3.5" fill="rgb(160,0,0)" opacity="0.85" transform="rotate(2 228.6 279.8)" filter="url(#b0_8)"/><ellipse cx="215.4" cy="261.1" rx="3.3" ry="3.0" fill="rgb(230,30,30)" opacity="0.85" transform="rotate(9 215.4 261.1)" filter="url(#b0_8)"/><ellipse cx="200.8" cy="270.7" rx="3.1" ry="2.5" fill="rgb(160,0,0)" opacity="0.85" transform="rotate(-12 200.8 270.7)" filter="url(#b0_8)"/><ellipse cx="190.4" cy="296.9" rx="2.9" ry="3.0" fill="rgb(160,0,0)" opacity="0.85" transform="rotate(15 190.4 296.9)" filter="url(#b0_8)"/><ellipse cx="219.6" cy="288.8" rx="1.9" ry="4.6" fill="rgb(160,0,0)" opacity="0.85" transform="rotate(9 219.6 288.8)" filter="url(#b0_8)"/><ellipse cx="195.6" cy="297.0" rx="2.9" ry="3.4" fill="rgb(60,60,240)" opacity="0.85" transform="rotate(-4 195.6 297.0)" filter="url(#b0_8)"/><ellipse cx="242.2" cy="276.8" rx="2.1" ry="7.0" fill="rgb(60,60,240)" opacity="0.85" transform="rotate(-25 242.2 276.8)" filter="url(#b0_8)"/><ellipse cx="222.5" cy="257.3" rx="3.2" ry="2.3" fill="rgb(255,255,255)" opacity="0.85" transform="rotate(25 222.5 257.3)" filter="url(#b0_8)"/><ellipse cx="200.4" cy="269.4" rx="2.3" ry="6.7" fill="rgb(255,255,255)" opacity="0.85" transform="rotate(29 200.4 269.4)" filter="url(#b0_8)"/><ellipse cx="245.9" cy="277.5" rx="3.2" ry="5.9" fill="rgb(160,0,0)" opacity="0.85" transform="rotate(-4 245.9 277.5)" filter="url(#b0_8)"/><ellipse cx="237.7" cy="279.4" rx="3.1" ry="3.9" fill="rgb(60,60,240)" opacity="0.85" transform="rotate(4 237.7 279.4)" filter="url(#b0_8)"/><ellipse cx="199.0" cy="249.8" rx="1.7" ry="4.7" fill="rgb(230,30,30)" opacity="0.85" transform="rotate(-21 199.0 249.8)" filter="url(#b0_8)"/><ellipse cx="189.0" cy="250.3" rx="2.9" ry="3.2" fill="rgb(230,30,30)" opacity="0.85" transform="rotate(5 189.0 250.3)" filter="url(#b0_8)"/><ellipse cx="212.4" cy="293.0" rx="3.3" ry="5.6" fill="rgb(230,30,30)" opacity="0.85" transform="rotate(-7 212.4 293.0)" filter="url(#b0_8)"/><ellipse cx="204.3" cy="259.2" rx="1.6" ry="6.3" fill="rgb(230,30,30)" opacity="0.85" transform="rotate(8 204.3 259.2)" filter="url(#b0_8)"/><ellipse cx="244.8" cy="282.7" rx="2.5" ry="3.4" fill="rgb(60,60,240)" opacity="0.85" transform="rotate(9 244.8 282.7)" filter="url(#b0_8)"/><ellipse cx="207.6" cy="266.5" rx="1.5" ry="2.7" fill="rgb(60,60,240)" opacity="0.85" transform="rotate(13 207.6 266.5)" filter="url(#b0_8)"/><ellipse cx="212.8" cy="265.6" rx="3.2" ry="2.8" fill="rgb(160,0,0)" opacity="0.85" transform="rotate(-5 212.8 265.6)" filter="url(#b0_8)"/><ellipse cx="217.6" cy="290.5" rx="2.4" ry="2.7" fill="rgb(60,60,240)" opacity="0.85" transform="rotate(13 217.6 290.5)" filter="url(#b0_8)"/><ellipse cx="244.9" cy="279.6" rx="1.8" ry="1.9" fill="rgb(60,60,240)" opacity="0.85" transform="rotate(16 244.9 279.6)" filter="url(#b0_8)"/><ellipse cx="255.5" cy="248.2" rx="1.7" ry="5.8" fill="rgb(160,0,0)" opacity="0.85" transform="rotate(28 255.5 248.2)" filter="url(#b0_8)"/><ellipse cx="228.5" cy="300.6" rx="2.7" ry="3.6" fill="rgb(60,60,240)" opacity="0.85" transform="rotate(26 228.5 300.6)" filter="url(#b0_8)"/><ellipse cx="245" cy="330" rx="10" ry="15" fill="rgb(180,180,255)" opacity="0.7" filter="url(#b2)"/><path d="M187.0,248.0 L260.0,240.0 L260.0,303.0 L187.0,303.0Z" fill="rgb(255,220,220)" opacity="0.8" filter="url(#b3)"/><ellipse cx="203.2" cy="257.1" rx="2.5" ry="5.8" fill="rgb(230,30,30)" opacity="0.85" transform="rotate(-24 203.2 257.1)" filter="url(#b0_8)"/><ellipse cx="209.9" cy="253.2" rx="3.3" ry="4.5" fill="rgb(160,0,0)" opacity="0.85" transform="rotate(9 209.9 253.2)" filter="url(#b0_8)"/><ellipse cx="213.0" cy="264.7" rx="3.3" ry="3.6" fill="rgb(160,0,0)" opacity="0.85" transform="rotate(23 213.0 264.7)" filter="url(#b0_8)"/><ellipse cx="203.4" cy="273.3" rx="2.2" ry="2.6" fill="rgb(230,30,30)" opacity="0.85" transform="rotate(21 203.4 273.3)" filter="url(#b0_8)"/><ellipse cx="233.3" cy="288.8" rx="2.4" ry="3.8" fill="rgb(255,255,255)" opacity="0.85" transform="rotate(-16 233.3 288.8)" filter="url(#b0_8)"/><ellipse cx="210.4" cy="283.3" rx="2.5" ry="3.9" fill="rgb(255,255,255)" opacity="0.85" transform="rotate(20 210.4 283.3)" filter="url(#b0_8)"/><ellipse cx="230.2" cy="287.8" rx="2.9" ry="3.8" fill="rgb(255,255,255)" opacity="0.85" transform="rotate(-16 230.2 287.8)" filter="url(#b0_8)"/><ellipse cx="253.9" cy="262.2" rx="1.8" ry="3.5" fill="rgb(230,30,30)" opacity="0.85" transform="rotate(-21 253.9 262.2)" filter="url(#b0_8)"/><ellipse cx="197.4" cy="264.6" rx="2.4" ry="3.3" fill="rgb(60,60,240)" opacity="0.85" transform="rotate(-24 197.4 264.6)" filter="url(#b0_8)"/><ellipse cx="201.5" cy="269.4" rx="1.5" ry="4.9" fill="rgb(230,30,30)" opacity="0.85" transform="rotate(-17 201.5 269.4)" filter="url(#b0_8)"/><ellipse cx="255.7" cy="264.3" rx="1.8" ry="4.0" fill="rgb(230,30,30)" opacity="0.85" transform="rotate(14 255.7 264.3)" filter="url(#b0_8)"/><ellipse cx="250.6" cy="271.7" rx="3.2" ry="5.1" fill="rgb(160,0,0)" opacity="0.85" transform="rotate(23 250.6 271.7)" filter="url(#b0_8)"/><ellipse cx="231.9" cy="280.1" rx="2.9" ry="4.3" fill="rgb(255,255,255)" opacity="0.85" transform="rotate(-11 231.9 280.1)" filter="url(#b0_8)"/><ellipse cx="231.0" cy="253.4" rx="2.0" ry="4.3" fill="rgb(160,0,0)" opacity="0.85" transform="rotate(-21 231.0 253.4)" filter="url(#b0_8)"/><ellipse cx="246.5" cy="274.6" rx="2.7" ry="4.2" fill="rgb(230,30,30)" opacity="0.85" transform="rotate(26 246.5 274.6)" filter="url(#b0_8)"/><ellipse cx="199.8" cy="284.0" rx="2.3" ry="5.4" fill="rgb(230,30,30)" opacity="0.85" transform="rotate(-28 199.8 284.0)" filter="url(#b0_8)"/><ellipse cx="225.0" cy="256.8" rx="2.5" ry="2.9" fill="rgb(255,255,255)" opacity="0.85" transform="rotate(2 225.0 256.8)" filter="url(#b0_8)"/><ellipse cx="237.2" cy="276.2" rx="2.5" ry="5.0" fill="rgb(60,60,240)" opacity="0.85" transform="rotate(-17 237.2 276.2)" filter="url(#b0_8)"/><ellipse cx="234.9" cy="269.6" rx="3.0" ry="4.8" fill="rgb(230,30,30)" opacity="0.85" transform="rotate(-15 234.9 269.6)" filter="url(#b0_8)"/><ellipse cx="213.7" cy="251.4" rx="2.3" ry="4.3" fill="rgb(230,30,30)" opacity="0.85" transform="rotate(-9 213.7 251.4)" filter="url(#b0_8)"/><ellipse cx="205.6" cy="260.3" rx="3.4" ry="3.2" fill="rgb(160,0,0)" opacity="0.85" transform="rotate(18 205.6 260.3)" filter="url(#b0_8)"/><ellipse cx="214.4" cy="259.7" rx="3.4" ry="3.2" fill="rgb(255,255,255)" opacity="0.85" transform="rotate(-18 214.4 259.7)" filter="url(#b0_8)"/><ellipse cx="232.0" cy="287.6" rx="2.2" ry="5.5" fill="rgb(255,255,255)" opacity="0.85" transform="rotate(19 232.0 287.6)" filter="url(#b0_8)"/><ellipse cx="219.8" cy="264.2" rx="3.1" ry="4.7" fill="rgb(255,255,255)" opacity="0.85" transform="rotate(-16 219.8 264.2)" filter="url(#b0_8)"/><ellipse cx="236.3" cy="285.8" rx="2.9" ry="4.8" fill="rgb(160,0,0)" opacity="0.85" transform="rotate(18 236.3 285.8)" filter="url(#b0_8)"/><ellipse cx="150" cy="330" rx="5" ry="10" fill="rgb(170,170,255)" opacity="0.8" filter="url(#b1_5)"/><ellipse cx="210" cy="380" rx="6" ry="10" fill="rgb(255,200,200)" opacity="0.6" filter="url(#b2)"/></g></g><rect x="1737.2" y="529.2" width="256.8" height="394.5" fill="none" stroke="#000" stroke-width="2"/><line x1="1813.3" y1="524.2" x2="1813.3" y2="529.2" stroke="#000" stroke-width="1.8"/><line x1="1888.9" y1="524.2" x2="1888.9" y2="529.2" stroke="#000" stroke-width="1.8"/><line x1="1964.5" y1="524.2" x2="1964.5" y2="529.2" stroke="#000" stroke-width="1.8"/><line x1="1732.2" y1="605.4" x2="1737.2" y2="605.4" stroke="#000" stroke-width="1.8"/><line x1="1732.2" y1="681.1" x2="1737.2" y2="681.1" stroke="#000" stroke-width="1.8"/><line x1="1732.2" y1="756.8" x2="1737.2" y2="756.8" stroke="#000" stroke-width="1.8"/><line x1="1732.2" y1="832.5" x2="1737.2" y2="832.5" stroke="#000" stroke-width="1.8"/><line x1="1732.2" y1="908.2" x2="1737.2" y2="908.2" stroke="#000" stroke-width="1.8"/><text x="216.1" y="109.4" font-size="26" text-anchor="middle" font-weight="normal" >20</text><text x="291.7" y="109.4" font-size="26" text-anchor="middle" font-weight="normal" >40</text><text x="367.3" y="109.4" font-size="26" text-anchor="middle" font-weight="normal" >60</text><text x="275.9" y="70.0" font-size="26.5" text-anchor="middle" font-weight="normal" >Y (km)</text><text x="480.4" y="109.4" font-size="26" text-anchor="middle" font-weight="normal" >20</text><text x="556.0" y="109.4" font-size="26" text-anchor="middle" font-weight="normal" >40</text><text x="631.6" y="109.4" font-size="26" text-anchor="middle" font-weight="normal" >60</text><text x="540.2" y="70.0" font-size="26.5" text-anchor="middle" font-weight="normal" >Y (km)</text><text x="745.1" y="109.4" font-size="26" text-anchor="middle" font-weight="normal" >20</text><text x="820.7" y="109.4" font-size="26" text-anchor="middle" font-weight="normal" >40</text><text x="896.3" y="109.4" font-size="26" text-anchor="middle" font-weight="normal" >60</text><text x="804.9" y="70.0" font-size="26.5" text-anchor="middle" font-weight="normal" >Y (km)</text><text x="1015.3" y="109.7" font-size="26" text-anchor="middle" font-weight="normal" >20</text><text x="1090.9" y="109.7" font-size="26" text-anchor="middle" font-weight="normal" >40</text><text x="1166.5" y="109.7" font-size="26" text-anchor="middle" font-weight="normal" >60</text><text x="1075.1" y="70.3" font-size="26.5" text-anchor="middle" font-weight="normal" >Y (km)</text><text x="1543.4" y="108.3" font-size="26" text-anchor="middle" font-weight="normal" >20</text><text x="1619.0" y="108.3" font-size="26" text-anchor="middle" font-weight="normal" >40</text><text x="1694.6" y="108.3" font-size="26" text-anchor="middle" font-weight="normal" >60</text><text x="1603.2" y="68.9" font-size="26.5" text-anchor="middle" font-weight="normal" >Y (km)</text><text x="131.5" y="206.8" font-size="26" text-anchor="end" font-weight="normal" >20</text><text x="131.5" y="282.5" font-size="26" text-anchor="end" font-weight="normal" >40</text><text x="131.5" y="358.2" font-size="26" text-anchor="end" font-weight="normal" >60</text><text x="131.5" y="433.9" font-size="26" text-anchor="end" font-weight="normal" >80</text><text x="131.5" y="509.6" font-size="26" text-anchor="end" font-weight="normal" >100</text><text x="131.5" y="612.8" font-size="26" text-anchor="end" font-weight="normal" >20</text><text x="131.5" y="688.5" font-size="26" text-anchor="end" font-weight="normal" >40</text><text x="131.5" y="764.2" font-size="26" text-anchor="end" font-weight="normal" >60</text><text x="131.5" y="839.9" font-size="26" text-anchor="end" font-weight="normal" >80</text><text x="131.5" y="915.6" font-size="26" text-anchor="end" font-weight="normal" >100</text><text transform="translate(23.4,299.7) rotate(-90)" font-size="28" font-weight="bold" text-anchor="middle">Ground truth</text><text transform="translate(23.4,706.2) rotate(-90)" font-size="28" font-weight="bold" text-anchor="middle">Prediction</text><text transform="translate(80.3,334.4) rotate(-90)" font-size="26" font-weight="normal" text-anchor="middle">X (km)</text><text transform="translate(80.3,740.4) rotate(-90)" font-size="26" font-weight="normal" text-anchor="middle">X (km)</text><text x="405.7" y="25.9" font-size="28" text-anchor="start" font-weight="bold" >(a) Snapshots</text><text x="987.7" y="20.9" font-size="28" text-anchor="start" font-weight="bold" >(b) PGV</text><text x="1243.5" y="21.0" font-size="28" text-anchor="start" font-weight="bold" >(c) PGV error</text><text x="1545.6" y="21" font-size="28" font-weight="bold">(d) T<tspan font-size="17" dy="8.8">PGV</tspan></text><text x="1768.5" y="21" font-size="28" font-weight="bold">(e) T<tspan font-size="17" dy="8.8">PGV</tspan></text><text x="1866.2" y="21" font-size="28" font-weight="bold">error</text><text x="383.7" y="908.2" font-size="23.5" text-anchor="end" font-weight="bold" >21.75 s</text><text x="635.2" y="908.2" font-size="23.5" text-anchor="end" font-weight="bold" >30.45 s</text><text x="916.3" y="908.2" font-size="23.5" text-anchor="end" font-weight="bold" >39.15 s</text><polygon points="133.2,970.8 159.2,959.0 159.2,982.5" fill="rgb(0, 0, 77)"/><polygon points="662.5,970.8 636.8,959.0 636.8,982.5" fill="rgb(128, 0, 0)"/><rect x="159.2" y="959.0" width="477.6" height="23.5" fill="url(#gseis)"/><line x1="636.3" y1="960.0" x2="636.3" y2="981.5" stroke="rgba(255,255,255,0.45)" stroke-width="0.8"/><line x1="159.7" y1="960.0" x2="159.7" y2="981.5" stroke="rgba(255,255,255,0.3)" stroke-width="0.8"/><polygon points="133.2,970.8 159.2,959.0 636.8,959.0 662.5,970.8 636.8,982.5 159.2,982.5" fill="none" stroke="#000" stroke-width="2" stroke-linejoin="miter"/><line x1="159.0" y1="982.5" x2="159.0" y2="990.0" stroke="#000" stroke-width="1.8"/><line x1="278.4" y1="982.5" x2="278.4" y2="990.0" stroke="#000" stroke-width="1.8"/><line x1="397.7" y1="982.5" x2="397.7" y2="990.0" stroke="#000" stroke-width="1.8"/><line x1="517.5" y1="982.5" x2="517.5" y2="990.0" stroke="#000" stroke-width="1.8"/><line x1="636.8" y1="982.5" x2="636.8" y2="990.0" stroke="#000" stroke-width="1.8"/><text x="157.0" y="1007.8" font-size="23" text-anchor="middle" font-weight="normal" >-0.28</text><text x="396.8" y="1007.8" font-size="23" text-anchor="middle" font-weight="normal" >0</text><text x="638.9" y="1007.8" font-size="23" text-anchor="middle" font-weight="normal" >0.28</text><text x="676.5" y="976.9" font-size="24" text-anchor="start" font-weight="normal" >m/s</text><polygon points="939.5,955.0 950.2,945.5 950.2,964.5" fill="rgb(190, 200, 255)"/><polygon points="1138.4,955.0 1128.3,945.5 1128.3,964.5" fill="rgb(128, 0, 0)"/><rect x="950.2" y="945.5" width="178.1" height="19.0" fill="url(#gpgv)"/><line x1="1127.8" y1="946.5" x2="1127.8" y2="963.5" stroke="rgba(255,255,255,0.45)" stroke-width="0.8"/><line x1="950.7" y1="946.5" x2="950.7" y2="963.5" stroke="rgba(255,255,255,0.3)" stroke-width="0.8"/><polygon points="939.5,955.0 950.2,945.5 1128.3,945.5 1138.4,955.0 1128.3,964.5 950.2,964.5" fill="none" stroke="#000" stroke-width="2" stroke-linejoin="miter"/><line x1="948.9" y1="964.5" x2="948.9" y2="972.0" stroke="#000" stroke-width="1.8"/><line x1="1024.1" y1="964.5" x2="1024.1" y2="972.0" stroke="#000" stroke-width="1.8"/><line x1="1098.5" y1="964.5" x2="1098.5" y2="972.0" stroke="#000" stroke-width="1.8"/><line x1="1120.8" y1="964.5" x2="1120.8" y2="972.0" stroke="#000" stroke-width="1.8"/><text x="948.5" y="996.3" font-size="23" text-anchor="middle" font-weight="normal" >0.05</text><text x="1017.6" y="996.3" font-size="23" text-anchor="middle" font-weight="normal" >0.1</text><text x="1095.4" y="996.3" font-size="23" text-anchor="middle" font-weight="normal" >1</text><text x="1121.2" y="996.3" font-size="23" text-anchor="middle" font-weight="normal" >2</text><text x="1149.6" y="958.7" font-size="24" text-anchor="start" font-weight="normal" >m/s</text><polygon points="1208.1,955.0 1217.9,945.5 1217.9,964.5" fill="rgb(0, 0, 77)"/><polygon points="1406.6,955.0 1396.5,945.5 1396.5,964.5" fill="rgb(128, 0, 0)"/><rect x="1217.9" y="945.5" width="178.6" height="19.0" fill="url(#gseis)"/><line x1="1396.0" y1="946.5" x2="1396.0" y2="963.5" stroke="rgba(255,255,255,0.45)" stroke-width="0.8"/><line x1="1218.4" y1="946.5" x2="1218.4" y2="963.5" stroke="rgba(255,255,255,0.3)" stroke-width="0.8"/><polygon points="1208.1,955.0 1217.9,945.5 1396.5,945.5 1406.6,955.0 1396.5,964.5 1217.9,964.5" fill="none" stroke="#000" stroke-width="2" stroke-linejoin="miter"/><line x1="1217.0" y1="964.5" x2="1217.0" y2="972.0" stroke="#000" stroke-width="1.8"/><line x1="1262.1" y1="964.5" x2="1262.1" y2="972.0" stroke="#000" stroke-width="1.8"/><line x1="1307.3" y1="964.5" x2="1307.3" y2="972.0" stroke="#000" stroke-width="1.8"/><line x1="1351.9" y1="964.5" x2="1351.9" y2="972.0" stroke="#000" stroke-width="1.8"/><line x1="1397.0" y1="964.5" x2="1397.0" y2="972.0" stroke="#000" stroke-width="1.8"/><text x="1219.8" y="996.9" font-size="23" text-anchor="middle" font-weight="normal" >-1.5</text><text x="1307.4" y="996.9" font-size="23" text-anchor="middle" font-weight="normal" >0</text><text x="1396.2" y="996.9" font-size="23" text-anchor="middle" font-weight="normal" >1.5</text><text x="1424.4" y="959.0" font-size="24" text-anchor="start" font-weight="normal" >log</text><text x="1416.2" y="986.5" font-size="23" text-anchor="start" font-weight="normal" >error</text><polygon points="1478.8,954.5 1489.2,945.0 1489.2,964.0" fill="rgb(140, 0, 0)"/><polygon points="1684.2,954.5 1674.0,945.0 1674.0,964.0" fill="rgb(190, 200, 255)"/><rect x="1489.2" y="945.0" width="184.8" height="19.0" fill="url(#gtpgv)"/><line x1="1673.5" y1="946.0" x2="1673.5" y2="963.0" stroke="rgba(255,255,255,0.45)" stroke-width="0.8"/><line x1="1489.7" y1="946.0" x2="1489.7" y2="963.0" stroke="rgba(255,255,255,0.3)" stroke-width="0.8"/><polygon points="1478.8,954.5 1489.2,945.0 1674.0,945.0 1684.2,954.5 1674.0,964.0 1489.2,964.0" fill="none" stroke="#000" stroke-width="2" stroke-linejoin="miter"/><line x1="1520.1" y1="964.0" x2="1520.1" y2="971.5" stroke="#000" stroke-width="1.8"/><line x1="1571.4" y1="964.0" x2="1571.4" y2="971.5" stroke="#000" stroke-width="1.8"/><line x1="1623.8" y1="964.0" x2="1623.8" y2="971.5" stroke="#000" stroke-width="1.8"/><line x1="1673.8" y1="964.0" x2="1673.8" y2="971.5" stroke="#000" stroke-width="1.8"/><text x="1517.4" y="997.1" font-size="23" text-anchor="middle" font-weight="normal" >10</text><text x="1672.1" y="997.1" font-size="23" text-anchor="middle" font-weight="normal" >40</text><text x="1701.4" y="963.1" font-size="23" text-anchor="start" font-weight="normal" >s</text><polygon points="1744.1,954.0 1753.9,944.7 1753.9,963.3" fill="rgb(0, 0, 77)"/><polygon points="1942.2,954.0 1932.4,944.7 1932.4,963.3" fill="rgb(128, 0, 0)"/><rect x="1753.9" y="944.7" width="178.5" height="18.6" fill="url(#gseis)"/><line x1="1931.9" y1="945.7" x2="1931.9" y2="962.3" stroke="rgba(255,255,255,0.45)" stroke-width="0.8"/><line x1="1754.4" y1="945.7" x2="1754.4" y2="962.3" stroke="rgba(255,255,255,0.3)" stroke-width="0.8"/><polygon points="1744.1,954.0 1753.9,944.7 1932.4,944.7 1942.2,954.0 1932.4,963.3 1753.9,963.3" fill="none" stroke="#000" stroke-width="2" stroke-linejoin="miter"/><line x1="1753.0" y1="963.3" x2="1753.0" y2="970.8" stroke="#000" stroke-width="1.8"/><line x1="1798.3" y1="963.3" x2="1798.3" y2="970.8" stroke="#000" stroke-width="1.8"/><line x1="1842.7" y1="963.3" x2="1842.7" y2="970.8" stroke="#000" stroke-width="1.8"/><line x1="1887.9" y1="963.3" x2="1887.9" y2="970.8" stroke="#000" stroke-width="1.8"/><line x1="1933.0" y1="963.3" x2="1933.0" y2="970.8" stroke="#000" stroke-width="1.8"/><text x="1752.7" y="996.2" font-size="23" text-anchor="middle" font-weight="normal" >-20</text><text x="1843.4" y="996.2" font-size="23" text-anchor="middle" font-weight="normal" >0</text><text x="1939.5" y="996.2" font-size="23" text-anchor="middle" font-weight="normal" >20</text><text x="1962.6" y="959.0" font-size="23" text-anchor="start" font-weight="normal" >s</text></svg></body></html>
